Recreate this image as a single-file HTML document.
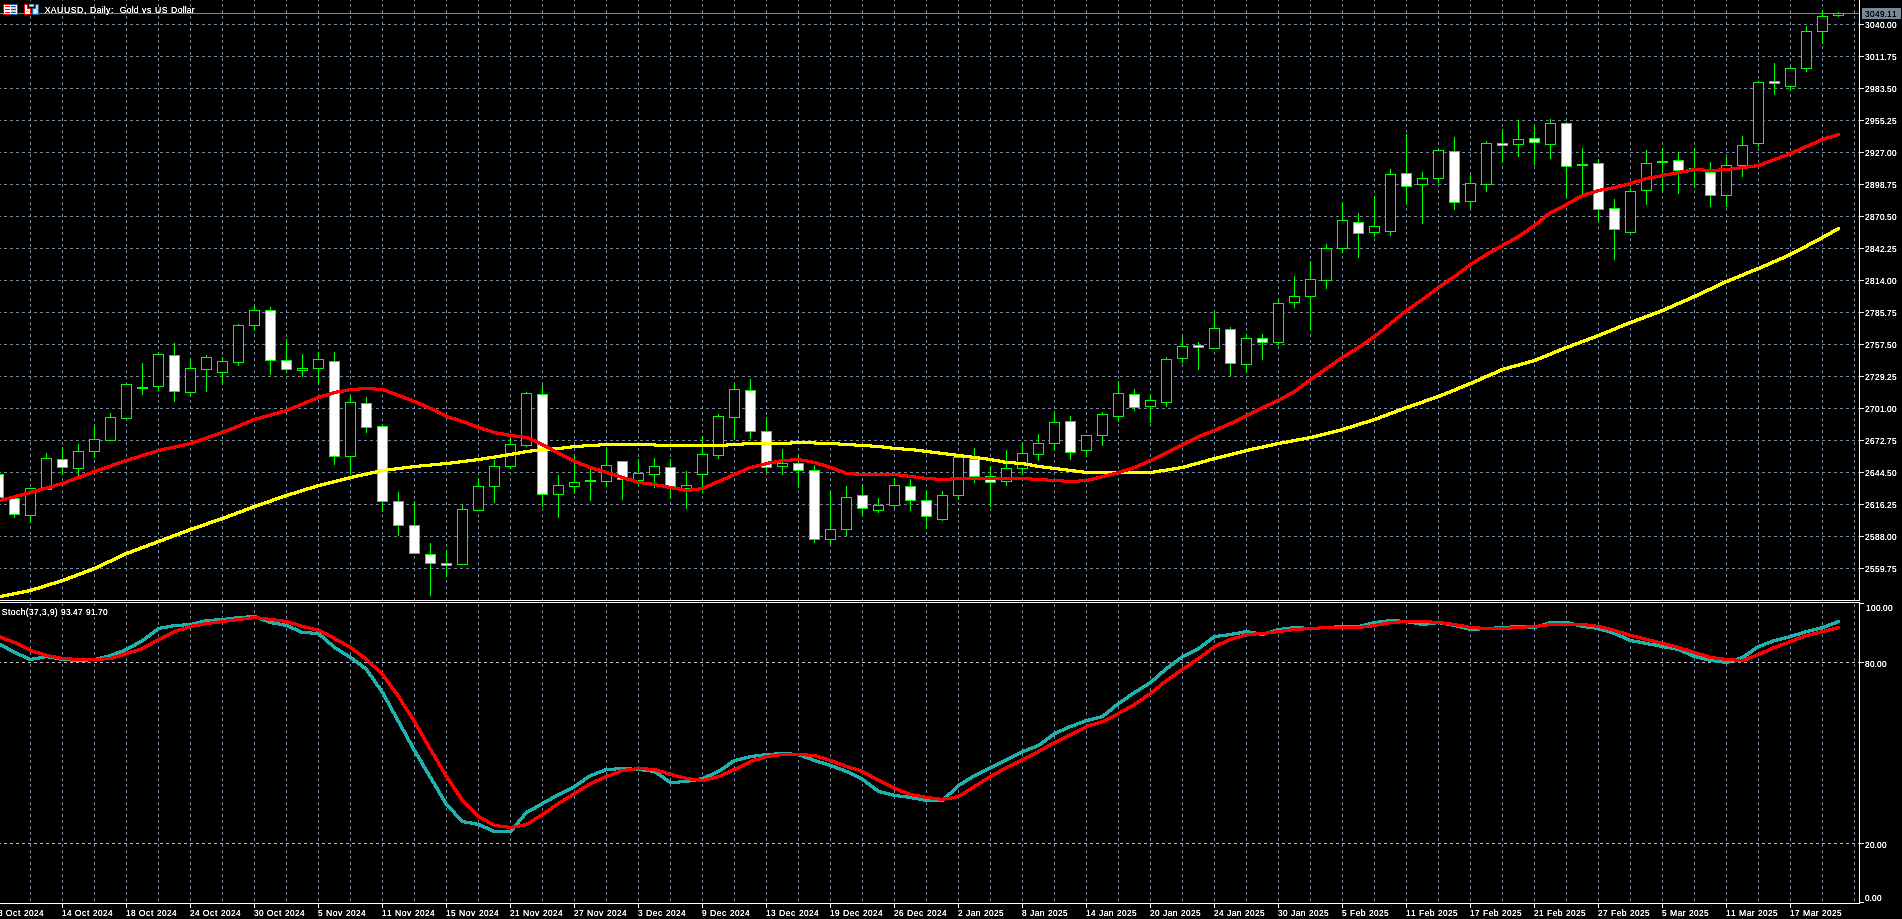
<!DOCTYPE html>
<html><head><meta charset="utf-8"><title>XAUUSD, Daily</title>
<style>html,body{margin:0;padding:0;background:#000;overflow:hidden;width:1902px;height:919px}svg{display:block}text{font-family:"Liberation Sans",sans-serif;fill:#fff}</style></head><body>
<svg width="1902" height="919" viewBox="0 0 1902 919">
<defs><clipPath id="cm"><rect x="0" y="0" width="1859" height="600"/></clipPath><clipPath id="cs"><rect x="0" y="603" width="1859" height="300"/></clipPath><filter id="tb" x="0" y="0" width="1" height="1" filterUnits="objectBoundingBox"><feComponentTransfer><feFuncA type="linear" slope="1.4"/></feComponentTransfer></filter></defs>
<rect x="0" y="0" width="1902" height="919" fill="#000"/>
<g clip-path="url(#cm)" shape-rendering="crispEdges"><path d="M30.5 -2V600M62.5 -2V600M94.5 -2V600M126.5 -2V600M158.5 -2V600M190.5 -2V600M222.5 -2V600M254.5 -2V600M286.5 -2V600M318.5 -2V600M350.5 -2V600M382.5 -2V600M414.5 -2V600M446.5 -2V600M478.5 -2V600M510.5 -2V600M542.5 -2V600M574.5 -2V600M606.5 -2V600M638.5 -2V600M670.5 -2V600M702.5 -2V600M734.5 -2V600M766.5 -2V600M798.5 -2V600M830.5 -2V600M862.5 -2V600M894.5 -2V600M926.5 -2V600M958.5 -2V600M990.5 -2V600M1022.5 -2V600M1054.5 -2V600M1086.5 -2V600M1118.5 -2V600M1150.5 -2V600M1182.5 -2V600M1214.5 -2V600M1246.5 -2V600M1278.5 -2V600M1310.5 -2V600M1342.5 -2V600M1374.5 -2V600M1406.5 -2V600M1438.5 -2V600M1470.5 -2V600M1502.5 -2V600M1534.5 -2V600M1566.5 -2V600M1598.5 -2V600M1630.5 -2V600M1662.5 -2V600M1694.5 -2V600M1726.5 -2V600M1758.5 -2V600M1790.5 -2V600M1822.5 -2V600M1854.5 -2V600M-2 24.5H1859M-2 56.5H1859M-2 88.5H1859M-2 120.5H1859M-2 152.5H1859M-2 184.5H1859M-2 216.5H1859M-2 248.5H1859M-2 280.5H1859M-2 312.5H1859M-2 344.5H1859M-2 376.5H1859M-2 408.5H1859M-2 440.5H1859M-2 472.5H1859M-2 504.5H1859M-2 536.5H1859M-2 568.5H1859" stroke="#778899" stroke-width="1" stroke-dasharray="3 3" fill="none"/></g>
<g clip-path="url(#cs)" shape-rendering="crispEdges"><path d="M30.5 598V903M62.5 598V903M94.5 598V903M126.5 598V903M158.5 598V903M190.5 598V903M222.5 598V903M254.5 598V903M286.5 598V903M318.5 598V903M350.5 598V903M382.5 598V903M414.5 598V903M446.5 598V903M478.5 598V903M510.5 598V903M542.5 598V903M574.5 598V903M606.5 598V903M638.5 598V903M670.5 598V903M702.5 598V903M734.5 598V903M766.5 598V903M798.5 598V903M830.5 598V903M862.5 598V903M894.5 598V903M926.5 598V903M958.5 598V903M990.5 598V903M1022.5 598V903M1054.5 598V903M1086.5 598V903M1118.5 598V903M1150.5 598V903M1182.5 598V903M1214.5 598V903M1246.5 598V903M1278.5 598V903M1310.5 598V903M1342.5 598V903M1374.5 598V903M1406.5 598V903M1438.5 598V903M1470.5 598V903M1502.5 598V903M1534.5 598V903M1566.5 598V903M1598.5 598V903M1630.5 598V903M1662.5 598V903M1694.5 598V903M1726.5 598V903M1758.5 598V903M1790.5 598V903M1822.5 598V903M1854.5 598V903" stroke="#778899" stroke-width="1" stroke-dasharray="3 3" fill="none"/><path d="M-2 662.5H1859M-2 843.5H1859" stroke="#C0C0C0" stroke-width="1" stroke-dasharray="3 3" fill="none"/></g>
<rect x="0" y="13" width="1859" height="1" fill="#778899"/>
<g clip-path="url(#cm)" shape-rendering="crispEdges"><path d="M-2 498h1v3h-1zM-7 474h11v24h-11zM14 515h1v3h-1zM9 498h11v17h-11zM30 516h1v7h-1zM25 488h11v28h-11zM46 453h1v5h-1zM41 458h11v32h-11zM62 447h1v12h-1zM62 468h1v7h-1zM57 459h11v9h-11zM78 444h1v7h-1zM78 469h1v8h-1zM73 451h11v18h-11zM94 425h1v14h-1zM94 452h1v6h-1zM89 439h11v13h-11zM110 413h1v4h-1zM105 417h11v24h-11zM121 384h11v35h-11zM142 363h1v24h-1zM142 389h1v6h-1zM137 387h11v2h-11zM158 387h1v4h-1zM153 354h11v33h-11zM174 343h1v12h-1zM174 392h1v10h-1zM169 355h11v37h-11zM190 359h1v9h-1zM190 393h1v2h-1zM185 368h11v25h-11zM206 355h1v2h-1zM206 370h1v22h-1zM201 357h11v13h-11zM222 357h1v4h-1zM222 373h1v10h-1zM217 361h11v12h-11zM238 324h1v1h-1zM238 363h1v3h-1zM233 325h11v38h-11zM254 305h1v5h-1zM254 326h1v5h-1zM249 310h11v16h-11zM270 307h1v3h-1zM270 361h1v14h-1zM265 310h11v51h-11zM286 339h1v21h-1zM286 370h1v3h-1zM281 360h11v10h-11zM302 354h1v14h-1zM302 371h1v6h-1zM297 368h11v3h-11zM318 352h1v7h-1zM318 369h1v15h-1zM313 359h11v10h-11zM334 352h1v9h-1zM334 457h1v8h-1zM329 361h11v96h-11zM350 396h1v6h-1zM350 457h1v18h-1zM345 402h11v55h-11zM366 397h1v6h-1zM366 428h1v5h-1zM361 403h11v25h-11zM382 425h1v1h-1zM382 502h1v10h-1zM377 426h11v76h-11zM398 492h1v9h-1zM398 526h1v10h-1zM393 501h11v25h-11zM414 501h1v24h-1zM409 525h11v29h-11zM430 543h1v11h-1zM430 564h1v32h-1zM425 554h11v10h-11zM446 550h1v13h-1zM446 566h1v11h-1zM441 563h11v3h-11zM462 505h1v4h-1zM457 509h11v56h-11zM478 478h1v8h-1zM473 486h11v25h-11zM494 460h1v6h-1zM494 487h1v16h-1zM489 466h11v21h-11zM510 437h1v7h-1zM510 467h1v2h-1zM505 444h11v23h-11zM526 392h1v1h-1zM526 446h1v1h-1zM521 393h11v53h-11zM542 385h1v9h-1zM542 495h1v12h-1zM537 394h11v101h-11zM558 475h1v10h-1zM558 495h1v23h-1zM553 485h11v10h-11zM574 456h1v26h-1zM574 487h1v7h-1zM569 482h11v5h-11zM590 468h1v12h-1zM590 482h1v19h-1zM585 480h11v2h-11zM606 447h1v18h-1zM606 482h1v5h-1zM601 465h11v17h-11zM622 480h1v20h-1zM617 461h11v19h-11zM638 459h1v14h-1zM638 481h1v4h-1zM633 473h11v8h-11zM654 458h1v8h-1zM654 475h1v13h-1zM649 466h11v9h-11zM670 459h1v8h-1zM670 487h1v12h-1zM665 467h11v20h-11zM686 471h1v14h-1zM686 489h1v20h-1zM681 485h11v4h-11zM702 436h1v18h-1zM702 475h1v18h-1zM697 454h11v21h-11zM718 414h1v2h-1zM718 456h1v3h-1zM713 416h11v40h-11zM734 384h1v5h-1zM734 418h1v22h-1zM729 389h11v29h-11zM750 379h1v11h-1zM750 432h1v7h-1zM745 390h11v42h-11zM766 417h1v14h-1zM766 468h1v4h-1zM761 431h11v37h-11zM782 449h1v14h-1zM782 467h1v8h-1zM777 463h11v4h-11zM798 455h1v8h-1zM798 471h1v17h-1zM793 463h11v8h-11zM814 465h1v5h-1zM814 540h1v3h-1zM809 470h11v70h-11zM830 491h1v38h-1zM830 540h1v4h-1zM825 529h11v11h-11zM846 486h1v11h-1zM846 530h1v6h-1zM841 497h11v33h-11zM862 485h1v10h-1zM862 509h1v6h-1zM857 495h11v14h-11zM878 498h1v7h-1zM878 511h1v2h-1zM873 505h11v6h-11zM894 478h1v7h-1zM894 506h1v2h-1zM889 485h11v21h-11zM910 479h1v7h-1zM910 501h1v10h-1zM905 486h11v15h-11zM926 490h1v10h-1zM926 517h1v12h-1zM921 500h11v17h-11zM942 491h1v4h-1zM942 520h1v1h-1zM937 495h11v25h-11zM958 496h1v4h-1zM953 457h11v39h-11zM974 448h1v11h-1zM974 477h1v6h-1zM969 459h11v18h-11zM990 466h1v10h-1zM990 483h1v24h-1zM985 476h11v7h-11zM1006 450h1v18h-1zM1006 482h1v4h-1zM1001 468h11v14h-11zM1022 443h1v10h-1zM1022 469h1v6h-1zM1017 453h11v16h-11zM1038 434h1v9h-1zM1038 455h1v6h-1zM1033 443h11v12h-11zM1054 411h1v11h-1zM1054 444h1v7h-1zM1049 422h11v22h-11zM1070 416h1v5h-1zM1070 453h1v7h-1zM1065 421h11v32h-11zM1086 451h1v6h-1zM1081 435h11v16h-11zM1102 412h1v2h-1zM1102 436h1v10h-1zM1097 414h11v22h-11zM1118 381h1v12h-1zM1118 417h1v5h-1zM1113 393h11v24h-11zM1134 389h1v5h-1zM1134 408h1v3h-1zM1129 394h11v14h-11zM1150 394h1v6h-1zM1150 407h1v16h-1zM1145 400h11v7h-11zM1166 357h1v2h-1zM1166 403h1v4h-1zM1161 359h11v44h-11zM1182 337h1v9h-1zM1182 359h1v4h-1zM1177 346h11v13h-11zM1198 342h1v3h-1zM1198 348h1v22h-1zM1193 345h11v3h-11zM1214 312h1v16h-1zM1209 328h11v21h-11zM1230 327h1v2h-1zM1230 364h1v12h-1zM1225 329h11v35h-11zM1246 334h1v4h-1zM1246 365h1v8h-1zM1241 338h11v27h-11zM1262 334h1v4h-1zM1262 343h1v17h-1zM1257 338h11v5h-11zM1278 300h1v3h-1zM1278 343h1v2h-1zM1273 303h11v40h-11zM1294 276h1v20h-1zM1294 303h1v5h-1zM1289 296h11v7h-11zM1310 261h1v18h-1zM1310 297h1v34h-1zM1305 279h11v18h-11zM1326 244h1v4h-1zM1326 281h1v8h-1zM1321 248h11v33h-11zM1342 202h1v18h-1zM1342 249h1v4h-1zM1337 220h11v29h-11zM1358 213h1v9h-1zM1358 234h1v24h-1zM1353 222h11v12h-11zM1374 196h1v30h-1zM1374 233h1v4h-1zM1369 226h11v7h-11zM1390 169h1v5h-1zM1390 232h1v4h-1zM1385 174h11v58h-11zM1406 134h1v39h-1zM1406 187h1v18h-1zM1401 173h11v14h-11zM1422 172h1v6h-1zM1422 185h1v39h-1zM1417 178h11v7h-11zM1438 149h1v1h-1zM1438 179h1v4h-1zM1433 150h11v29h-11zM1454 137h1v14h-1zM1454 203h1v7h-1zM1449 151h11v52h-11zM1470 175h1v8h-1zM1470 202h1v6h-1zM1465 183h11v19h-11zM1486 141h1v2h-1zM1486 185h1v7h-1zM1481 143h11v42h-11zM1502 129h1v14h-1zM1502 146h1v17h-1zM1497 143h11v3h-11zM1518 120h1v19h-1zM1518 145h1v12h-1zM1513 139h11v6h-11zM1534 126h1v12h-1zM1534 143h1v22h-1zM1529 138h11v5h-11zM1550 119h1v4h-1zM1550 145h1v14h-1zM1545 123h11v22h-11zM1566 122h1v1h-1zM1566 167h1v31h-1zM1561 123h11v44h-11zM1582 148h1v16h-1zM1582 166h1v29h-1zM1577 164h11v2h-11zM1598 159h1v4h-1zM1598 210h1v12h-1zM1593 163h11v47h-11zM1614 199h1v9h-1zM1614 230h1v30h-1zM1609 208h11v22h-11zM1630 188h1v3h-1zM1625 191h11v42h-11zM1646 150h1v13h-1zM1646 191h1v14h-1zM1641 163h11v28h-11zM1662 148h1v13h-1zM1662 163h1v29h-1zM1657 161h11v2h-11zM1678 152h1v8h-1zM1678 171h1v23h-1zM1673 160h11v11h-11zM1694 148h1v20h-1zM1694 170h1v18h-1zM1689 168h11v2h-11zM1710 162h1v10h-1zM1710 196h1v11h-1zM1705 172h11v24h-11zM1726 157h1v8h-1zM1726 196h1v11h-1zM1721 165h11v31h-11zM1742 136h1v9h-1zM1742 166h1v11h-1zM1737 145h11v21h-11zM1758 81h1v1h-1zM1758 144h1v3h-1zM1753 82h11v62h-11zM1774 63h1v18h-1zM1774 84h1v11h-1zM1769 81h11v3h-11zM1790 67h1v1h-1zM1790 87h1v4h-1zM1785 68h11v19h-11zM1806 26h1v5h-1zM1806 69h1v3h-1zM1801 31h11v38h-11zM1822 10h1v6h-1zM1822 32h1v12h-1zM1817 16h11v16h-11zM1838 12h1v1h-1zM1838 16h1v1h-1zM1833 13h11v3h-11z" fill="#00FF00"/><path d="M26 489h9v26h-9zM42 459h9v30h-9zM74 452h9v16h-9zM90 440h9v11h-9zM106 418h9v22h-9zM122 385h9v33h-9zM154 355h9v31h-9zM186 369h9v23h-9zM202 358h9v11h-9zM218 362h9v10h-9zM234 326h9v36h-9zM250 311h9v14h-9zM298 369h9v1h-9zM314 360h9v8h-9zM346 403h9v53h-9zM458 510h9v54h-9zM474 487h9v23h-9zM490 467h9v19h-9zM506 445h9v21h-9zM522 394h9v51h-9zM554 486h9v8h-9zM570 483h9v3h-9zM602 466h9v15h-9zM634 474h9v6h-9zM650 467h9v7h-9zM682 486h9v2h-9zM698 455h9v19h-9zM714 417h9v38h-9zM730 390h9v27h-9zM778 464h9v2h-9zM826 530h9v9h-9zM842 498h9v31h-9zM874 506h9v4h-9zM890 486h9v19h-9zM938 496h9v23h-9zM954 458h9v37h-9zM1002 469h9v12h-9zM1018 454h9v14h-9zM1034 444h9v10h-9zM1050 423h9v20h-9zM1082 436h9v14h-9zM1098 415h9v20h-9zM1114 394h9v22h-9zM1146 401h9v5h-9zM1162 360h9v42h-9zM1178 347h9v11h-9zM1210 329h9v19h-9zM1242 339h9v25h-9zM1274 304h9v38h-9zM1290 297h9v5h-9zM1306 280h9v16h-9zM1322 249h9v31h-9zM1338 221h9v27h-9zM1370 227h9v5h-9zM1386 175h9v56h-9zM1418 179h9v5h-9zM1434 151h9v27h-9zM1466 184h9v17h-9zM1482 144h9v40h-9zM1514 140h9v4h-9zM1546 124h9v20h-9zM1626 192h9v40h-9zM1642 164h9v26h-9zM1722 166h9v29h-9zM1738 146h9v19h-9zM1754 83h9v60h-9zM1786 69h9v17h-9zM1802 32h9v36h-9zM1818 17h9v14h-9zM1834 14h9v1h-9z" fill="#000"/><path d="M-6 475h9v22h-9zM10 499h9v15h-9zM58 460h9v7h-9zM170 356h9v35h-9zM266 311h9v49h-9zM282 361h9v8h-9zM330 362h9v94h-9zM362 404h9v23h-9zM378 427h9v74h-9zM394 502h9v23h-9zM410 526h9v27h-9zM426 555h9v8h-9zM442 564h9v1h-9zM538 395h9v99h-9zM618 462h9v17h-9zM666 468h9v18h-9zM746 391h9v40h-9zM762 432h9v35h-9zM794 464h9v6h-9zM810 471h9v68h-9zM858 496h9v12h-9zM906 487h9v13h-9zM922 501h9v15h-9zM970 460h9v16h-9zM986 477h9v5h-9zM1066 422h9v30h-9zM1130 395h9v12h-9zM1194 346h9v1h-9zM1226 330h9v33h-9zM1258 339h9v3h-9zM1354 223h9v10h-9zM1402 174h9v12h-9zM1450 152h9v50h-9zM1498 144h9v1h-9zM1530 139h9v3h-9zM1562 124h9v42h-9zM1594 164h9v45h-9zM1610 209h9v20h-9zM1674 161h9v9h-9zM1706 173h9v22h-9zM1770 82h9v1h-9z" fill="#FFF"/><path d="M-1 595h1v3h-1zM0 595h1v3h-1zM1 595h1v3h-1zM2 594h1v4h-1zM3 594h1v4h-1zM4 594h1v3h-1zM5 594h1v3h-1zM6 594h1v3h-1zM7 593h1v4h-1zM8 593h1v4h-1zM9 593h1v3h-1zM10 593h1v3h-1zM11 593h1v3h-1zM12 592h1v4h-1zM13 592h1v4h-1zM14 592h1v3h-1zM15 592h1v3h-1zM16 592h1v3h-1zM17 591h1v4h-1zM18 591h1v4h-1zM19 591h1v3h-1zM20 591h1v3h-1zM21 591h1v3h-1zM22 590h1v4h-1zM23 590h1v4h-1zM24 590h1v3h-1zM25 590h1v3h-1zM26 590h1v3h-1zM27 589h1v4h-1zM28 589h1v4h-1zM29 589h1v3h-1zM30 589h1v3h-1zM31 588h1v4h-1zM32 588h1v4h-1zM33 588h1v3h-1zM34 587h1v4h-1zM35 587h1v4h-1zM36 587h1v3h-1zM37 587h1v3h-1zM38 586h1v4h-1zM39 586h1v4h-1zM40 586h1v3h-1zM41 585h1v4h-1zM42 585h1v4h-1zM43 585h1v3h-1zM44 584h1v4h-1zM45 584h1v4h-1zM46 584h1v3h-1zM47 583h1v4h-1zM48 583h1v4h-1zM49 583h1v3h-1zM50 582h1v4h-1zM51 582h1v4h-1zM52 582h1v3h-1zM53 582h1v3h-1zM54 581h1v4h-1zM55 581h1v4h-1zM56 581h1v3h-1zM57 580h1v4h-1zM58 580h1v4h-1zM59 580h1v3h-1zM60 579h1v4h-1zM61 579h1v4h-1zM62 579h1v3h-1zM63 578h1v4h-1zM64 578h1v4h-1zM65 578h1v3h-1zM66 577h1v4h-1zM67 577h1v4h-1zM68 576h1v4h-1zM69 576h1v4h-1zM70 576h1v3h-1zM71 575h1v4h-1zM72 575h1v4h-1zM73 575h1v3h-1zM74 574h1v4h-1zM75 574h1v4h-1zM76 573h1v4h-1zM77 573h1v4h-1zM78 573h1v3h-1zM79 572h1v4h-1zM80 572h1v4h-1zM81 572h1v3h-1zM82 571h1v4h-1zM83 571h1v4h-1zM84 570h1v4h-1zM85 570h1v4h-1zM86 570h1v3h-1zM87 569h1v4h-1zM88 569h1v4h-1zM89 569h1v3h-1zM90 568h1v4h-1zM91 568h1v4h-1zM92 567h1v4h-1zM93 567h1v4h-1zM94 567h1v3h-1zM95 566h1v4h-1zM96 566h1v4h-1zM97 565h1v4h-1zM98 565h1v4h-1zM99 564h1v4h-1zM100 564h1v4h-1zM101 563h1v4h-1zM102 563h1v4h-1zM103 562h1v4h-1zM104 562h1v4h-1zM105 561h1v4h-1zM106 561h1v4h-1zM107 560h1v4h-1zM108 560h1v4h-1zM109 560h1v3h-1zM110 559h1v4h-1zM111 559h1v4h-1zM112 558h1v4h-1zM113 558h1v4h-1zM114 557h1v4h-1zM115 557h1v4h-1zM116 556h1v4h-1zM117 556h1v4h-1zM118 555h1v4h-1zM119 555h1v4h-1zM120 554h1v4h-1zM121 554h1v4h-1zM122 553h1v4h-1zM123 553h1v4h-1zM124 552h1v4h-1zM125 552h1v4h-1zM126 552h1v3h-1zM127 551h1v4h-1zM128 551h1v4h-1zM129 551h1v3h-1zM130 550h1v4h-1zM131 550h1v4h-1zM132 549h1v4h-1zM133 549h1v4h-1zM134 549h1v3h-1zM135 548h1v4h-1zM136 548h1v4h-1zM137 548h1v3h-1zM138 547h1v4h-1zM139 547h1v4h-1zM140 546h1v4h-1zM141 546h1v4h-1zM142 546h1v3h-1zM143 545h1v4h-1zM144 545h1v4h-1zM145 545h1v3h-1zM146 544h1v4h-1zM147 544h1v4h-1zM148 543h1v4h-1zM149 543h1v4h-1zM150 543h1v3h-1zM151 542h1v4h-1zM152 542h1v4h-1zM153 542h1v3h-1zM154 541h1v4h-1zM155 541h1v4h-1zM156 540h1v4h-1zM157 540h1v4h-1zM158 540h1v3h-1zM159 539h1v4h-1zM160 539h1v4h-1zM161 539h1v3h-1zM162 538h1v4h-1zM163 538h1v4h-1zM164 537h1v4h-1zM165 537h1v4h-1zM166 537h1v3h-1zM167 536h1v4h-1zM168 536h1v4h-1zM169 536h1v3h-1zM170 535h1v4h-1zM171 535h1v4h-1zM172 534h1v4h-1zM173 534h1v4h-1zM174 534h1v3h-1zM175 533h1v4h-1zM176 533h1v4h-1zM177 533h1v3h-1zM178 532h1v4h-1zM179 532h1v4h-1zM180 531h1v4h-1zM181 531h1v4h-1zM182 531h1v3h-1zM183 530h1v4h-1zM184 530h1v4h-1zM185 530h1v3h-1zM186 529h1v4h-1zM187 529h1v4h-1zM188 528h1v4h-1zM189 528h1v4h-1zM190 528h1v3h-1zM191 527h1v4h-1zM192 527h1v4h-1zM193 527h1v3h-1zM194 526h1v4h-1zM195 526h1v4h-1zM196 526h1v3h-1zM197 525h1v4h-1zM198 525h1v4h-1zM199 525h1v3h-1zM200 524h1v4h-1zM201 524h1v4h-1zM202 524h1v3h-1zM203 523h1v4h-1zM204 523h1v4h-1zM205 523h1v3h-1zM206 522h1v4h-1zM207 522h1v4h-1zM208 521h1v4h-1zM209 521h1v4h-1zM210 521h1v3h-1zM211 520h1v4h-1zM212 520h1v4h-1zM213 520h1v3h-1zM214 519h1v4h-1zM215 519h1v4h-1zM216 519h1v3h-1zM217 518h1v4h-1zM218 518h1v4h-1zM219 518h1v3h-1zM220 517h1v4h-1zM221 517h1v4h-1zM222 517h1v3h-1zM223 516h1v4h-1zM224 516h1v4h-1zM225 516h1v3h-1zM226 515h1v4h-1zM227 515h1v4h-1zM228 514h1v4h-1zM229 514h1v4h-1zM230 514h1v3h-1zM231 513h1v4h-1zM232 513h1v4h-1zM233 513h1v3h-1zM234 512h1v4h-1zM235 512h1v4h-1zM236 511h1v4h-1zM237 511h1v4h-1zM238 511h1v3h-1zM239 510h1v4h-1zM240 510h1v4h-1zM241 510h1v3h-1zM242 509h1v4h-1zM243 509h1v4h-1zM244 508h1v4h-1zM245 508h1v4h-1zM246 508h1v3h-1zM247 507h1v4h-1zM248 507h1v4h-1zM249 507h1v3h-1zM250 506h1v4h-1zM251 506h1v4h-1zM252 505h1v4h-1zM253 505h1v4h-1zM254 505h1v3h-1zM255 504h1v4h-1zM256 504h1v4h-1zM257 504h1v3h-1zM258 503h1v4h-1zM259 503h1v4h-1zM260 503h1v3h-1zM261 502h1v4h-1zM262 502h1v4h-1zM263 502h1v3h-1zM264 501h1v4h-1zM265 501h1v4h-1zM266 501h1v3h-1zM267 500h1v4h-1zM268 500h1v4h-1zM269 500h1v3h-1zM270 499h1v4h-1zM271 499h1v4h-1zM272 498h1v4h-1zM273 498h1v4h-1zM274 498h1v3h-1zM275 497h1v4h-1zM276 497h1v4h-1zM277 497h1v3h-1zM278 496h1v4h-1zM279 496h1v4h-1zM280 496h1v3h-1zM281 495h1v4h-1zM282 495h1v4h-1zM283 495h1v3h-1zM284 494h1v4h-1zM285 494h1v4h-1zM286 494h1v3h-1zM287 493h1v4h-1zM288 493h1v4h-1zM289 493h1v3h-1zM290 492h1v4h-1zM291 492h1v4h-1zM292 492h1v3h-1zM293 492h1v3h-1zM294 491h1v4h-1zM295 491h1v4h-1zM296 491h1v3h-1zM297 490h1v4h-1zM298 490h1v4h-1zM299 490h1v3h-1zM300 489h1v4h-1zM301 489h1v4h-1zM302 489h1v3h-1zM303 488h1v4h-1zM304 488h1v4h-1zM305 488h1v3h-1zM306 487h1v4h-1zM307 487h1v4h-1zM308 487h1v3h-1zM309 487h1v3h-1zM310 486h1v4h-1zM311 486h1v4h-1zM312 486h1v3h-1zM313 485h1v4h-1zM314 485h1v4h-1zM315 485h1v3h-1zM316 484h1v4h-1zM317 484h1v4h-1zM318 484h1v3h-1zM319 484h1v3h-1zM320 483h1v4h-1zM321 483h1v4h-1zM322 483h1v3h-1zM323 483h1v3h-1zM324 482h1v4h-1zM325 482h1v4h-1zM326 482h1v3h-1zM327 482h1v3h-1zM328 481h1v4h-1zM329 481h1v4h-1zM330 481h1v3h-1zM331 481h1v3h-1zM332 480h1v4h-1zM333 480h1v4h-1zM334 480h1v3h-1zM335 480h1v3h-1zM336 479h1v4h-1zM337 479h1v4h-1zM338 479h1v3h-1zM339 479h1v3h-1zM340 478h1v4h-1zM341 478h1v4h-1zM342 478h1v3h-1zM343 478h1v3h-1zM344 477h1v4h-1zM345 477h1v4h-1zM346 477h1v3h-1zM347 477h1v3h-1zM348 476h1v4h-1zM349 476h1v4h-1zM350 476h1v3h-1zM351 476h1v3h-1zM352 475h1v4h-1zM353 475h1v4h-1zM354 475h1v3h-1zM355 475h1v3h-1zM356 474h1v4h-1zM357 474h1v4h-1zM358 474h1v3h-1zM359 474h1v3h-1zM360 474h1v3h-1zM361 473h1v4h-1zM362 473h1v4h-1zM363 473h1v3h-1zM364 473h1v3h-1zM365 473h1v3h-1zM366 472h1v4h-1zM367 472h1v4h-1zM368 472h1v3h-1zM369 472h1v3h-1zM370 471h1v4h-1zM371 471h1v4h-1zM372 471h1v3h-1zM373 471h1v3h-1zM374 471h1v3h-1zM375 470h1v4h-1zM376 470h1v4h-1zM377 470h1v3h-1zM378 470h1v3h-1zM379 469h1v4h-1zM380 469h1v4h-1zM381 469h1v3h-1zM382 469h1v3h-1zM383 469h1v3h-1zM384 469h1v3h-1zM385 469h1v3h-1zM386 468h1v4h-1zM387 468h1v4h-1zM388 468h1v3h-1zM389 468h1v3h-1zM390 468h1v3h-1zM391 468h1v3h-1zM392 468h1v3h-1zM393 468h1v3h-1zM394 467h1v4h-1zM395 467h1v4h-1zM396 467h1v3h-1zM397 467h1v3h-1zM398 467h1v3h-1zM399 467h1v3h-1zM400 467h1v3h-1zM401 467h1v3h-1zM402 466h1v4h-1zM403 466h1v4h-1zM404 466h1v3h-1zM405 466h1v3h-1zM406 466h1v3h-1zM407 466h1v3h-1zM408 466h1v3h-1zM409 466h1v3h-1zM410 465h1v4h-1zM411 465h1v4h-1zM412 465h1v3h-1zM413 465h1v3h-1zM414 465h1v3h-1zM415 465h1v3h-1zM416 465h1v3h-1zM417 465h1v3h-1zM418 465h1v3h-1zM419 464h1v4h-1zM420 464h1v4h-1zM421 464h1v3h-1zM422 464h1v3h-1zM423 464h1v3h-1zM424 464h1v3h-1zM425 464h1v3h-1zM426 464h1v3h-1zM427 464h1v3h-1zM428 464h1v3h-1zM429 464h1v3h-1zM430 463h1v4h-1zM431 463h1v4h-1zM432 463h1v3h-1zM433 463h1v3h-1zM434 463h1v3h-1zM435 463h1v3h-1zM436 463h1v3h-1zM437 463h1v3h-1zM438 463h1v3h-1zM439 463h1v3h-1zM440 462h1v4h-1zM441 462h1v4h-1zM442 462h1v3h-1zM443 462h1v3h-1zM444 462h1v3h-1zM445 462h1v3h-1zM446 462h1v3h-1zM447 462h1v3h-1zM448 462h1v3h-1zM449 462h1v3h-1zM450 461h1v4h-1zM451 461h1v4h-1zM452 461h1v3h-1zM453 461h1v3h-1zM454 461h1v3h-1zM455 461h1v3h-1zM456 461h1v3h-1zM457 461h1v3h-1zM458 460h1v4h-1zM459 460h1v4h-1zM460 460h1v3h-1zM461 460h1v3h-1zM462 460h1v3h-1zM463 460h1v3h-1zM464 460h1v3h-1zM465 460h1v3h-1zM466 459h1v4h-1zM467 459h1v4h-1zM468 459h1v3h-1zM469 459h1v3h-1zM470 459h1v3h-1zM471 459h1v3h-1zM472 459h1v3h-1zM473 459h1v3h-1zM474 458h1v4h-1zM475 458h1v4h-1zM476 458h1v3h-1zM477 458h1v3h-1zM478 458h1v3h-1zM479 458h1v3h-1zM480 458h1v3h-1zM481 457h1v4h-1zM482 457h1v4h-1zM483 457h1v3h-1zM484 457h1v3h-1zM485 457h1v3h-1zM486 457h1v3h-1zM487 456h1v4h-1zM488 456h1v4h-1zM489 456h1v3h-1zM490 456h1v3h-1zM491 456h1v3h-1zM492 456h1v3h-1zM493 456h1v3h-1zM494 455h1v4h-1zM495 455h1v4h-1zM496 455h1v3h-1zM497 455h1v3h-1zM498 455h1v3h-1zM499 455h1v3h-1zM500 454h1v4h-1zM501 454h1v4h-1zM502 454h1v3h-1zM503 454h1v3h-1zM504 454h1v3h-1zM505 454h1v3h-1zM506 453h1v4h-1zM507 453h1v4h-1zM508 453h1v3h-1zM509 453h1v3h-1zM510 453h1v3h-1zM511 453h1v3h-1zM512 452h1v4h-1zM513 452h1v4h-1zM514 452h1v3h-1zM515 452h1v3h-1zM516 452h1v3h-1zM517 452h1v3h-1zM518 451h1v4h-1zM519 451h1v4h-1zM520 451h1v3h-1zM521 451h1v3h-1zM522 451h1v3h-1zM523 450h1v4h-1zM524 450h1v4h-1zM525 450h1v3h-1zM526 450h1v3h-1zM527 450h1v3h-1zM528 450h1v3h-1zM529 450h1v3h-1zM530 449h1v4h-1zM531 449h1v4h-1zM532 449h1v3h-1zM533 449h1v3h-1zM534 449h1v3h-1zM535 449h1v3h-1zM536 449h1v3h-1zM537 449h1v3h-1zM538 448h1v4h-1zM539 448h1v4h-1zM540 448h1v3h-1zM541 448h1v3h-1zM542 448h1v3h-1zM543 448h1v3h-1zM544 448h1v3h-1zM545 448h1v3h-1zM546 448h1v3h-1zM547 448h1v3h-1zM548 448h1v3h-1zM549 448h1v3h-1zM550 447h1v4h-1zM551 447h1v4h-1zM552 447h1v3h-1zM553 447h1v3h-1zM554 447h1v3h-1zM555 447h1v3h-1zM556 447h1v3h-1zM557 447h1v3h-1zM558 447h1v3h-1zM559 447h1v3h-1zM560 447h1v3h-1zM561 447h1v3h-1zM562 446h1v4h-1zM563 446h1v4h-1zM564 446h1v3h-1zM565 446h1v3h-1zM566 446h1v3h-1zM567 446h1v3h-1zM568 446h1v3h-1zM569 446h1v3h-1zM570 445h1v4h-1zM571 445h1v4h-1zM572 445h1v3h-1zM573 445h1v3h-1zM574 445h1v3h-1zM575 445h1v3h-1zM576 445h1v3h-1zM577 445h1v3h-1zM578 445h1v3h-1zM579 445h1v3h-1zM580 445h1v3h-1zM581 445h1v3h-1zM582 444h1v4h-1zM583 444h1v4h-1zM584 444h1v3h-1zM585 444h1v3h-1zM586 444h1v3h-1zM587 444h1v3h-1zM588 444h1v3h-1zM589 444h1v3h-1zM590 444h1v3h-1zM591 444h1v3h-1zM592 444h1v3h-1zM593 444h1v3h-1zM594 444h1v3h-1zM595 444h1v3h-1zM596 444h1v3h-1zM597 444h1v3h-1zM598 443h1v4h-1zM599 443h1v4h-1zM600 443h1v3h-1zM601 443h1v3h-1zM602 443h1v3h-1zM603 443h1v3h-1zM604 443h1v3h-1zM605 443h1v3h-1zM606 443h1v3h-1zM607 443h1v3h-1zM608 443h1v3h-1zM609 443h1v3h-1zM610 443h1v3h-1zM611 443h1v3h-1zM612 443h1v3h-1zM613 443h1v3h-1zM614 443h1v3h-1zM615 443h1v3h-1zM616 443h1v3h-1zM617 443h1v3h-1zM618 443h1v3h-1zM619 443h1v3h-1zM620 443h1v3h-1zM621 443h1v3h-1zM622 443h1v3h-1zM623 443h1v3h-1zM624 443h1v3h-1zM625 443h1v3h-1zM626 443h1v3h-1zM627 443h1v3h-1zM628 443h1v3h-1zM629 443h1v3h-1zM630 443h1v3h-1zM631 443h1v3h-1zM632 443h1v3h-1zM633 443h1v3h-1zM634 443h1v3h-1zM635 443h1v3h-1zM636 443h1v3h-1zM637 443h1v3h-1zM638 443h1v3h-1zM639 443h1v3h-1zM640 443h1v3h-1zM641 443h1v3h-1zM642 443h1v3h-1zM643 443h1v3h-1zM644 443h1v3h-1zM645 443h1v3h-1zM646 443h1v3h-1zM647 443h1v3h-1zM648 443h1v3h-1zM649 443h1v3h-1zM650 443h1v3h-1zM651 443h1v3h-1zM652 443h1v3h-1zM653 443h1v3h-1zM654 443h1v4h-1zM655 443h1v4h-1zM656 444h1v3h-1zM657 444h1v3h-1zM658 444h1v3h-1zM659 444h1v3h-1zM660 444h1v3h-1zM661 444h1v3h-1zM662 444h1v3h-1zM663 444h1v3h-1zM664 444h1v3h-1zM665 444h1v3h-1zM666 444h1v3h-1zM667 444h1v3h-1zM668 444h1v3h-1zM669 444h1v3h-1zM670 444h1v3h-1zM671 444h1v3h-1zM672 444h1v3h-1zM673 444h1v3h-1zM674 444h1v3h-1zM675 444h1v3h-1zM676 444h1v3h-1zM677 444h1v3h-1zM678 444h1v3h-1zM679 444h1v3h-1zM680 444h1v3h-1zM681 444h1v3h-1zM682 444h1v3h-1zM683 444h1v3h-1zM684 444h1v3h-1zM685 444h1v3h-1zM686 444h1v3h-1zM687 444h1v3h-1zM688 444h1v3h-1zM689 444h1v3h-1zM690 444h1v3h-1zM691 444h1v3h-1zM692 444h1v3h-1zM693 444h1v3h-1zM694 444h1v3h-1zM695 444h1v3h-1zM696 444h1v3h-1zM697 444h1v3h-1zM698 444h1v3h-1zM699 444h1v3h-1zM700 444h1v3h-1zM701 444h1v3h-1zM702 444h1v3h-1zM703 444h1v3h-1zM704 444h1v3h-1zM705 444h1v3h-1zM706 444h1v3h-1zM707 444h1v3h-1zM708 444h1v3h-1zM709 444h1v3h-1zM710 444h1v3h-1zM711 444h1v3h-1zM712 444h1v3h-1zM713 444h1v3h-1zM714 444h1v3h-1zM715 444h1v3h-1zM716 444h1v3h-1zM717 444h1v3h-1zM718 444h1v3h-1zM719 444h1v3h-1zM720 444h1v3h-1zM721 444h1v3h-1zM722 444h1v3h-1zM723 444h1v3h-1zM724 444h1v3h-1zM725 444h1v3h-1zM726 443h1v4h-1zM727 443h1v4h-1zM728 443h1v3h-1zM729 443h1v3h-1zM730 443h1v3h-1zM731 443h1v3h-1zM732 443h1v3h-1zM733 443h1v3h-1zM734 443h1v3h-1zM735 443h1v3h-1zM736 443h1v3h-1zM737 443h1v3h-1zM738 443h1v3h-1zM739 443h1v3h-1zM740 443h1v3h-1zM741 443h1v3h-1zM742 442h1v4h-1zM743 442h1v4h-1zM744 442h1v3h-1zM745 442h1v3h-1zM746 442h1v3h-1zM747 442h1v3h-1zM748 442h1v3h-1zM749 442h1v3h-1zM750 442h1v3h-1zM751 442h1v3h-1zM752 442h1v3h-1zM753 442h1v3h-1zM754 442h1v3h-1zM755 442h1v3h-1zM756 442h1v3h-1zM757 442h1v3h-1zM758 442h1v3h-1zM759 442h1v3h-1zM760 442h1v3h-1zM761 442h1v3h-1zM762 442h1v3h-1zM763 442h1v3h-1zM764 442h1v3h-1zM765 442h1v3h-1zM766 442h1v3h-1zM767 442h1v3h-1zM768 442h1v3h-1zM769 442h1v3h-1zM770 442h1v3h-1zM771 442h1v3h-1zM772 442h1v3h-1zM773 442h1v3h-1zM774 442h1v3h-1zM775 442h1v3h-1zM776 442h1v3h-1zM777 442h1v3h-1zM778 442h1v3h-1zM779 442h1v3h-1zM780 442h1v3h-1zM781 442h1v3h-1zM782 442h1v3h-1zM783 442h1v3h-1zM784 442h1v3h-1zM785 442h1v3h-1zM786 442h1v3h-1zM787 442h1v3h-1zM788 442h1v3h-1zM789 442h1v3h-1zM790 441h1v4h-1zM791 441h1v4h-1zM792 441h1v3h-1zM793 441h1v3h-1zM794 441h1v3h-1zM795 441h1v3h-1zM796 441h1v3h-1zM797 441h1v3h-1zM798 441h1v3h-1zM799 441h1v3h-1zM800 441h1v3h-1zM801 441h1v3h-1zM802 441h1v3h-1zM803 441h1v3h-1zM804 441h1v3h-1zM805 441h1v3h-1zM806 441h1v3h-1zM807 441h1v3h-1zM808 441h1v3h-1zM809 441h1v3h-1zM810 441h1v3h-1zM811 441h1v3h-1zM812 441h1v3h-1zM813 441h1v3h-1zM814 441h1v4h-1zM815 441h1v4h-1zM816 442h1v3h-1zM817 442h1v3h-1zM818 442h1v3h-1zM819 442h1v3h-1zM820 442h1v3h-1zM821 442h1v3h-1zM822 442h1v3h-1zM823 442h1v3h-1zM824 442h1v3h-1zM825 442h1v3h-1zM826 442h1v3h-1zM827 442h1v3h-1zM828 442h1v3h-1zM829 442h1v3h-1zM830 442h1v3h-1zM831 442h1v3h-1zM832 442h1v3h-1zM833 442h1v3h-1zM834 442h1v3h-1zM835 442h1v3h-1zM836 442h1v3h-1zM837 442h1v3h-1zM838 442h1v4h-1zM839 442h1v4h-1zM840 443h1v3h-1zM841 443h1v3h-1zM842 443h1v3h-1zM843 443h1v3h-1zM844 443h1v3h-1zM845 443h1v3h-1zM846 443h1v3h-1zM847 443h1v3h-1zM848 443h1v3h-1zM849 443h1v3h-1zM850 443h1v3h-1zM851 443h1v3h-1zM852 443h1v3h-1zM853 443h1v3h-1zM854 443h1v4h-1zM855 443h1v4h-1zM856 444h1v3h-1zM857 444h1v3h-1zM858 444h1v3h-1zM859 444h1v3h-1zM860 444h1v3h-1zM861 444h1v3h-1zM862 444h1v3h-1zM863 444h1v3h-1zM864 444h1v3h-1zM865 444h1v3h-1zM866 444h1v3h-1zM867 444h1v3h-1zM868 444h1v3h-1zM869 444h1v3h-1zM870 444h1v4h-1zM871 444h1v4h-1zM872 445h1v3h-1zM873 445h1v3h-1zM874 445h1v3h-1zM875 445h1v3h-1zM876 445h1v3h-1zM877 445h1v3h-1zM878 445h1v3h-1zM879 445h1v3h-1zM880 445h1v3h-1zM881 445h1v3h-1zM882 445h1v4h-1zM883 445h1v4h-1zM884 446h1v3h-1zM885 446h1v3h-1zM886 446h1v3h-1zM887 446h1v3h-1zM888 446h1v3h-1zM889 446h1v3h-1zM890 446h1v4h-1zM891 446h1v4h-1zM892 447h1v3h-1zM893 447h1v3h-1zM894 447h1v3h-1zM895 447h1v3h-1zM896 447h1v3h-1zM897 447h1v3h-1zM898 447h1v3h-1zM899 447h1v3h-1zM900 447h1v3h-1zM901 447h1v3h-1zM902 447h1v4h-1zM903 447h1v4h-1zM904 448h1v3h-1zM905 448h1v3h-1zM906 448h1v3h-1zM907 448h1v3h-1zM908 448h1v3h-1zM909 448h1v3h-1zM910 448h1v3h-1zM911 448h1v3h-1zM912 448h1v3h-1zM913 448h1v3h-1zM914 448h1v4h-1zM915 448h1v4h-1zM916 449h1v3h-1zM917 449h1v3h-1zM918 449h1v3h-1zM919 449h1v3h-1zM920 449h1v3h-1zM921 449h1v3h-1zM922 449h1v4h-1zM923 449h1v4h-1zM924 450h1v3h-1zM925 450h1v3h-1zM926 450h1v3h-1zM927 450h1v3h-1zM928 450h1v3h-1zM929 450h1v3h-1zM930 450h1v4h-1zM931 450h1v4h-1zM932 451h1v3h-1zM933 451h1v3h-1zM934 451h1v3h-1zM935 451h1v3h-1zM936 451h1v3h-1zM937 451h1v3h-1zM938 451h1v4h-1zM939 451h1v4h-1zM940 452h1v3h-1zM941 452h1v3h-1zM942 452h1v3h-1zM943 452h1v3h-1zM944 452h1v3h-1zM945 452h1v3h-1zM946 452h1v4h-1zM947 452h1v4h-1zM948 453h1v3h-1zM949 453h1v3h-1zM950 453h1v3h-1zM951 453h1v3h-1zM952 453h1v3h-1zM953 453h1v3h-1zM954 453h1v4h-1zM955 453h1v4h-1zM956 454h1v3h-1zM957 454h1v3h-1zM958 454h1v3h-1zM959 454h1v3h-1zM960 454h1v3h-1zM961 454h1v3h-1zM962 454h1v4h-1zM963 454h1v4h-1zM964 455h1v3h-1zM965 455h1v3h-1zM966 455h1v3h-1zM967 455h1v3h-1zM968 455h1v3h-1zM969 455h1v3h-1zM970 455h1v4h-1zM971 455h1v4h-1zM972 456h1v3h-1zM973 456h1v3h-1zM974 456h1v3h-1zM975 456h1v3h-1zM976 456h1v3h-1zM977 456h1v3h-1zM978 456h1v4h-1zM979 456h1v4h-1zM980 457h1v3h-1zM981 457h1v3h-1zM982 457h1v3h-1zM983 457h1v3h-1zM984 457h1v3h-1zM985 457h1v3h-1zM986 457h1v4h-1zM987 457h1v4h-1zM988 458h1v3h-1zM989 458h1v3h-1zM990 458h1v3h-1zM991 458h1v3h-1zM992 458h1v4h-1zM993 458h1v4h-1zM994 459h1v3h-1zM995 459h1v3h-1zM996 459h1v3h-1zM997 459h1v3h-1zM998 459h1v4h-1zM999 459h1v4h-1zM1000 460h1v3h-1zM1001 460h1v3h-1zM1002 460h1v3h-1zM1003 460h1v4h-1zM1004 460h1v4h-1zM1005 461h1v3h-1zM1006 461h1v3h-1zM1007 461h1v3h-1zM1008 461h1v3h-1zM1009 461h1v3h-1zM1010 461h1v3h-1zM1011 461h1v3h-1zM1012 461h1v3h-1zM1013 461h1v3h-1zM1014 461h1v4h-1zM1015 461h1v4h-1zM1016 462h1v3h-1zM1017 462h1v3h-1zM1018 462h1v3h-1zM1019 462h1v3h-1zM1020 462h1v3h-1zM1021 462h1v3h-1zM1022 462h1v3h-1zM1023 462h1v3h-1zM1024 462h1v4h-1zM1025 462h1v4h-1zM1026 463h1v3h-1zM1027 463h1v3h-1zM1028 463h1v3h-1zM1029 463h1v3h-1zM1030 463h1v4h-1zM1031 463h1v4h-1zM1032 464h1v3h-1zM1033 464h1v3h-1zM1034 464h1v3h-1zM1035 464h1v4h-1zM1036 464h1v4h-1zM1037 465h1v3h-1zM1038 465h1v3h-1zM1039 465h1v3h-1zM1040 465h1v3h-1zM1041 465h1v3h-1zM1042 465h1v4h-1zM1043 465h1v4h-1zM1044 466h1v3h-1zM1045 466h1v3h-1zM1046 466h1v3h-1zM1047 466h1v3h-1zM1048 466h1v3h-1zM1049 466h1v3h-1zM1050 466h1v4h-1zM1051 466h1v4h-1zM1052 467h1v3h-1zM1053 467h1v3h-1zM1054 467h1v3h-1zM1055 467h1v3h-1zM1056 467h1v3h-1zM1057 467h1v3h-1zM1058 467h1v4h-1zM1059 467h1v4h-1zM1060 468h1v3h-1zM1061 468h1v3h-1zM1062 468h1v3h-1zM1063 468h1v3h-1zM1064 468h1v3h-1zM1065 468h1v3h-1zM1066 468h1v4h-1zM1067 468h1v4h-1zM1068 469h1v3h-1zM1069 469h1v3h-1zM1070 469h1v3h-1zM1071 469h1v3h-1zM1072 469h1v3h-1zM1073 469h1v3h-1zM1074 469h1v4h-1zM1075 469h1v4h-1zM1076 470h1v3h-1zM1077 470h1v3h-1zM1078 470h1v3h-1zM1079 470h1v3h-1zM1080 470h1v3h-1zM1081 470h1v3h-1zM1082 470h1v4h-1zM1083 470h1v4h-1zM1084 471h1v3h-1zM1085 471h1v3h-1zM1086 471h1v3h-1zM1087 471h1v3h-1zM1088 471h1v3h-1zM1089 471h1v3h-1zM1090 471h1v3h-1zM1091 471h1v3h-1zM1092 471h1v3h-1zM1093 471h1v3h-1zM1094 471h1v3h-1zM1095 471h1v3h-1zM1096 471h1v3h-1zM1097 471h1v3h-1zM1098 471h1v3h-1zM1099 471h1v3h-1zM1100 471h1v3h-1zM1101 471h1v3h-1zM1102 471h1v3h-1zM1103 471h1v3h-1zM1104 471h1v3h-1zM1105 471h1v3h-1zM1106 471h1v3h-1zM1107 471h1v3h-1zM1108 471h1v3h-1zM1109 471h1v3h-1zM1110 471h1v3h-1zM1111 471h1v3h-1zM1112 471h1v3h-1zM1113 471h1v3h-1zM1114 471h1v3h-1zM1115 471h1v3h-1zM1116 471h1v3h-1zM1117 471h1v3h-1zM1118 471h1v3h-1zM1119 471h1v3h-1zM1120 471h1v3h-1zM1121 471h1v3h-1zM1122 471h1v3h-1zM1123 471h1v3h-1zM1124 471h1v3h-1zM1125 471h1v3h-1zM1126 471h1v3h-1zM1127 471h1v3h-1zM1128 471h1v3h-1zM1129 471h1v3h-1zM1130 471h1v3h-1zM1131 471h1v3h-1zM1132 471h1v3h-1zM1133 471h1v3h-1zM1134 471h1v3h-1zM1135 471h1v3h-1zM1136 471h1v3h-1zM1137 471h1v3h-1zM1138 471h1v3h-1zM1139 471h1v3h-1zM1140 471h1v3h-1zM1141 471h1v3h-1zM1142 471h1v3h-1zM1143 471h1v3h-1zM1144 471h1v3h-1zM1145 471h1v3h-1zM1146 471h1v3h-1zM1147 471h1v3h-1zM1148 471h1v3h-1zM1149 471h1v3h-1zM1150 471h1v3h-1zM1151 471h1v3h-1zM1152 471h1v3h-1zM1153 470h1v4h-1zM1154 470h1v4h-1zM1155 470h1v3h-1zM1156 470h1v3h-1zM1157 470h1v3h-1zM1158 470h1v3h-1zM1159 469h1v4h-1zM1160 469h1v4h-1zM1161 469h1v3h-1zM1162 469h1v3h-1zM1163 469h1v3h-1zM1164 469h1v3h-1zM1165 469h1v3h-1zM1166 468h1v4h-1zM1167 468h1v4h-1zM1168 468h1v3h-1zM1169 468h1v3h-1zM1170 468h1v3h-1zM1171 468h1v3h-1zM1172 467h1v4h-1zM1173 467h1v4h-1zM1174 467h1v3h-1zM1175 467h1v3h-1zM1176 467h1v3h-1zM1177 467h1v3h-1zM1178 466h1v4h-1zM1179 466h1v4h-1zM1180 466h1v3h-1zM1181 466h1v3h-1zM1182 466h1v3h-1zM1183 465h1v4h-1zM1184 465h1v4h-1zM1185 465h1v3h-1zM1186 465h1v3h-1zM1187 464h1v4h-1zM1188 464h1v4h-1zM1189 464h1v3h-1zM1190 463h1v4h-1zM1191 463h1v4h-1zM1192 463h1v3h-1zM1193 463h1v3h-1zM1194 462h1v4h-1zM1195 462h1v4h-1zM1196 462h1v3h-1zM1197 462h1v3h-1zM1198 461h1v4h-1zM1199 461h1v4h-1zM1200 461h1v3h-1zM1201 460h1v4h-1zM1202 460h1v4h-1zM1203 460h1v3h-1zM1204 460h1v3h-1zM1205 459h1v4h-1zM1206 459h1v4h-1zM1207 459h1v3h-1zM1208 458h1v4h-1zM1209 458h1v4h-1zM1210 458h1v3h-1zM1211 458h1v3h-1zM1212 457h1v4h-1zM1213 457h1v4h-1zM1214 457h1v3h-1zM1215 457h1v3h-1zM1216 456h1v4h-1zM1217 456h1v4h-1zM1218 456h1v3h-1zM1219 456h1v3h-1zM1220 455h1v4h-1zM1221 455h1v4h-1zM1222 455h1v3h-1zM1223 455h1v3h-1zM1224 454h1v4h-1zM1225 454h1v4h-1zM1226 454h1v3h-1zM1227 454h1v3h-1zM1228 453h1v4h-1zM1229 453h1v4h-1zM1230 453h1v3h-1zM1231 453h1v3h-1zM1232 452h1v4h-1zM1233 452h1v4h-1zM1234 452h1v3h-1zM1235 452h1v3h-1zM1236 451h1v4h-1zM1237 451h1v4h-1zM1238 451h1v3h-1zM1239 451h1v3h-1zM1240 450h1v4h-1zM1241 450h1v4h-1zM1242 450h1v3h-1zM1243 450h1v3h-1zM1244 449h1v4h-1zM1245 449h1v4h-1zM1246 449h1v3h-1zM1247 449h1v3h-1zM1248 448h1v4h-1zM1249 448h1v4h-1zM1250 448h1v3h-1zM1251 448h1v3h-1zM1252 447h1v4h-1zM1253 447h1v4h-1zM1254 447h1v3h-1zM1255 447h1v3h-1zM1256 447h1v3h-1zM1257 446h1v4h-1zM1258 446h1v4h-1zM1259 446h1v3h-1zM1260 446h1v3h-1zM1261 446h1v3h-1zM1262 445h1v4h-1zM1263 445h1v4h-1zM1264 445h1v3h-1zM1265 445h1v3h-1zM1266 444h1v4h-1zM1267 444h1v4h-1zM1268 444h1v3h-1zM1269 444h1v3h-1zM1270 444h1v3h-1zM1271 443h1v4h-1zM1272 443h1v4h-1zM1273 443h1v3h-1zM1274 443h1v3h-1zM1275 442h1v4h-1zM1276 442h1v4h-1zM1277 442h1v3h-1zM1278 442h1v3h-1zM1279 442h1v3h-1zM1280 441h1v4h-1zM1281 441h1v4h-1zM1282 441h1v3h-1zM1283 441h1v3h-1zM1284 441h1v3h-1zM1285 441h1v3h-1zM1286 440h1v4h-1zM1287 440h1v4h-1zM1288 440h1v3h-1zM1289 440h1v3h-1zM1290 440h1v3h-1zM1291 439h1v4h-1zM1292 439h1v4h-1zM1293 439h1v3h-1zM1294 439h1v3h-1zM1295 439h1v3h-1zM1296 438h1v4h-1zM1297 438h1v4h-1zM1298 438h1v3h-1zM1299 438h1v3h-1zM1300 438h1v3h-1zM1301 438h1v3h-1zM1302 437h1v4h-1zM1303 437h1v4h-1zM1304 437h1v3h-1zM1305 437h1v3h-1zM1306 437h1v3h-1zM1307 436h1v4h-1zM1308 436h1v4h-1zM1309 436h1v3h-1zM1310 436h1v3h-1zM1311 436h1v3h-1zM1312 435h1v4h-1zM1313 435h1v4h-1zM1314 435h1v3h-1zM1315 435h1v3h-1zM1316 434h1v4h-1zM1317 434h1v4h-1zM1318 434h1v3h-1zM1319 434h1v3h-1zM1320 433h1v4h-1zM1321 433h1v4h-1zM1322 433h1v3h-1zM1323 433h1v3h-1zM1324 432h1v4h-1zM1325 432h1v4h-1zM1326 432h1v3h-1zM1327 432h1v3h-1zM1328 431h1v4h-1zM1329 431h1v4h-1zM1330 431h1v3h-1zM1331 431h1v3h-1zM1332 430h1v4h-1zM1333 430h1v4h-1zM1334 430h1v3h-1zM1335 430h1v3h-1zM1336 429h1v4h-1zM1337 429h1v4h-1zM1338 429h1v3h-1zM1339 429h1v3h-1zM1340 428h1v4h-1zM1341 428h1v4h-1zM1342 428h1v3h-1zM1343 427h1v4h-1zM1344 427h1v4h-1zM1345 427h1v3h-1zM1346 426h1v4h-1zM1347 426h1v4h-1zM1348 426h1v3h-1zM1349 426h1v3h-1zM1350 425h1v4h-1zM1351 425h1v4h-1zM1352 425h1v3h-1zM1353 424h1v4h-1zM1354 424h1v4h-1zM1355 424h1v3h-1zM1356 423h1v4h-1zM1357 423h1v4h-1zM1358 423h1v3h-1zM1359 422h1v4h-1zM1360 422h1v4h-1zM1361 422h1v3h-1zM1362 421h1v4h-1zM1363 421h1v4h-1zM1364 421h1v3h-1zM1365 421h1v3h-1zM1366 420h1v4h-1zM1367 420h1v4h-1zM1368 420h1v3h-1zM1369 419h1v4h-1zM1370 419h1v4h-1zM1371 419h1v3h-1zM1372 418h1v4h-1zM1373 418h1v4h-1zM1374 418h1v3h-1zM1375 417h1v4h-1zM1376 417h1v4h-1zM1377 417h1v3h-1zM1378 416h1v4h-1zM1379 416h1v4h-1zM1380 415h1v4h-1zM1381 415h1v4h-1zM1382 415h1v3h-1zM1383 414h1v4h-1zM1384 414h1v4h-1zM1385 414h1v3h-1zM1386 413h1v4h-1zM1387 413h1v4h-1zM1388 412h1v4h-1zM1389 412h1v4h-1zM1390 412h1v3h-1zM1391 411h1v4h-1zM1392 411h1v4h-1zM1393 411h1v3h-1zM1394 410h1v4h-1zM1395 410h1v4h-1zM1396 409h1v4h-1zM1397 409h1v4h-1zM1398 409h1v3h-1zM1399 408h1v4h-1zM1400 408h1v4h-1zM1401 408h1v3h-1zM1402 407h1v4h-1zM1403 407h1v4h-1zM1404 406h1v4h-1zM1405 406h1v4h-1zM1406 406h1v3h-1zM1407 405h1v4h-1zM1408 405h1v4h-1zM1409 405h1v3h-1zM1410 404h1v4h-1zM1411 404h1v4h-1zM1412 404h1v3h-1zM1413 403h1v4h-1zM1414 403h1v4h-1zM1415 403h1v3h-1zM1416 402h1v4h-1zM1417 402h1v4h-1zM1418 402h1v3h-1zM1419 401h1v4h-1zM1420 401h1v4h-1zM1421 401h1v3h-1zM1422 400h1v4h-1zM1423 400h1v4h-1zM1424 399h1v4h-1zM1425 399h1v4h-1zM1426 399h1v3h-1zM1427 398h1v4h-1zM1428 398h1v4h-1zM1429 398h1v3h-1zM1430 397h1v4h-1zM1431 397h1v4h-1zM1432 397h1v3h-1zM1433 396h1v4h-1zM1434 396h1v4h-1zM1435 396h1v3h-1zM1436 395h1v4h-1zM1437 395h1v4h-1zM1438 395h1v3h-1zM1439 394h1v4h-1zM1440 394h1v4h-1zM1441 393h1v4h-1zM1442 393h1v4h-1zM1443 393h1v3h-1zM1444 392h1v4h-1zM1445 392h1v4h-1zM1446 391h1v4h-1zM1447 391h1v4h-1zM1448 391h1v3h-1zM1449 390h1v4h-1zM1450 390h1v4h-1zM1451 389h1v4h-1zM1452 389h1v4h-1zM1453 389h1v3h-1zM1454 388h1v4h-1zM1455 388h1v4h-1zM1456 387h1v4h-1zM1457 387h1v4h-1zM1458 386h1v4h-1zM1459 386h1v4h-1zM1460 386h1v3h-1zM1461 385h1v4h-1zM1462 385h1v4h-1zM1463 384h1v4h-1zM1464 384h1v4h-1zM1465 384h1v3h-1zM1466 383h1v4h-1zM1467 383h1v4h-1zM1468 382h1v4h-1zM1469 382h1v4h-1zM1470 382h1v3h-1zM1471 381h1v4h-1zM1472 381h1v4h-1zM1473 380h1v4h-1zM1474 380h1v4h-1zM1475 379h1v4h-1zM1476 379h1v4h-1zM1477 379h1v3h-1zM1478 378h1v4h-1zM1479 378h1v4h-1zM1480 377h1v4h-1zM1481 377h1v4h-1zM1482 376h1v4h-1zM1483 376h1v4h-1zM1484 375h1v4h-1zM1485 375h1v4h-1zM1486 375h1v3h-1zM1487 374h1v4h-1zM1488 374h1v4h-1zM1489 373h1v4h-1zM1490 373h1v4h-1zM1491 372h1v4h-1zM1492 372h1v4h-1zM1493 372h1v3h-1zM1494 371h1v4h-1zM1495 371h1v4h-1zM1496 370h1v4h-1zM1497 370h1v4h-1zM1498 369h1v4h-1zM1499 369h1v4h-1zM1500 368h1v4h-1zM1501 368h1v4h-1zM1502 368h1v3h-1zM1503 367h1v4h-1zM1504 367h1v4h-1zM1505 367h1v3h-1zM1506 367h1v3h-1zM1507 366h1v4h-1zM1508 366h1v4h-1zM1509 366h1v3h-1zM1510 365h1v4h-1zM1511 365h1v4h-1zM1512 365h1v3h-1zM1513 365h1v3h-1zM1514 364h1v4h-1zM1515 364h1v4h-1zM1516 364h1v3h-1zM1517 364h1v3h-1zM1518 363h1v4h-1zM1519 363h1v4h-1zM1520 363h1v3h-1zM1521 362h1v4h-1zM1522 362h1v4h-1zM1523 362h1v3h-1zM1524 362h1v3h-1zM1525 361h1v4h-1zM1526 361h1v4h-1zM1527 361h1v3h-1zM1528 360h1v4h-1zM1529 360h1v4h-1zM1530 360h1v3h-1zM1531 360h1v3h-1zM1532 359h1v4h-1zM1533 359h1v4h-1zM1534 359h1v3h-1zM1535 358h1v4h-1zM1536 358h1v4h-1zM1537 357h1v4h-1zM1538 357h1v4h-1zM1539 357h1v3h-1zM1540 356h1v4h-1zM1541 356h1v4h-1zM1542 355h1v4h-1zM1543 355h1v4h-1zM1544 355h1v3h-1zM1545 354h1v4h-1zM1546 354h1v4h-1zM1547 353h1v4h-1zM1548 353h1v4h-1zM1549 353h1v3h-1zM1550 352h1v4h-1zM1551 352h1v4h-1zM1552 351h1v4h-1zM1553 351h1v4h-1zM1554 350h1v4h-1zM1555 350h1v4h-1zM1556 350h1v3h-1zM1557 349h1v4h-1zM1558 349h1v4h-1zM1559 348h1v4h-1zM1560 348h1v4h-1zM1561 348h1v3h-1zM1562 347h1v4h-1zM1563 347h1v4h-1zM1564 346h1v4h-1zM1565 346h1v4h-1zM1566 346h1v3h-1zM1567 345h1v4h-1zM1568 345h1v4h-1zM1569 345h1v3h-1zM1570 344h1v4h-1zM1571 344h1v4h-1zM1572 343h1v4h-1zM1573 343h1v4h-1zM1574 343h1v3h-1zM1575 342h1v4h-1zM1576 342h1v4h-1zM1577 342h1v3h-1zM1578 341h1v4h-1zM1579 341h1v4h-1zM1580 340h1v4h-1zM1581 340h1v4h-1zM1582 340h1v3h-1zM1583 339h1v4h-1zM1584 339h1v4h-1zM1585 339h1v3h-1zM1586 338h1v4h-1zM1587 338h1v4h-1zM1588 337h1v4h-1zM1589 337h1v4h-1zM1590 337h1v3h-1zM1591 336h1v4h-1zM1592 336h1v4h-1zM1593 336h1v3h-1zM1594 335h1v4h-1zM1595 335h1v4h-1zM1596 334h1v4h-1zM1597 334h1v4h-1zM1598 334h1v3h-1zM1599 333h1v4h-1zM1600 333h1v4h-1zM1601 332h1v4h-1zM1602 332h1v4h-1zM1603 332h1v3h-1zM1604 331h1v4h-1zM1605 331h1v4h-1zM1606 330h1v4h-1zM1607 330h1v4h-1zM1608 330h1v3h-1zM1609 329h1v4h-1zM1610 329h1v4h-1zM1611 328h1v4h-1zM1612 328h1v4h-1zM1613 328h1v3h-1zM1614 327h1v4h-1zM1615 327h1v4h-1zM1616 326h1v4h-1zM1617 326h1v4h-1zM1618 325h1v4h-1zM1619 325h1v4h-1zM1620 325h1v3h-1zM1621 324h1v4h-1zM1622 324h1v4h-1zM1623 323h1v4h-1zM1624 323h1v4h-1zM1625 323h1v3h-1zM1626 322h1v4h-1zM1627 322h1v4h-1zM1628 321h1v4h-1zM1629 321h1v4h-1zM1630 321h1v3h-1zM1631 320h1v4h-1zM1632 320h1v4h-1zM1633 320h1v3h-1zM1634 319h1v4h-1zM1635 319h1v4h-1zM1636 318h1v4h-1zM1637 318h1v4h-1zM1638 318h1v3h-1zM1639 317h1v4h-1zM1640 317h1v4h-1zM1641 317h1v3h-1zM1642 316h1v4h-1zM1643 316h1v4h-1zM1644 315h1v4h-1zM1645 315h1v4h-1zM1646 315h1v3h-1zM1647 314h1v4h-1zM1648 314h1v4h-1zM1649 314h1v3h-1zM1650 313h1v4h-1zM1651 313h1v4h-1zM1652 312h1v4h-1zM1653 312h1v4h-1zM1654 312h1v3h-1zM1655 311h1v4h-1zM1656 311h1v4h-1zM1657 311h1v3h-1zM1658 310h1v4h-1zM1659 310h1v4h-1zM1660 309h1v4h-1zM1661 309h1v4h-1zM1662 309h1v3h-1zM1663 308h1v4h-1zM1664 308h1v4h-1zM1665 307h1v4h-1zM1666 307h1v4h-1zM1667 306h1v4h-1zM1668 306h1v4h-1zM1669 306h1v3h-1zM1670 305h1v4h-1zM1671 305h1v4h-1zM1672 304h1v4h-1zM1673 304h1v4h-1zM1674 303h1v4h-1zM1675 303h1v4h-1zM1676 302h1v4h-1zM1677 302h1v4h-1zM1678 302h1v3h-1zM1679 301h1v4h-1zM1680 301h1v4h-1zM1681 300h1v4h-1zM1682 300h1v4h-1zM1683 299h1v4h-1zM1684 299h1v4h-1zM1685 299h1v3h-1zM1686 298h1v4h-1zM1687 298h1v4h-1zM1688 297h1v4h-1zM1689 297h1v4h-1zM1690 296h1v4h-1zM1691 296h1v4h-1zM1692 295h1v4h-1zM1693 295h1v4h-1zM1694 295h1v3h-1zM1695 294h1v4h-1zM1696 294h1v4h-1zM1697 293h1v4h-1zM1698 293h1v4h-1zM1699 292h1v4h-1zM1700 292h1v4h-1zM1701 291h1v4h-1zM1702 291h1v4h-1zM1703 290h1v4h-1zM1704 290h1v4h-1zM1705 289h1v4h-1zM1706 289h1v4h-1zM1707 288h1v4h-1zM1708 288h1v4h-1zM1709 288h1v3h-1zM1710 287h1v4h-1zM1711 287h1v4h-1zM1712 286h1v4h-1zM1713 286h1v4h-1zM1714 285h1v4h-1zM1715 285h1v4h-1zM1716 284h1v4h-1zM1717 284h1v4h-1zM1718 283h1v4h-1zM1719 283h1v4h-1zM1720 282h1v4h-1zM1721 282h1v4h-1zM1722 281h1v4h-1zM1723 281h1v4h-1zM1724 280h1v4h-1zM1725 280h1v4h-1zM1726 280h1v3h-1zM1727 279h1v4h-1zM1728 279h1v4h-1zM1729 278h1v4h-1zM1730 278h1v4h-1zM1731 278h1v3h-1zM1732 277h1v4h-1zM1733 277h1v4h-1zM1734 276h1v4h-1zM1735 276h1v4h-1zM1736 276h1v3h-1zM1737 275h1v4h-1zM1738 275h1v4h-1zM1739 274h1v4h-1zM1740 274h1v4h-1zM1741 274h1v3h-1zM1742 273h1v4h-1zM1743 273h1v4h-1zM1744 272h1v4h-1zM1745 272h1v4h-1zM1746 271h1v4h-1zM1747 271h1v4h-1zM1748 271h1v3h-1zM1749 270h1v4h-1zM1750 270h1v4h-1zM1751 269h1v4h-1zM1752 269h1v4h-1zM1753 269h1v3h-1zM1754 268h1v4h-1zM1755 268h1v4h-1zM1756 267h1v4h-1zM1757 267h1v4h-1zM1758 267h1v3h-1zM1759 266h1v4h-1zM1760 266h1v4h-1zM1761 265h1v4h-1zM1762 265h1v4h-1zM1763 264h1v4h-1zM1764 264h1v4h-1zM1765 264h1v3h-1zM1766 263h1v4h-1zM1767 263h1v4h-1zM1768 262h1v4h-1zM1769 262h1v4h-1zM1770 261h1v4h-1zM1771 261h1v4h-1zM1772 260h1v4h-1zM1773 260h1v4h-1zM1774 260h1v3h-1zM1775 259h1v4h-1zM1776 259h1v4h-1zM1777 258h1v4h-1zM1778 258h1v4h-1zM1779 257h1v4h-1zM1780 257h1v4h-1zM1781 257h1v3h-1zM1782 256h1v4h-1zM1783 256h1v4h-1zM1784 255h1v4h-1zM1785 255h1v4h-1zM1786 254h1v4h-1zM1787 254h1v4h-1zM1788 253h1v4h-1zM1789 253h1v4h-1zM1790 252h1v4h-1zM1791 252h1v4h-1zM1792 251h1v4h-1zM1793 251h1v4h-1zM1794 250h1v4h-1zM1795 250h1v4h-1zM1796 249h1v4h-1zM1797 249h1v4h-1zM1798 248h1v4h-1zM1799 248h1v4h-1zM1800 247h1v4h-1zM1801 247h1v4h-1zM1802 246h1v4h-1zM1803 246h1v4h-1zM1804 245h1v4h-1zM1805 245h1v4h-1zM1806 244h1v4h-1zM1807 243h1v5h-1zM1808 243h1v4h-1zM1809 242h1v4h-1zM1810 242h1v4h-1zM1811 241h1v4h-1zM1812 241h1v4h-1zM1813 240h1v4h-1zM1814 240h1v4h-1zM1815 239h1v4h-1zM1816 239h1v4h-1zM1817 238h1v4h-1zM1818 238h1v4h-1zM1819 237h1v4h-1zM1820 237h1v4h-1zM1821 236h1v4h-1zM1822 235h1v5h-1zM1823 235h1v4h-1zM1824 234h1v4h-1zM1825 234h1v4h-1zM1826 233h1v4h-1zM1827 233h1v4h-1zM1828 232h1v4h-1zM1829 232h1v4h-1zM1830 231h1v4h-1zM1831 230h1v5h-1zM1832 230h1v4h-1zM1833 229h1v4h-1zM1834 229h1v4h-1zM1835 228h1v4h-1zM1836 228h1v4h-1zM1837 227h1v4h-1zM1838 227h1v4h-1zM1839 227h1v3h-1z" fill="#FFFF00"/><path d="M-1 499h1v3h-1zM0 499h1v3h-1zM1 498h1v4h-1zM2 498h1v4h-1zM3 498h1v3h-1zM4 498h1v3h-1zM5 497h1v4h-1zM6 497h1v4h-1zM7 497h1v3h-1zM8 497h1v3h-1zM9 496h1v4h-1zM10 496h1v4h-1zM11 496h1v3h-1zM12 496h1v3h-1zM13 495h1v4h-1zM14 495h1v4h-1zM15 495h1v3h-1zM16 494h1v4h-1zM17 494h1v4h-1zM18 494h1v3h-1zM19 494h1v3h-1zM20 493h1v4h-1zM21 493h1v4h-1zM22 493h1v3h-1zM23 493h1v3h-1zM24 492h1v4h-1zM25 492h1v4h-1zM26 492h1v3h-1zM27 492h1v3h-1zM28 491h1v4h-1zM29 491h1v4h-1zM30 491h1v3h-1zM31 490h1v4h-1zM32 490h1v4h-1zM33 490h1v3h-1zM34 490h1v3h-1zM35 489h1v4h-1zM36 489h1v4h-1zM37 489h1v3h-1zM38 488h1v4h-1zM39 488h1v4h-1zM40 488h1v3h-1zM41 488h1v3h-1zM42 487h1v4h-1zM43 487h1v4h-1zM44 487h1v3h-1zM45 487h1v3h-1zM46 486h1v4h-1zM47 486h1v4h-1zM48 486h1v3h-1zM49 485h1v4h-1zM50 485h1v4h-1zM51 485h1v3h-1zM52 485h1v3h-1zM53 484h1v4h-1zM54 484h1v4h-1zM55 484h1v3h-1zM56 483h1v4h-1zM57 483h1v4h-1zM58 483h1v3h-1zM59 483h1v3h-1zM60 482h1v4h-1zM61 482h1v4h-1zM62 482h1v3h-1zM63 481h1v4h-1zM64 481h1v4h-1zM65 481h1v3h-1zM66 480h1v4h-1zM67 480h1v4h-1zM68 479h1v4h-1zM69 479h1v4h-1zM70 479h1v3h-1zM71 478h1v4h-1zM72 478h1v4h-1zM73 478h1v3h-1zM74 477h1v4h-1zM75 477h1v4h-1zM76 476h1v4h-1zM77 476h1v4h-1zM78 476h1v3h-1zM79 475h1v4h-1zM80 475h1v4h-1zM81 475h1v3h-1zM82 474h1v4h-1zM83 474h1v4h-1zM84 473h1v4h-1zM85 473h1v4h-1zM86 473h1v3h-1zM87 472h1v4h-1zM88 472h1v4h-1zM89 472h1v3h-1zM90 471h1v4h-1zM91 471h1v4h-1zM92 470h1v4h-1zM93 470h1v4h-1zM94 470h1v3h-1zM95 469h1v4h-1zM96 469h1v4h-1zM97 469h1v3h-1zM98 468h1v4h-1zM99 468h1v4h-1zM100 468h1v3h-1zM101 467h1v4h-1zM102 467h1v4h-1zM103 467h1v3h-1zM104 466h1v4h-1zM105 466h1v4h-1zM106 466h1v3h-1zM107 465h1v4h-1zM108 465h1v4h-1zM109 465h1v3h-1zM110 464h1v4h-1zM111 464h1v4h-1zM112 463h1v4h-1zM113 463h1v4h-1zM114 463h1v3h-1zM115 462h1v4h-1zM116 462h1v4h-1zM117 462h1v3h-1zM118 461h1v4h-1zM119 461h1v4h-1zM120 461h1v3h-1zM121 460h1v4h-1zM122 460h1v4h-1zM123 460h1v3h-1zM124 459h1v4h-1zM125 459h1v4h-1zM126 459h1v3h-1zM127 458h1v4h-1zM128 458h1v4h-1zM129 458h1v3h-1zM130 457h1v4h-1zM131 457h1v4h-1zM132 457h1v3h-1zM133 457h1v3h-1zM134 456h1v4h-1zM135 456h1v4h-1zM136 456h1v3h-1zM137 455h1v4h-1zM138 455h1v4h-1zM139 455h1v3h-1zM140 454h1v4h-1zM141 454h1v4h-1zM142 454h1v3h-1zM143 453h1v4h-1zM144 453h1v4h-1zM145 453h1v3h-1zM146 452h1v4h-1zM147 452h1v4h-1zM148 452h1v3h-1zM149 452h1v3h-1zM150 451h1v4h-1zM151 451h1v4h-1zM152 451h1v3h-1zM153 450h1v4h-1zM154 450h1v4h-1zM155 450h1v3h-1zM156 449h1v4h-1zM157 449h1v4h-1zM158 449h1v3h-1zM159 449h1v3h-1zM160 448h1v4h-1zM161 448h1v4h-1zM162 448h1v3h-1zM163 448h1v3h-1zM164 447h1v4h-1zM165 447h1v4h-1zM166 447h1v3h-1zM167 447h1v3h-1zM168 447h1v3h-1zM169 446h1v4h-1zM170 446h1v4h-1zM171 446h1v3h-1zM172 446h1v3h-1zM173 446h1v3h-1zM174 445h1v4h-1zM175 445h1v4h-1zM176 445h1v3h-1zM177 445h1v3h-1zM178 444h1v4h-1zM179 444h1v4h-1zM180 444h1v3h-1zM181 444h1v3h-1zM182 444h1v3h-1zM183 443h1v4h-1zM184 443h1v4h-1zM185 443h1v3h-1zM186 443h1v3h-1zM187 442h1v4h-1zM188 442h1v4h-1zM189 442h1v3h-1zM190 442h1v3h-1zM191 441h1v4h-1zM192 441h1v4h-1zM193 441h1v3h-1zM194 440h1v4h-1zM195 440h1v4h-1zM196 440h1v3h-1zM197 439h1v4h-1zM198 439h1v4h-1zM199 439h1v3h-1zM200 438h1v4h-1zM201 438h1v4h-1zM202 438h1v3h-1zM203 437h1v4h-1zM204 437h1v4h-1zM205 437h1v3h-1zM206 436h1v4h-1zM207 436h1v4h-1zM208 435h1v4h-1zM209 435h1v4h-1zM210 435h1v3h-1zM211 434h1v4h-1zM212 434h1v4h-1zM213 434h1v3h-1zM214 433h1v4h-1zM215 433h1v4h-1zM216 433h1v3h-1zM217 432h1v4h-1zM218 432h1v4h-1zM219 432h1v3h-1zM220 431h1v4h-1zM221 431h1v4h-1zM222 431h1v3h-1zM223 430h1v4h-1zM224 430h1v4h-1zM225 429h1v4h-1zM226 429h1v4h-1zM227 429h1v3h-1zM228 428h1v4h-1zM229 428h1v4h-1zM230 427h1v4h-1zM231 427h1v4h-1zM232 427h1v3h-1zM233 426h1v4h-1zM234 426h1v4h-1zM235 425h1v4h-1zM236 425h1v4h-1zM237 425h1v3h-1zM238 424h1v4h-1zM239 424h1v4h-1zM240 423h1v4h-1zM241 423h1v4h-1zM242 422h1v4h-1zM243 422h1v4h-1zM244 422h1v3h-1zM245 421h1v4h-1zM246 421h1v4h-1zM247 420h1v4h-1zM248 420h1v4h-1zM249 420h1v3h-1zM250 419h1v4h-1zM251 419h1v4h-1zM252 418h1v4h-1zM253 418h1v4h-1zM254 418h1v3h-1zM255 417h1v4h-1zM256 417h1v4h-1zM257 417h1v3h-1zM258 417h1v3h-1zM259 416h1v4h-1zM260 416h1v4h-1zM261 416h1v3h-1zM262 415h1v4h-1zM263 415h1v4h-1zM264 415h1v3h-1zM265 415h1v3h-1zM266 414h1v4h-1zM267 414h1v4h-1zM268 414h1v3h-1zM269 414h1v3h-1zM270 413h1v4h-1zM271 413h1v4h-1zM272 413h1v3h-1zM273 412h1v4h-1zM274 412h1v4h-1zM275 412h1v3h-1zM276 412h1v3h-1zM277 411h1v4h-1zM278 411h1v4h-1zM279 411h1v3h-1zM280 410h1v4h-1zM281 410h1v4h-1zM282 410h1v3h-1zM283 410h1v3h-1zM284 409h1v4h-1zM285 409h1v4h-1zM286 409h1v3h-1zM287 408h1v4h-1zM288 408h1v4h-1zM289 407h1v4h-1zM290 407h1v4h-1zM291 407h1v3h-1zM292 406h1v4h-1zM293 406h1v4h-1zM294 405h1v4h-1zM295 405h1v4h-1zM296 405h1v3h-1zM297 404h1v4h-1zM298 404h1v4h-1zM299 403h1v4h-1zM300 403h1v4h-1zM301 403h1v3h-1zM302 402h1v4h-1zM303 402h1v4h-1zM304 401h1v4h-1zM305 401h1v4h-1zM306 400h1v4h-1zM307 400h1v4h-1zM308 400h1v3h-1zM309 399h1v4h-1zM310 399h1v4h-1zM311 398h1v4h-1zM312 398h1v4h-1zM313 398h1v3h-1zM314 397h1v4h-1zM315 397h1v4h-1zM316 396h1v4h-1zM317 396h1v4h-1zM318 396h1v3h-1zM319 395h1v4h-1zM320 395h1v4h-1zM321 395h1v3h-1zM322 394h1v4h-1zM323 394h1v4h-1zM324 394h1v3h-1zM325 394h1v3h-1zM326 393h1v4h-1zM327 393h1v4h-1zM328 393h1v3h-1zM329 392h1v4h-1zM330 392h1v4h-1zM331 392h1v3h-1zM332 391h1v4h-1zM333 391h1v4h-1zM334 391h1v3h-1zM335 391h1v3h-1zM336 390h1v4h-1zM337 390h1v4h-1zM338 390h1v3h-1zM339 390h1v3h-1zM340 390h1v3h-1zM341 390h1v3h-1zM342 389h1v4h-1zM343 389h1v4h-1zM344 389h1v3h-1zM345 389h1v3h-1zM346 389h1v3h-1zM347 388h1v4h-1zM348 388h1v4h-1zM349 388h1v3h-1zM350 388h1v3h-1zM351 388h1v3h-1zM352 388h1v3h-1zM353 388h1v3h-1zM354 388h1v3h-1zM355 388h1v3h-1zM356 388h1v3h-1zM357 388h1v3h-1zM358 387h1v4h-1zM359 387h1v4h-1zM360 387h1v3h-1zM361 387h1v3h-1zM362 387h1v3h-1zM363 387h1v3h-1zM364 387h1v3h-1zM365 387h1v3h-1zM366 387h1v3h-1zM367 387h1v3h-1zM368 387h1v3h-1zM369 387h1v3h-1zM370 387h1v3h-1zM371 387h1v3h-1zM372 387h1v3h-1zM373 387h1v3h-1zM374 387h1v4h-1zM375 387h1v4h-1zM376 388h1v3h-1zM377 388h1v3h-1zM378 388h1v3h-1zM379 388h1v3h-1zM380 388h1v3h-1zM381 388h1v3h-1zM382 388h1v3h-1zM383 388h1v4h-1zM384 388h1v4h-1zM385 389h1v3h-1zM386 389h1v4h-1zM387 389h1v4h-1zM388 390h1v4h-1zM389 390h1v4h-1zM390 391h1v3h-1zM391 391h1v4h-1zM392 391h1v4h-1zM393 392h1v3h-1zM394 392h1v4h-1zM395 392h1v4h-1zM396 393h1v4h-1zM397 393h1v4h-1zM398 394h1v3h-1zM399 394h1v4h-1zM400 394h1v4h-1zM401 395h1v3h-1zM402 395h1v4h-1zM403 395h1v4h-1zM404 396h1v4h-1zM405 396h1v4h-1zM406 397h1v3h-1zM407 397h1v4h-1zM408 397h1v4h-1zM409 398h1v3h-1zM410 398h1v4h-1zM411 398h1v4h-1zM412 399h1v4h-1zM413 399h1v4h-1zM414 400h1v3h-1zM415 400h1v4h-1zM416 400h1v4h-1zM417 401h1v4h-1zM418 401h1v4h-1zM419 402h1v4h-1zM420 402h1v4h-1zM421 403h1v3h-1zM422 403h1v4h-1zM423 403h1v4h-1zM424 404h1v4h-1zM425 404h1v4h-1zM426 405h1v4h-1zM427 405h1v4h-1zM428 406h1v4h-1zM429 406h1v4h-1zM430 407h1v3h-1zM431 407h1v4h-1zM432 407h1v4h-1zM433 408h1v4h-1zM434 408h1v4h-1zM435 409h1v4h-1zM436 409h1v4h-1zM437 410h1v4h-1zM438 410h1v4h-1zM439 411h1v4h-1zM440 411h1v4h-1zM441 412h1v4h-1zM442 412h1v4h-1zM443 413h1v4h-1zM444 413h1v4h-1zM445 414h1v4h-1zM446 414h1v4h-1zM447 415h1v4h-1zM448 415h1v4h-1zM449 416h1v3h-1zM450 416h1v4h-1zM451 416h1v4h-1zM452 417h1v3h-1zM453 417h1v3h-1zM454 417h1v4h-1zM455 417h1v4h-1zM456 418h1v3h-1zM457 418h1v4h-1zM458 418h1v4h-1zM459 419h1v3h-1zM460 419h1v4h-1zM461 419h1v4h-1zM462 420h1v3h-1zM463 420h1v4h-1zM464 420h1v4h-1zM465 421h1v3h-1zM466 421h1v4h-1zM467 421h1v4h-1zM468 422h1v4h-1zM469 422h1v4h-1zM470 423h1v3h-1zM471 423h1v4h-1zM472 423h1v4h-1zM473 424h1v3h-1zM474 424h1v4h-1zM475 424h1v4h-1zM476 425h1v4h-1zM477 425h1v4h-1zM478 426h1v3h-1zM479 426h1v4h-1zM480 426h1v4h-1zM481 427h1v3h-1zM482 427h1v4h-1zM483 427h1v4h-1zM484 428h1v3h-1zM485 428h1v3h-1zM486 428h1v4h-1zM487 428h1v4h-1zM488 429h1v3h-1zM489 429h1v4h-1zM490 429h1v4h-1zM491 430h1v3h-1zM492 430h1v4h-1zM493 430h1v4h-1zM494 431h1v3h-1zM495 431h1v3h-1zM496 431h1v4h-1zM497 431h1v4h-1zM498 432h1v3h-1zM499 432h1v3h-1zM500 432h1v3h-1zM501 432h1v3h-1zM502 432h1v4h-1zM503 432h1v4h-1zM504 433h1v3h-1zM505 433h1v3h-1zM506 433h1v3h-1zM507 433h1v4h-1zM508 433h1v4h-1zM509 434h1v3h-1zM510 434h1v3h-1zM511 434h1v3h-1zM512 434h1v3h-1zM513 434h1v3h-1zM514 434h1v4h-1zM515 434h1v4h-1zM516 435h1v3h-1zM517 435h1v3h-1zM518 435h1v3h-1zM519 435h1v3h-1zM520 435h1v3h-1zM521 435h1v3h-1zM522 435h1v4h-1zM523 435h1v4h-1zM524 436h1v3h-1zM525 436h1v3h-1zM526 436h1v3h-1zM527 436h1v4h-1zM528 436h1v4h-1zM529 437h1v4h-1zM530 437h1v4h-1zM531 438h1v4h-1zM532 438h1v4h-1zM533 439h1v3h-1zM534 439h1v4h-1zM535 439h1v4h-1zM536 440h1v4h-1zM537 440h1v4h-1zM538 441h1v4h-1zM539 441h1v4h-1zM540 442h1v4h-1zM541 442h1v4h-1zM542 443h1v4h-1zM543 443h1v4h-1zM544 444h1v4h-1zM545 444h1v4h-1zM546 445h1v4h-1zM547 445h1v4h-1zM548 446h1v4h-1zM549 446h1v4h-1zM550 447h1v4h-1zM551 447h1v5h-1zM552 448h1v4h-1zM553 449h1v4h-1zM554 449h1v4h-1zM555 450h1v4h-1zM556 450h1v4h-1zM557 451h1v4h-1zM558 451h1v4h-1zM559 452h1v4h-1zM560 452h1v4h-1zM561 453h1v4h-1zM562 453h1v4h-1zM563 454h1v4h-1zM564 454h1v4h-1zM565 455h1v4h-1zM566 455h1v4h-1zM567 456h1v4h-1zM568 456h1v4h-1zM569 457h1v4h-1zM570 457h1v4h-1zM571 458h1v4h-1zM572 458h1v4h-1zM573 459h1v4h-1zM574 459h1v4h-1zM575 460h1v4h-1zM576 460h1v4h-1zM577 461h1v3h-1zM578 461h1v4h-1zM579 461h1v4h-1zM580 462h1v4h-1zM581 462h1v4h-1zM582 463h1v3h-1zM583 463h1v4h-1zM584 463h1v4h-1zM585 464h1v3h-1zM586 464h1v4h-1zM587 464h1v4h-1zM588 465h1v4h-1zM589 465h1v4h-1zM590 466h1v3h-1zM591 466h1v4h-1zM592 466h1v4h-1zM593 467h1v3h-1zM594 467h1v4h-1zM595 467h1v4h-1zM596 468h1v3h-1zM597 468h1v3h-1zM598 468h1v4h-1zM599 468h1v4h-1zM600 469h1v3h-1zM601 469h1v4h-1zM602 469h1v4h-1zM603 470h1v3h-1zM604 470h1v4h-1zM605 470h1v4h-1zM606 471h1v3h-1zM607 471h1v4h-1zM608 471h1v4h-1zM609 472h1v3h-1zM610 472h1v4h-1zM611 472h1v4h-1zM612 473h1v3h-1zM613 473h1v3h-1zM614 473h1v4h-1zM615 473h1v4h-1zM616 474h1v3h-1zM617 474h1v4h-1zM618 474h1v4h-1zM619 475h1v3h-1zM620 475h1v4h-1zM621 475h1v4h-1zM622 476h1v3h-1zM623 476h1v4h-1zM624 476h1v4h-1zM625 477h1v3h-1zM626 477h1v4h-1zM627 477h1v4h-1zM628 478h1v3h-1zM629 478h1v3h-1zM630 478h1v4h-1zM631 478h1v4h-1zM632 479h1v3h-1zM633 479h1v4h-1zM634 479h1v4h-1zM635 480h1v3h-1zM636 480h1v4h-1zM637 480h1v4h-1zM638 481h1v3h-1zM639 481h1v3h-1zM640 481h1v3h-1zM641 481h1v3h-1zM642 481h1v4h-1zM643 481h1v4h-1zM644 482h1v3h-1zM645 482h1v3h-1zM646 482h1v3h-1zM647 482h1v3h-1zM648 482h1v3h-1zM649 482h1v3h-1zM650 482h1v4h-1zM651 482h1v4h-1zM652 483h1v3h-1zM653 483h1v3h-1zM654 483h1v3h-1zM655 483h1v3h-1zM656 483h1v4h-1zM657 483h1v4h-1zM658 484h1v3h-1zM659 484h1v3h-1zM660 484h1v3h-1zM661 484h1v3h-1zM662 484h1v4h-1zM663 484h1v4h-1zM664 485h1v3h-1zM665 485h1v3h-1zM666 485h1v3h-1zM667 485h1v4h-1zM668 485h1v4h-1zM669 486h1v3h-1zM670 486h1v3h-1zM671 486h1v3h-1zM672 486h1v4h-1zM673 486h1v4h-1zM674 487h1v3h-1zM675 487h1v3h-1zM676 487h1v3h-1zM677 487h1v3h-1zM678 487h1v4h-1zM679 487h1v4h-1zM680 488h1v3h-1zM681 488h1v3h-1zM682 488h1v3h-1zM683 488h1v4h-1zM684 488h1v4h-1zM685 489h1v3h-1zM686 489h1v3h-1zM687 489h1v3h-1zM688 489h1v3h-1zM689 489h1v3h-1zM690 488h1v4h-1zM691 488h1v4h-1zM692 488h1v3h-1zM693 488h1v3h-1zM694 488h1v3h-1zM695 488h1v3h-1zM696 488h1v3h-1zM697 488h1v3h-1zM698 487h1v4h-1zM699 487h1v4h-1zM700 487h1v3h-1zM701 487h1v3h-1zM702 487h1v3h-1zM703 486h1v4h-1zM704 486h1v4h-1zM705 485h1v4h-1zM706 485h1v4h-1zM707 484h1v4h-1zM708 484h1v4h-1zM709 484h1v3h-1zM710 483h1v4h-1zM711 483h1v4h-1zM712 482h1v4h-1zM713 482h1v4h-1zM714 481h1v4h-1zM715 481h1v4h-1zM716 480h1v4h-1zM717 480h1v4h-1zM718 480h1v3h-1zM719 479h1v4h-1zM720 479h1v4h-1zM721 478h1v4h-1zM722 478h1v4h-1zM723 477h1v4h-1zM724 477h1v4h-1zM725 477h1v3h-1zM726 476h1v4h-1zM727 476h1v4h-1zM728 475h1v4h-1zM729 475h1v4h-1zM730 474h1v4h-1zM731 474h1v4h-1zM732 473h1v4h-1zM733 473h1v4h-1zM734 473h1v3h-1zM735 472h1v4h-1zM736 472h1v4h-1zM737 471h1v4h-1zM738 471h1v4h-1zM739 470h1v4h-1zM740 470h1v4h-1zM741 470h1v3h-1zM742 469h1v4h-1zM743 469h1v4h-1zM744 468h1v4h-1zM745 468h1v4h-1zM746 467h1v4h-1zM747 467h1v4h-1zM748 466h1v4h-1zM749 466h1v4h-1zM750 466h1v3h-1zM751 466h1v3h-1zM752 465h1v4h-1zM753 465h1v4h-1zM754 465h1v3h-1zM755 465h1v3h-1zM756 464h1v4h-1zM757 464h1v4h-1zM758 464h1v3h-1zM759 464h1v3h-1zM760 463h1v4h-1zM761 463h1v4h-1zM762 463h1v3h-1zM763 463h1v3h-1zM764 462h1v4h-1zM765 462h1v4h-1zM766 462h1v3h-1zM767 462h1v3h-1zM768 461h1v4h-1zM769 461h1v4h-1zM770 461h1v3h-1zM771 461h1v3h-1zM772 461h1v3h-1zM773 461h1v3h-1zM774 460h1v4h-1zM775 460h1v4h-1zM776 460h1v3h-1zM777 460h1v3h-1zM778 460h1v3h-1zM779 459h1v4h-1zM780 459h1v4h-1zM781 459h1v3h-1zM782 459h1v3h-1zM783 459h1v3h-1zM784 459h1v3h-1zM785 459h1v3h-1zM786 459h1v3h-1zM787 459h1v3h-1zM788 459h1v3h-1zM789 459h1v3h-1zM790 458h1v4h-1zM791 458h1v4h-1zM792 458h1v3h-1zM793 458h1v3h-1zM794 458h1v3h-1zM795 458h1v3h-1zM796 458h1v3h-1zM797 458h1v3h-1zM798 458h1v3h-1zM799 458h1v3h-1zM800 458h1v4h-1zM801 458h1v4h-1zM802 459h1v3h-1zM803 459h1v3h-1zM804 459h1v3h-1zM805 459h1v3h-1zM806 459h1v4h-1zM807 459h1v4h-1zM808 460h1v3h-1zM809 460h1v3h-1zM810 460h1v3h-1zM811 460h1v4h-1zM812 460h1v4h-1zM813 461h1v3h-1zM814 461h1v3h-1zM815 461h1v4h-1zM816 461h1v4h-1zM817 462h1v3h-1zM818 462h1v4h-1zM819 462h1v4h-1zM820 463h1v3h-1zM821 463h1v3h-1zM822 463h1v4h-1zM823 463h1v4h-1zM824 464h1v3h-1zM825 464h1v4h-1zM826 464h1v4h-1zM827 465h1v3h-1zM828 465h1v4h-1zM829 465h1v4h-1zM830 466h1v3h-1zM831 466h1v4h-1zM832 466h1v4h-1zM833 467h1v3h-1zM834 467h1v4h-1zM835 467h1v4h-1zM836 468h1v4h-1zM837 468h1v4h-1zM838 469h1v3h-1zM839 469h1v4h-1zM840 469h1v4h-1zM841 470h1v3h-1zM842 470h1v4h-1zM843 470h1v4h-1zM844 471h1v4h-1zM845 471h1v4h-1zM846 472h1v3h-1zM847 472h1v3h-1zM848 472h1v3h-1zM849 472h1v3h-1zM850 472h1v3h-1zM851 472h1v3h-1zM852 472h1v3h-1zM853 472h1v3h-1zM854 472h1v4h-1zM855 472h1v4h-1zM856 473h1v3h-1zM857 473h1v3h-1zM858 473h1v3h-1zM859 473h1v3h-1zM860 473h1v3h-1zM861 473h1v3h-1zM862 473h1v3h-1zM863 473h1v3h-1zM864 473h1v3h-1zM865 473h1v3h-1zM866 473h1v3h-1zM867 473h1v3h-1zM868 473h1v3h-1zM869 473h1v3h-1zM870 473h1v3h-1zM871 473h1v3h-1zM872 473h1v3h-1zM873 473h1v3h-1zM874 473h1v3h-1zM875 473h1v3h-1zM876 473h1v3h-1zM877 473h1v3h-1zM878 473h1v3h-1zM879 473h1v3h-1zM880 473h1v3h-1zM881 473h1v3h-1zM882 473h1v3h-1zM883 473h1v3h-1zM884 473h1v3h-1zM885 473h1v3h-1zM886 473h1v3h-1zM887 473h1v3h-1zM888 473h1v3h-1zM889 473h1v3h-1zM890 473h1v3h-1zM891 473h1v3h-1zM892 473h1v3h-1zM893 473h1v3h-1zM894 473h1v3h-1zM895 473h1v3h-1zM896 473h1v3h-1zM897 473h1v3h-1zM898 473h1v4h-1zM899 473h1v4h-1zM900 474h1v3h-1zM901 474h1v3h-1zM902 474h1v3h-1zM903 474h1v3h-1zM904 474h1v3h-1zM905 474h1v3h-1zM906 474h1v4h-1zM907 474h1v4h-1zM908 475h1v3h-1zM909 475h1v3h-1zM910 475h1v3h-1zM911 475h1v3h-1zM912 475h1v3h-1zM913 475h1v3h-1zM914 475h1v4h-1zM915 475h1v4h-1zM916 476h1v3h-1zM917 476h1v3h-1zM918 476h1v3h-1zM919 476h1v3h-1zM920 476h1v3h-1zM921 476h1v3h-1zM922 476h1v4h-1zM923 476h1v4h-1zM924 477h1v3h-1zM925 477h1v3h-1zM926 477h1v3h-1zM927 477h1v3h-1zM928 477h1v3h-1zM929 477h1v3h-1zM930 477h1v3h-1zM931 477h1v3h-1zM932 477h1v3h-1zM933 477h1v3h-1zM934 477h1v4h-1zM935 477h1v4h-1zM936 478h1v3h-1zM937 478h1v3h-1zM938 478h1v3h-1zM939 478h1v3h-1zM940 478h1v3h-1zM941 478h1v3h-1zM942 478h1v3h-1zM943 478h1v3h-1zM944 478h1v3h-1zM945 478h1v3h-1zM946 478h1v3h-1zM947 478h1v3h-1zM948 478h1v3h-1zM949 478h1v3h-1zM950 477h1v4h-1zM951 477h1v4h-1zM952 477h1v3h-1zM953 477h1v3h-1zM954 477h1v3h-1zM955 477h1v3h-1zM956 477h1v3h-1zM957 477h1v3h-1zM958 477h1v3h-1zM959 477h1v3h-1zM960 477h1v3h-1zM961 477h1v3h-1zM962 477h1v3h-1zM963 477h1v3h-1zM964 477h1v3h-1zM965 477h1v3h-1zM966 477h1v3h-1zM967 477h1v3h-1zM968 477h1v3h-1zM969 477h1v3h-1zM970 477h1v3h-1zM971 477h1v3h-1zM972 477h1v3h-1zM973 477h1v3h-1zM974 477h1v3h-1zM975 477h1v3h-1zM976 477h1v3h-1zM977 477h1v3h-1zM978 477h1v3h-1zM979 477h1v3h-1zM980 477h1v3h-1zM981 477h1v3h-1zM982 477h1v3h-1zM983 477h1v3h-1zM984 477h1v3h-1zM985 477h1v3h-1zM986 477h1v3h-1zM987 477h1v3h-1zM988 477h1v3h-1zM989 477h1v3h-1zM990 477h1v3h-1zM991 477h1v3h-1zM992 477h1v3h-1zM993 477h1v3h-1zM994 477h1v3h-1zM995 477h1v3h-1zM996 477h1v3h-1zM997 477h1v3h-1zM998 477h1v3h-1zM999 477h1v3h-1zM1000 477h1v3h-1zM1001 477h1v3h-1zM1002 477h1v3h-1zM1003 477h1v3h-1zM1004 477h1v3h-1zM1005 477h1v3h-1zM1006 477h1v3h-1zM1007 477h1v3h-1zM1008 477h1v3h-1zM1009 477h1v3h-1zM1010 477h1v3h-1zM1011 477h1v3h-1zM1012 477h1v3h-1zM1013 477h1v3h-1zM1014 477h1v3h-1zM1015 477h1v3h-1zM1016 477h1v3h-1zM1017 477h1v3h-1zM1018 477h1v3h-1zM1019 477h1v3h-1zM1020 477h1v3h-1zM1021 477h1v3h-1zM1022 477h1v3h-1zM1023 477h1v3h-1zM1024 477h1v3h-1zM1025 477h1v3h-1zM1026 477h1v3h-1zM1027 477h1v3h-1zM1028 477h1v3h-1zM1029 477h1v3h-1zM1030 477h1v4h-1zM1031 477h1v4h-1zM1032 478h1v3h-1zM1033 478h1v3h-1zM1034 478h1v3h-1zM1035 478h1v3h-1zM1036 478h1v3h-1zM1037 478h1v3h-1zM1038 478h1v3h-1zM1039 478h1v3h-1zM1040 478h1v3h-1zM1041 478h1v3h-1zM1042 478h1v3h-1zM1043 478h1v3h-1zM1044 478h1v3h-1zM1045 478h1v3h-1zM1046 478h1v4h-1zM1047 478h1v4h-1zM1048 479h1v3h-1zM1049 479h1v3h-1zM1050 479h1v3h-1zM1051 479h1v3h-1zM1052 479h1v3h-1zM1053 479h1v3h-1zM1054 479h1v3h-1zM1055 479h1v3h-1zM1056 479h1v3h-1zM1057 479h1v3h-1zM1058 479h1v3h-1zM1059 479h1v3h-1zM1060 479h1v3h-1zM1061 479h1v3h-1zM1062 479h1v4h-1zM1063 479h1v4h-1zM1064 480h1v3h-1zM1065 480h1v3h-1zM1066 480h1v3h-1zM1067 480h1v3h-1zM1068 480h1v3h-1zM1069 480h1v3h-1zM1070 480h1v3h-1zM1071 480h1v3h-1zM1072 480h1v3h-1zM1073 480h1v3h-1zM1074 480h1v3h-1zM1075 480h1v3h-1zM1076 480h1v3h-1zM1077 480h1v3h-1zM1078 479h1v4h-1zM1079 479h1v4h-1zM1080 479h1v3h-1zM1081 479h1v3h-1zM1082 479h1v3h-1zM1083 479h1v3h-1zM1084 479h1v3h-1zM1085 479h1v3h-1zM1086 479h1v3h-1zM1087 479h1v3h-1zM1088 478h1v4h-1zM1089 478h1v4h-1zM1090 478h1v3h-1zM1091 478h1v3h-1zM1092 477h1v4h-1zM1093 477h1v4h-1zM1094 477h1v3h-1zM1095 477h1v3h-1zM1096 476h1v4h-1zM1097 476h1v4h-1zM1098 476h1v3h-1zM1099 476h1v3h-1zM1100 475h1v4h-1zM1101 475h1v4h-1zM1102 475h1v3h-1zM1103 475h1v3h-1zM1104 474h1v4h-1zM1105 474h1v4h-1zM1106 474h1v3h-1zM1107 474h1v3h-1zM1108 473h1v4h-1zM1109 473h1v4h-1zM1110 473h1v3h-1zM1111 473h1v3h-1zM1112 472h1v4h-1zM1113 472h1v4h-1zM1114 472h1v3h-1zM1115 472h1v3h-1zM1116 471h1v4h-1zM1117 471h1v4h-1zM1118 471h1v3h-1zM1119 470h1v4h-1zM1120 470h1v4h-1zM1121 470h1v3h-1zM1122 469h1v4h-1zM1123 469h1v4h-1zM1124 469h1v3h-1zM1125 469h1v3h-1zM1126 468h1v4h-1zM1127 468h1v4h-1zM1128 468h1v3h-1zM1129 467h1v4h-1zM1130 467h1v4h-1zM1131 467h1v3h-1zM1132 466h1v4h-1zM1133 466h1v4h-1zM1134 466h1v3h-1zM1135 465h1v4h-1zM1136 465h1v4h-1zM1137 464h1v4h-1zM1138 464h1v4h-1zM1139 463h1v4h-1zM1140 463h1v4h-1zM1141 463h1v3h-1zM1142 462h1v4h-1zM1143 462h1v4h-1zM1144 461h1v4h-1zM1145 461h1v4h-1zM1146 460h1v4h-1zM1147 460h1v4h-1zM1148 459h1v4h-1zM1149 459h1v4h-1zM1150 459h1v3h-1zM1151 458h1v4h-1zM1152 458h1v4h-1zM1153 457h1v4h-1zM1154 457h1v4h-1zM1155 456h1v4h-1zM1156 456h1v4h-1zM1157 455h1v4h-1zM1158 455h1v4h-1zM1159 454h1v4h-1zM1160 454h1v4h-1zM1161 453h1v4h-1zM1162 453h1v4h-1zM1163 452h1v4h-1zM1164 452h1v4h-1zM1165 451h1v4h-1zM1166 451h1v4h-1zM1167 450h1v4h-1zM1168 450h1v4h-1zM1169 449h1v4h-1zM1170 449h1v4h-1zM1171 448h1v4h-1zM1172 448h1v4h-1zM1173 447h1v4h-1zM1174 447h1v4h-1zM1175 446h1v4h-1zM1176 446h1v4h-1zM1177 445h1v4h-1zM1178 445h1v4h-1zM1179 444h1v4h-1zM1180 444h1v4h-1zM1181 443h1v4h-1zM1182 443h1v4h-1zM1183 442h1v4h-1zM1184 442h1v4h-1zM1185 441h1v4h-1zM1186 441h1v4h-1zM1187 440h1v4h-1zM1188 440h1v4h-1zM1189 439h1v4h-1zM1190 439h1v4h-1zM1191 438h1v4h-1zM1192 438h1v4h-1zM1193 437h1v4h-1zM1194 437h1v4h-1zM1195 436h1v4h-1zM1196 436h1v4h-1zM1197 435h1v4h-1zM1198 435h1v4h-1zM1199 434h1v4h-1zM1200 434h1v4h-1zM1201 434h1v3h-1zM1202 433h1v4h-1zM1203 433h1v4h-1zM1204 432h1v4h-1zM1205 432h1v4h-1zM1206 432h1v3h-1zM1207 431h1v4h-1zM1208 431h1v4h-1zM1209 431h1v3h-1zM1210 430h1v4h-1zM1211 430h1v4h-1zM1212 429h1v4h-1zM1213 429h1v4h-1zM1214 429h1v3h-1zM1215 428h1v4h-1zM1216 428h1v4h-1zM1217 427h1v4h-1zM1218 427h1v4h-1zM1219 426h1v4h-1zM1220 426h1v4h-1zM1221 426h1v3h-1zM1222 425h1v4h-1zM1223 425h1v4h-1zM1224 424h1v4h-1zM1225 424h1v4h-1zM1226 423h1v4h-1zM1227 423h1v4h-1zM1228 422h1v4h-1zM1229 422h1v4h-1zM1230 422h1v3h-1zM1231 421h1v4h-1zM1232 421h1v4h-1zM1233 420h1v4h-1zM1234 420h1v4h-1zM1235 419h1v4h-1zM1236 419h1v4h-1zM1237 418h1v4h-1zM1238 418h1v4h-1zM1239 417h1v4h-1zM1240 417h1v4h-1zM1241 416h1v4h-1zM1242 416h1v4h-1zM1243 415h1v4h-1zM1244 415h1v4h-1zM1245 414h1v4h-1zM1246 414h1v4h-1zM1247 413h1v4h-1zM1248 413h1v4h-1zM1249 412h1v4h-1zM1250 412h1v4h-1zM1251 411h1v4h-1zM1252 411h1v4h-1zM1253 410h1v4h-1zM1254 410h1v4h-1zM1255 409h1v4h-1zM1256 409h1v4h-1zM1257 408h1v4h-1zM1258 408h1v4h-1zM1259 407h1v4h-1zM1260 407h1v4h-1zM1261 406h1v4h-1zM1262 406h1v4h-1zM1263 405h1v4h-1zM1264 405h1v4h-1zM1265 404h1v4h-1zM1266 404h1v4h-1zM1267 403h1v4h-1zM1268 403h1v4h-1zM1269 403h1v3h-1zM1270 402h1v4h-1zM1271 402h1v4h-1zM1272 401h1v4h-1zM1273 401h1v4h-1zM1274 400h1v4h-1zM1275 400h1v4h-1zM1276 399h1v4h-1zM1277 399h1v4h-1zM1278 398h1v4h-1zM1279 398h1v4h-1zM1280 397h1v4h-1zM1281 397h1v4h-1zM1282 396h1v4h-1zM1283 396h1v4h-1zM1284 395h1v4h-1zM1285 395h1v4h-1zM1286 394h1v4h-1zM1287 393h1v5h-1zM1288 393h1v4h-1zM1289 392h1v4h-1zM1290 392h1v4h-1zM1291 391h1v4h-1zM1292 391h1v4h-1zM1293 390h1v4h-1zM1294 389h1v5h-1zM1295 389h1v4h-1zM1296 388h1v4h-1zM1297 387h1v5h-1zM1298 386h1v5h-1zM1299 386h1v4h-1zM1300 385h1v4h-1zM1301 384h1v5h-1zM1302 383h1v5h-1zM1303 383h1v4h-1zM1304 382h1v4h-1zM1305 381h1v5h-1zM1306 380h1v5h-1zM1307 380h1v4h-1zM1308 379h1v4h-1zM1309 378h1v5h-1zM1310 377h1v5h-1zM1311 377h1v4h-1zM1312 376h1v4h-1zM1313 375h1v5h-1zM1314 375h1v4h-1zM1315 374h1v4h-1zM1316 373h1v5h-1zM1317 373h1v4h-1zM1318 372h1v4h-1zM1319 371h1v5h-1zM1320 370h1v5h-1zM1321 370h1v4h-1zM1322 369h1v4h-1zM1323 368h1v5h-1zM1324 368h1v4h-1zM1325 367h1v4h-1zM1326 366h1v5h-1zM1327 366h1v4h-1zM1328 365h1v4h-1zM1329 364h1v5h-1zM1330 364h1v4h-1zM1331 363h1v4h-1zM1332 362h1v5h-1zM1333 362h1v4h-1zM1334 361h1v4h-1zM1335 360h1v5h-1zM1336 359h1v5h-1zM1337 359h1v4h-1zM1338 358h1v4h-1zM1339 357h1v5h-1zM1340 357h1v4h-1zM1341 356h1v4h-1zM1342 355h1v5h-1zM1343 355h1v4h-1zM1344 354h1v4h-1zM1345 354h1v4h-1zM1346 353h1v4h-1zM1347 352h1v5h-1zM1348 352h1v4h-1zM1349 351h1v4h-1zM1350 350h1v5h-1zM1351 350h1v4h-1zM1352 349h1v4h-1zM1353 349h1v4h-1zM1354 348h1v4h-1zM1355 347h1v5h-1zM1356 347h1v4h-1zM1357 346h1v4h-1zM1358 345h1v5h-1zM1359 345h1v4h-1zM1360 344h1v4h-1zM1361 343h1v5h-1zM1362 343h1v4h-1zM1363 342h1v4h-1zM1364 341h1v5h-1zM1365 341h1v4h-1zM1366 340h1v4h-1zM1367 339h1v5h-1zM1368 338h1v5h-1zM1369 338h1v4h-1zM1370 337h1v4h-1zM1371 336h1v5h-1zM1372 336h1v4h-1zM1373 335h1v4h-1zM1374 334h1v5h-1zM1375 333h1v5h-1zM1376 333h1v4h-1zM1377 332h1v4h-1zM1378 331h1v5h-1zM1379 330h1v5h-1zM1380 329h1v5h-1zM1381 329h1v4h-1zM1382 328h1v4h-1zM1383 327h1v5h-1zM1384 326h1v5h-1zM1385 325h1v5h-1zM1386 324h1v5h-1zM1387 324h1v4h-1zM1388 323h1v4h-1zM1389 322h1v5h-1zM1390 321h1v5h-1zM1391 320h1v5h-1zM1392 320h1v4h-1zM1393 319h1v4h-1zM1394 318h1v5h-1zM1395 317h1v5h-1zM1396 316h1v5h-1zM1397 316h1v4h-1zM1398 315h1v4h-1zM1399 314h1v5h-1zM1400 313h1v5h-1zM1401 312h1v5h-1zM1402 311h1v5h-1zM1403 311h1v4h-1zM1404 310h1v4h-1zM1405 309h1v5h-1zM1406 308h1v5h-1zM1407 308h1v4h-1zM1408 307h1v4h-1zM1409 306h1v5h-1zM1410 306h1v4h-1zM1411 305h1v4h-1zM1412 304h1v5h-1zM1413 304h1v4h-1zM1414 303h1v4h-1zM1415 302h1v5h-1zM1416 301h1v5h-1zM1417 301h1v4h-1zM1418 300h1v4h-1zM1419 299h1v5h-1zM1420 299h1v4h-1zM1421 298h1v4h-1zM1422 297h1v5h-1zM1423 297h1v4h-1zM1424 296h1v4h-1zM1425 295h1v5h-1zM1426 294h1v5h-1zM1427 294h1v4h-1zM1428 293h1v4h-1zM1429 292h1v5h-1zM1430 291h1v5h-1zM1431 291h1v4h-1zM1432 290h1v4h-1zM1433 289h1v5h-1zM1434 288h1v5h-1zM1435 288h1v4h-1zM1436 287h1v4h-1zM1437 286h1v5h-1zM1438 285h1v5h-1zM1439 285h1v4h-1zM1440 284h1v4h-1zM1441 283h1v5h-1zM1442 283h1v4h-1zM1443 282h1v4h-1zM1444 281h1v5h-1zM1445 281h1v4h-1zM1446 280h1v4h-1zM1447 279h1v5h-1zM1448 278h1v5h-1zM1449 278h1v4h-1zM1450 277h1v4h-1zM1451 276h1v5h-1zM1452 276h1v4h-1zM1453 275h1v4h-1zM1454 274h1v5h-1zM1455 274h1v4h-1zM1456 273h1v4h-1zM1457 272h1v5h-1zM1458 271h1v5h-1zM1459 271h1v4h-1zM1460 270h1v4h-1zM1461 269h1v5h-1zM1462 268h1v5h-1zM1463 268h1v4h-1zM1464 267h1v4h-1zM1465 266h1v5h-1zM1466 265h1v5h-1zM1467 265h1v4h-1zM1468 264h1v4h-1zM1469 263h1v5h-1zM1470 262h1v5h-1zM1471 262h1v4h-1zM1472 261h1v4h-1zM1473 261h1v4h-1zM1474 260h1v4h-1zM1475 259h1v5h-1zM1476 259h1v4h-1zM1477 258h1v4h-1zM1478 257h1v5h-1zM1479 257h1v4h-1zM1480 256h1v4h-1zM1481 256h1v4h-1zM1482 255h1v4h-1zM1483 254h1v5h-1zM1484 254h1v4h-1zM1485 253h1v4h-1zM1486 252h1v5h-1zM1487 252h1v4h-1zM1488 251h1v4h-1zM1489 251h1v4h-1zM1490 250h1v4h-1zM1491 250h1v4h-1zM1492 249h1v4h-1zM1493 249h1v4h-1zM1494 248h1v4h-1zM1495 247h1v5h-1zM1496 247h1v4h-1zM1497 246h1v4h-1zM1498 246h1v4h-1zM1499 245h1v4h-1zM1500 245h1v4h-1zM1501 244h1v4h-1zM1502 243h1v5h-1zM1503 243h1v4h-1zM1504 242h1v4h-1zM1505 242h1v4h-1zM1506 241h1v4h-1zM1507 241h1v4h-1zM1508 240h1v4h-1zM1509 240h1v4h-1zM1510 239h1v4h-1zM1511 238h1v5h-1zM1512 238h1v4h-1zM1513 237h1v4h-1zM1514 237h1v4h-1zM1515 236h1v4h-1zM1516 236h1v4h-1zM1517 235h1v4h-1zM1518 234h1v5h-1zM1519 234h1v4h-1zM1520 233h1v4h-1zM1521 232h1v5h-1zM1522 232h1v4h-1zM1523 231h1v4h-1zM1524 230h1v5h-1zM1525 230h1v4h-1zM1526 229h1v4h-1zM1527 228h1v5h-1zM1528 227h1v5h-1zM1529 227h1v4h-1zM1530 226h1v4h-1zM1531 225h1v5h-1zM1532 225h1v4h-1zM1533 224h1v4h-1zM1534 223h1v5h-1zM1535 222h1v5h-1zM1536 222h1v4h-1zM1537 221h1v4h-1zM1538 220h1v5h-1zM1539 219h1v5h-1zM1540 218h1v5h-1zM1541 218h1v4h-1zM1542 217h1v4h-1zM1543 216h1v5h-1zM1544 215h1v5h-1zM1545 214h1v5h-1zM1546 213h1v5h-1zM1547 213h1v4h-1zM1548 212h1v4h-1zM1549 211h1v5h-1zM1550 211h1v4h-1zM1551 210h1v4h-1zM1552 210h1v4h-1zM1553 209h1v4h-1zM1554 209h1v4h-1zM1555 208h1v4h-1zM1556 208h1v4h-1zM1557 207h1v4h-1zM1558 207h1v4h-1zM1559 206h1v4h-1zM1560 206h1v4h-1zM1561 205h1v4h-1zM1562 205h1v4h-1zM1563 204h1v4h-1zM1564 204h1v4h-1zM1565 203h1v4h-1zM1566 202h1v5h-1zM1567 202h1v4h-1zM1568 201h1v4h-1zM1569 201h1v4h-1zM1570 200h1v4h-1zM1571 200h1v4h-1zM1572 199h1v4h-1zM1573 199h1v4h-1zM1574 198h1v4h-1zM1575 197h1v5h-1zM1576 197h1v4h-1zM1577 196h1v4h-1zM1578 196h1v4h-1zM1579 195h1v4h-1zM1580 195h1v4h-1zM1581 194h1v4h-1zM1582 194h1v4h-1zM1583 193h1v4h-1zM1584 193h1v4h-1zM1585 193h1v3h-1zM1586 192h1v4h-1zM1587 192h1v4h-1zM1588 192h1v3h-1zM1589 192h1v3h-1zM1590 191h1v4h-1zM1591 191h1v4h-1zM1592 191h1v3h-1zM1593 190h1v4h-1zM1594 190h1v4h-1zM1595 190h1v3h-1zM1596 189h1v4h-1zM1597 189h1v4h-1zM1598 189h1v3h-1zM1599 189h1v3h-1zM1600 188h1v4h-1zM1601 188h1v4h-1zM1602 188h1v3h-1zM1603 188h1v3h-1zM1604 188h1v3h-1zM1605 188h1v3h-1zM1606 187h1v4h-1zM1607 187h1v4h-1zM1608 187h1v3h-1zM1609 187h1v3h-1zM1610 187h1v3h-1zM1611 186h1v4h-1zM1612 186h1v4h-1zM1613 186h1v3h-1zM1614 186h1v3h-1zM1615 186h1v3h-1zM1616 185h1v4h-1zM1617 185h1v4h-1zM1618 185h1v3h-1zM1619 185h1v3h-1zM1620 184h1v4h-1zM1621 184h1v4h-1zM1622 184h1v3h-1zM1623 184h1v3h-1zM1624 183h1v4h-1zM1625 183h1v4h-1zM1626 183h1v3h-1zM1627 183h1v3h-1zM1628 182h1v4h-1zM1629 182h1v4h-1zM1630 182h1v3h-1zM1631 181h1v4h-1zM1632 181h1v4h-1zM1633 181h1v3h-1zM1634 180h1v4h-1zM1635 180h1v4h-1zM1636 180h1v3h-1zM1637 180h1v3h-1zM1638 179h1v4h-1zM1639 179h1v4h-1zM1640 179h1v3h-1zM1641 178h1v4h-1zM1642 178h1v4h-1zM1643 178h1v3h-1zM1644 177h1v4h-1zM1645 177h1v4h-1zM1646 177h1v3h-1zM1647 177h1v3h-1zM1648 176h1v4h-1zM1649 176h1v4h-1zM1650 176h1v3h-1zM1651 176h1v3h-1zM1652 176h1v3h-1zM1653 176h1v3h-1zM1654 175h1v4h-1zM1655 175h1v4h-1zM1656 175h1v3h-1zM1657 175h1v3h-1zM1658 175h1v3h-1zM1659 174h1v4h-1zM1660 174h1v4h-1zM1661 174h1v3h-1zM1662 174h1v3h-1zM1663 174h1v3h-1zM1664 173h1v4h-1zM1665 173h1v4h-1zM1666 173h1v3h-1zM1667 173h1v3h-1zM1668 173h1v3h-1zM1669 173h1v3h-1zM1670 172h1v4h-1zM1671 172h1v4h-1zM1672 172h1v3h-1zM1673 172h1v3h-1zM1674 172h1v3h-1zM1675 171h1v4h-1zM1676 171h1v4h-1zM1677 171h1v3h-1zM1678 171h1v3h-1zM1679 171h1v3h-1zM1680 170h1v4h-1zM1681 170h1v4h-1zM1682 170h1v3h-1zM1683 170h1v3h-1zM1684 170h1v3h-1zM1685 170h1v3h-1zM1686 169h1v4h-1zM1687 169h1v4h-1zM1688 169h1v3h-1zM1689 169h1v3h-1zM1690 169h1v3h-1zM1691 168h1v4h-1zM1692 168h1v4h-1zM1693 168h1v3h-1zM1694 168h1v3h-1zM1695 168h1v3h-1zM1696 168h1v3h-1zM1697 168h1v3h-1zM1698 168h1v3h-1zM1699 168h1v3h-1zM1700 168h1v3h-1zM1701 168h1v3h-1zM1702 168h1v4h-1zM1703 168h1v4h-1zM1704 169h1v3h-1zM1705 169h1v3h-1zM1706 169h1v3h-1zM1707 169h1v3h-1zM1708 169h1v3h-1zM1709 169h1v3h-1zM1710 169h1v3h-1zM1711 169h1v3h-1zM1712 169h1v3h-1zM1713 169h1v3h-1zM1714 169h1v3h-1zM1715 169h1v3h-1zM1716 169h1v3h-1zM1717 169h1v3h-1zM1718 168h1v4h-1zM1719 168h1v4h-1zM1720 168h1v3h-1zM1721 168h1v3h-1zM1722 168h1v3h-1zM1723 168h1v3h-1zM1724 168h1v3h-1zM1725 168h1v3h-1zM1726 168h1v3h-1zM1727 168h1v3h-1zM1728 168h1v3h-1zM1729 168h1v3h-1zM1730 167h1v4h-1zM1731 167h1v4h-1zM1732 167h1v3h-1zM1733 167h1v3h-1zM1734 167h1v3h-1zM1735 167h1v3h-1zM1736 167h1v3h-1zM1737 167h1v3h-1zM1738 166h1v4h-1zM1739 166h1v4h-1zM1740 166h1v3h-1zM1741 166h1v3h-1zM1742 166h1v3h-1zM1743 166h1v3h-1zM1744 166h1v3h-1zM1745 166h1v3h-1zM1746 165h1v4h-1zM1747 165h1v4h-1zM1748 165h1v3h-1zM1749 165h1v3h-1zM1750 165h1v3h-1zM1751 165h1v3h-1zM1752 165h1v3h-1zM1753 165h1v3h-1zM1754 164h1v4h-1zM1755 164h1v4h-1zM1756 164h1v3h-1zM1757 164h1v3h-1zM1758 164h1v3h-1zM1759 163h1v4h-1zM1760 163h1v4h-1zM1761 163h1v3h-1zM1762 162h1v4h-1zM1763 162h1v4h-1zM1764 161h1v4h-1zM1765 161h1v4h-1zM1766 161h1v3h-1zM1767 160h1v4h-1zM1768 160h1v4h-1zM1769 160h1v3h-1zM1770 159h1v4h-1zM1771 159h1v4h-1zM1772 158h1v4h-1zM1773 158h1v4h-1zM1774 158h1v3h-1zM1775 157h1v4h-1zM1776 157h1v4h-1zM1777 157h1v3h-1zM1778 156h1v4h-1zM1779 156h1v4h-1zM1780 155h1v4h-1zM1781 155h1v4h-1zM1782 155h1v3h-1zM1783 154h1v4h-1zM1784 154h1v4h-1zM1785 154h1v3h-1zM1786 153h1v4h-1zM1787 153h1v4h-1zM1788 152h1v4h-1zM1789 152h1v4h-1zM1790 152h1v3h-1zM1791 151h1v4h-1zM1792 151h1v4h-1zM1793 150h1v4h-1zM1794 150h1v4h-1zM1795 149h1v4h-1zM1796 149h1v4h-1zM1797 149h1v3h-1zM1798 148h1v4h-1zM1799 148h1v4h-1zM1800 147h1v4h-1zM1801 147h1v4h-1zM1802 146h1v4h-1zM1803 146h1v4h-1zM1804 145h1v4h-1zM1805 145h1v4h-1zM1806 145h1v3h-1zM1807 144h1v4h-1zM1808 144h1v4h-1zM1809 143h1v4h-1zM1810 143h1v4h-1zM1811 142h1v4h-1zM1812 142h1v4h-1zM1813 142h1v3h-1zM1814 141h1v4h-1zM1815 141h1v4h-1zM1816 140h1v4h-1zM1817 140h1v4h-1zM1818 139h1v4h-1zM1819 139h1v4h-1zM1820 138h1v4h-1zM1821 138h1v4h-1zM1822 138h1v3h-1zM1823 137h1v4h-1zM1824 137h1v4h-1zM1825 137h1v3h-1zM1826 136h1v4h-1zM1827 136h1v4h-1zM1828 136h1v3h-1zM1829 136h1v3h-1zM1830 135h1v4h-1zM1831 135h1v4h-1zM1832 135h1v3h-1zM1833 134h1v4h-1zM1834 134h1v4h-1zM1835 134h1v3h-1zM1836 133h1v4h-1zM1837 133h1v4h-1zM1838 133h1v3h-1zM1839 133h1v3h-1z" fill="#FF0000"/></g>
<g clip-path="url(#cs)" shape-rendering="crispEdges"><path d="M-3 642h1v3h-1zM-2 642h1v4h-1zM-1 642h1v4h-1zM0 643h1v4h-1zM1 643h1v4h-1zM2 644h1v4h-1zM3 644h1v4h-1zM4 645h1v4h-1zM5 645h1v4h-1zM6 646h1v4h-1zM7 646h1v5h-1zM8 647h1v4h-1zM9 648h1v4h-1zM10 648h1v4h-1zM11 649h1v4h-1zM12 649h1v4h-1zM13 650h1v4h-1zM14 650h1v4h-1zM15 651h1v4h-1zM16 651h1v4h-1zM17 652h1v4h-1zM18 652h1v4h-1zM19 653h1v4h-1zM20 653h1v4h-1zM21 654h1v3h-1zM22 654h1v4h-1zM23 654h1v4h-1zM24 655h1v4h-1zM25 655h1v4h-1zM26 656h1v4h-1zM27 656h1v4h-1zM28 657h1v4h-1zM29 657h1v4h-1zM30 658h1v3h-1zM31 658h1v3h-1zM32 657h1v4h-1zM33 657h1v4h-1zM34 657h1v3h-1zM35 657h1v3h-1zM36 657h1v3h-1zM37 657h1v3h-1zM38 656h1v4h-1zM39 656h1v4h-1zM40 656h1v3h-1zM41 656h1v3h-1zM42 656h1v3h-1zM43 655h1v4h-1zM44 655h1v4h-1zM45 655h1v3h-1zM46 655h1v3h-1zM47 655h1v3h-1zM48 655h1v4h-1zM49 655h1v4h-1zM50 656h1v3h-1zM51 656h1v3h-1zM52 656h1v3h-1zM53 656h1v3h-1zM54 656h1v4h-1zM55 656h1v4h-1zM56 657h1v3h-1zM57 657h1v3h-1zM58 657h1v3h-1zM59 657h1v4h-1zM60 657h1v4h-1zM61 658h1v3h-1zM62 658h1v3h-1zM63 658h1v3h-1zM64 658h1v3h-1zM65 658h1v3h-1zM66 658h1v3h-1zM67 658h1v3h-1zM68 658h1v3h-1zM69 658h1v3h-1zM70 658h1v4h-1zM71 658h1v4h-1zM72 659h1v3h-1zM73 659h1v3h-1zM74 659h1v3h-1zM75 659h1v3h-1zM76 659h1v3h-1zM77 659h1v3h-1zM78 659h1v3h-1zM79 659h1v3h-1zM80 659h1v3h-1zM81 659h1v3h-1zM82 659h1v3h-1zM83 659h1v3h-1zM84 659h1v3h-1zM85 659h1v3h-1zM86 658h1v4h-1zM87 658h1v4h-1zM88 658h1v3h-1zM89 658h1v3h-1zM90 658h1v3h-1zM91 658h1v3h-1zM92 658h1v3h-1zM93 658h1v3h-1zM94 658h1v3h-1zM95 658h1v3h-1zM96 657h1v4h-1zM97 657h1v4h-1zM98 657h1v3h-1zM99 657h1v3h-1zM100 656h1v4h-1zM101 656h1v4h-1zM102 656h1v3h-1zM103 656h1v3h-1zM104 655h1v4h-1zM105 655h1v4h-1zM106 655h1v3h-1zM107 655h1v3h-1zM108 654h1v4h-1zM109 654h1v4h-1zM110 654h1v3h-1zM111 653h1v4h-1zM112 653h1v4h-1zM113 653h1v3h-1zM114 652h1v4h-1zM115 652h1v4h-1zM116 651h1v4h-1zM117 651h1v4h-1zM118 651h1v3h-1zM119 650h1v4h-1zM120 650h1v4h-1zM121 650h1v3h-1zM122 649h1v4h-1zM123 649h1v4h-1zM124 648h1v4h-1zM125 648h1v4h-1zM126 647h1v4h-1zM127 647h1v4h-1zM128 646h1v4h-1zM129 646h1v4h-1zM130 645h1v4h-1zM131 645h1v4h-1zM132 644h1v4h-1zM133 644h1v4h-1zM134 643h1v4h-1zM135 642h1v5h-1zM136 642h1v4h-1zM137 641h1v4h-1zM138 641h1v4h-1zM139 640h1v4h-1zM140 640h1v4h-1zM141 639h1v4h-1zM142 638h1v5h-1zM143 638h1v4h-1zM144 637h1v4h-1zM145 636h1v5h-1zM146 635h1v5h-1zM147 635h1v4h-1zM148 634h1v4h-1zM149 633h1v5h-1zM150 632h1v5h-1zM151 632h1v4h-1zM152 631h1v4h-1zM153 630h1v5h-1zM154 629h1v5h-1zM155 629h1v4h-1zM156 628h1v4h-1zM157 627h1v5h-1zM158 627h1v4h-1zM159 627h1v3h-1zM160 626h1v4h-1zM161 626h1v4h-1zM162 626h1v3h-1zM163 626h1v3h-1zM164 626h1v3h-1zM165 626h1v3h-1zM166 625h1v4h-1zM167 625h1v4h-1zM168 625h1v3h-1zM169 625h1v3h-1zM170 625h1v3h-1zM171 624h1v4h-1zM172 624h1v4h-1zM173 624h1v3h-1zM174 624h1v3h-1zM175 624h1v3h-1zM176 624h1v3h-1zM177 624h1v3h-1zM178 624h1v3h-1zM179 624h1v3h-1zM180 624h1v3h-1zM181 624h1v3h-1zM182 623h1v4h-1zM183 623h1v4h-1zM184 623h1v3h-1zM185 623h1v3h-1zM186 623h1v3h-1zM187 623h1v3h-1zM188 623h1v3h-1zM189 623h1v3h-1zM190 623h1v3h-1zM191 623h1v3h-1zM192 622h1v4h-1zM193 622h1v4h-1zM194 622h1v3h-1zM195 622h1v3h-1zM196 621h1v4h-1zM197 621h1v4h-1zM198 621h1v3h-1zM199 621h1v3h-1zM200 620h1v4h-1zM201 620h1v4h-1zM202 620h1v3h-1zM203 620h1v3h-1zM204 619h1v4h-1zM205 619h1v4h-1zM206 619h1v3h-1zM207 619h1v3h-1zM208 619h1v3h-1zM209 619h1v3h-1zM210 619h1v3h-1zM211 619h1v3h-1zM212 619h1v3h-1zM213 619h1v3h-1zM214 618h1v4h-1zM215 618h1v4h-1zM216 618h1v3h-1zM217 618h1v3h-1zM218 618h1v3h-1zM219 618h1v3h-1zM220 618h1v3h-1zM221 618h1v3h-1zM222 618h1v3h-1zM223 618h1v3h-1zM224 618h1v3h-1zM225 618h1v3h-1zM226 617h1v4h-1zM227 617h1v4h-1zM228 617h1v3h-1zM229 617h1v3h-1zM230 617h1v3h-1zM231 617h1v3h-1zM232 617h1v3h-1zM233 617h1v3h-1zM234 616h1v4h-1zM235 616h1v4h-1zM236 616h1v3h-1zM237 616h1v3h-1zM238 616h1v3h-1zM239 616h1v3h-1zM240 616h1v3h-1zM241 616h1v3h-1zM242 616h1v3h-1zM243 616h1v3h-1zM244 616h1v3h-1zM245 616h1v3h-1zM246 615h1v4h-1zM247 615h1v4h-1zM248 615h1v3h-1zM249 615h1v3h-1zM250 615h1v3h-1zM251 615h1v3h-1zM252 615h1v3h-1zM253 615h1v3h-1zM254 615h1v3h-1zM255 615h1v4h-1zM256 615h1v4h-1zM257 616h1v3h-1zM258 616h1v4h-1zM259 616h1v4h-1zM260 617h1v4h-1zM261 617h1v4h-1zM262 618h1v3h-1zM263 618h1v4h-1zM264 618h1v4h-1zM265 619h1v3h-1zM266 619h1v4h-1zM267 619h1v4h-1zM268 620h1v4h-1zM269 620h1v4h-1zM270 621h1v3h-1zM271 621h1v3h-1zM272 621h1v4h-1zM273 621h1v4h-1zM274 622h1v3h-1zM275 622h1v3h-1zM276 622h1v3h-1zM277 622h1v3h-1zM278 622h1v4h-1zM279 622h1v4h-1zM280 623h1v3h-1zM281 623h1v3h-1zM282 623h1v3h-1zM283 623h1v4h-1zM284 623h1v4h-1zM285 624h1v3h-1zM286 624h1v3h-1zM287 624h1v4h-1zM288 624h1v4h-1zM289 625h1v4h-1zM290 625h1v4h-1zM291 626h1v4h-1zM292 626h1v4h-1zM293 627h1v3h-1zM294 627h1v4h-1zM295 627h1v4h-1zM296 628h1v4h-1zM297 628h1v4h-1zM298 629h1v4h-1zM299 629h1v4h-1zM300 630h1v4h-1zM301 630h1v4h-1zM302 631h1v3h-1zM303 631h1v3h-1zM304 631h1v3h-1zM305 631h1v3h-1zM306 631h1v3h-1zM307 631h1v3h-1zM308 631h1v3h-1zM309 631h1v3h-1zM310 631h1v4h-1zM311 631h1v4h-1zM312 632h1v3h-1zM313 632h1v3h-1zM314 632h1v3h-1zM315 632h1v3h-1zM316 632h1v3h-1zM317 632h1v3h-1zM318 632h1v4h-1zM319 632h1v5h-1zM320 633h1v5h-1zM321 634h1v4h-1zM322 635h1v4h-1zM323 635h1v5h-1zM324 636h1v5h-1zM325 637h1v5h-1zM326 638h1v5h-1zM327 639h1v5h-1zM328 640h1v5h-1zM329 641h1v4h-1zM330 642h1v4h-1zM331 642h1v5h-1zM332 643h1v5h-1zM333 644h1v5h-1zM334 645h1v5h-1zM335 646h1v4h-1zM336 647h1v4h-1zM337 647h1v4h-1zM338 648h1v4h-1zM339 648h1v5h-1zM340 649h1v4h-1zM341 650h1v4h-1zM342 650h1v5h-1zM343 651h1v4h-1zM344 652h1v4h-1zM345 652h1v4h-1zM346 653h1v4h-1zM347 653h1v5h-1zM348 654h1v4h-1zM349 655h1v4h-1zM350 655h1v5h-1zM351 656h1v4h-1zM352 657h1v4h-1zM353 657h1v5h-1zM354 658h1v5h-1zM355 659h1v4h-1zM356 660h1v4h-1zM357 660h1v5h-1zM358 661h1v5h-1zM359 662h1v4h-1zM360 663h1v4h-1zM361 663h1v5h-1zM362 664h1v5h-1zM363 665h1v4h-1zM364 666h1v4h-1zM365 666h1v5h-1zM366 667h1v6h-1zM367 668h1v6h-1zM368 669h1v7h-1zM369 671h1v6h-1zM370 672h1v6h-1zM371 674h1v6h-1zM372 675h1v6h-1zM373 676h1v7h-1zM374 678h1v6h-1zM375 679h1v7h-1zM376 681h1v6h-1zM377 682h1v6h-1zM378 684h1v6h-1zM379 685h1v6h-1zM380 686h1v7h-1zM381 688h1v6h-1zM382 689h1v7h-1zM383 691h1v7h-1zM384 692h1v8h-1zM385 694h1v8h-1zM386 696h1v7h-1zM387 698h1v7h-1zM388 700h1v7h-1zM389 701h1v8h-1zM390 703h1v8h-1zM391 705h1v8h-1zM392 707h1v7h-1zM393 709h1v7h-1zM394 711h1v7h-1zM395 712h1v8h-1zM396 714h1v8h-1zM397 716h1v7h-1zM398 718h1v7h-1zM399 720h1v7h-1zM400 721h1v8h-1zM401 723h1v8h-1zM402 725h1v7h-1zM403 727h1v7h-1zM404 729h1v7h-1zM405 730h1v8h-1zM406 732h1v8h-1zM407 734h1v8h-1zM408 736h1v7h-1zM409 738h1v7h-1zM410 740h1v7h-1zM411 741h1v8h-1zM412 743h1v8h-1zM413 745h1v7h-1zM414 747h1v7h-1zM415 749h1v7h-1zM416 750h1v7h-1zM417 752h1v7h-1zM418 754h1v7h-1zM419 755h1v7h-1zM420 757h1v7h-1zM421 759h1v7h-1zM422 760h1v8h-1zM423 762h1v7h-1zM424 764h1v7h-1zM425 766h1v7h-1zM426 767h1v7h-1zM427 769h1v7h-1zM428 771h1v7h-1zM429 772h1v7h-1zM430 774h1v7h-1zM431 776h1v7h-1zM432 777h1v7h-1zM433 779h1v7h-1zM434 781h1v7h-1zM435 782h1v7h-1zM436 784h1v7h-1zM437 786h1v7h-1zM438 787h1v8h-1zM439 789h1v7h-1zM440 791h1v7h-1zM441 793h1v7h-1zM442 794h1v7h-1zM443 796h1v7h-1zM444 798h1v7h-1zM445 799h1v7h-1zM446 801h1v6h-1zM447 803h1v5h-1zM448 804h1v5h-1zM449 805h1v5h-1zM450 806h1v5h-1zM451 807h1v5h-1zM452 808h1v5h-1zM453 809h1v6h-1zM454 810h1v6h-1zM455 811h1v6h-1zM456 813h1v5h-1zM457 814h1v5h-1zM458 815h1v5h-1zM459 816h1v5h-1zM460 817h1v5h-1zM461 818h1v5h-1zM462 819h1v4h-1zM463 820h1v3h-1zM464 820h1v4h-1zM465 820h1v4h-1zM466 821h1v3h-1zM467 821h1v3h-1zM468 821h1v3h-1zM469 821h1v3h-1zM470 821h1v4h-1zM471 821h1v4h-1zM472 822h1v3h-1zM473 822h1v3h-1zM474 822h1v3h-1zM475 822h1v4h-1zM476 822h1v4h-1zM477 823h1v3h-1zM478 823h1v3h-1zM479 823h1v4h-1zM480 823h1v4h-1zM481 824h1v4h-1zM482 824h1v4h-1zM483 825h1v4h-1zM484 825h1v4h-1zM485 826h1v3h-1zM486 826h1v4h-1zM487 826h1v4h-1zM488 827h1v4h-1zM489 827h1v4h-1zM490 828h1v4h-1zM491 828h1v4h-1zM492 829h1v4h-1zM493 829h1v4h-1zM494 830h1v3h-1zM495 830h1v3h-1zM496 830h1v3h-1zM497 830h1v3h-1zM498 830h1v3h-1zM499 830h1v3h-1zM500 830h1v3h-1zM501 830h1v3h-1zM502 830h1v3h-1zM503 830h1v3h-1zM504 830h1v3h-1zM505 830h1v3h-1zM506 830h1v3h-1zM507 830h1v3h-1zM508 830h1v3h-1zM509 830h1v3h-1zM510 829h1v4h-1zM511 828h1v5h-1zM512 826h1v6h-1zM513 825h1v6h-1zM514 824h1v6h-1zM515 823h1v5h-1zM516 822h1v5h-1zM517 820h1v6h-1zM518 819h1v6h-1zM519 818h1v6h-1zM520 817h1v5h-1zM521 816h1v5h-1zM522 814h1v6h-1zM523 813h1v6h-1zM524 812h1v6h-1zM525 811h1v5h-1zM526 810h1v5h-1zM527 810h1v4h-1zM528 809h1v4h-1zM529 809h1v4h-1zM530 808h1v4h-1zM531 808h1v4h-1zM532 807h1v4h-1zM533 807h1v4h-1zM534 806h1v4h-1zM535 805h1v5h-1zM536 805h1v4h-1zM537 804h1v4h-1zM538 804h1v4h-1zM539 803h1v4h-1zM540 803h1v4h-1zM541 802h1v4h-1zM542 801h1v5h-1zM543 801h1v4h-1zM544 800h1v4h-1zM545 800h1v4h-1zM546 799h1v4h-1zM547 799h1v4h-1zM548 798h1v4h-1zM549 798h1v4h-1zM550 797h1v4h-1zM551 796h1v5h-1zM552 796h1v4h-1zM553 795h1v4h-1zM554 795h1v4h-1zM555 794h1v4h-1zM556 794h1v4h-1zM557 793h1v4h-1zM558 793h1v4h-1zM559 792h1v4h-1zM560 792h1v4h-1zM561 791h1v4h-1zM562 791h1v4h-1zM563 790h1v4h-1zM564 790h1v4h-1zM565 789h1v4h-1zM566 789h1v4h-1zM567 788h1v4h-1zM568 788h1v4h-1zM569 787h1v4h-1zM570 787h1v4h-1zM571 786h1v4h-1zM572 786h1v4h-1zM573 785h1v4h-1zM574 784h1v5h-1zM575 784h1v4h-1zM576 783h1v4h-1zM577 782h1v5h-1zM578 782h1v4h-1zM579 781h1v4h-1zM580 780h1v5h-1zM581 780h1v4h-1zM582 779h1v4h-1zM583 778h1v5h-1zM584 777h1v5h-1zM585 777h1v4h-1zM586 776h1v4h-1zM587 775h1v5h-1zM588 775h1v4h-1zM589 774h1v4h-1zM590 774h1v4h-1zM591 773h1v4h-1zM592 773h1v4h-1zM593 773h1v3h-1zM594 772h1v4h-1zM595 772h1v4h-1zM596 771h1v4h-1zM597 771h1v4h-1zM598 771h1v3h-1zM599 770h1v4h-1zM600 770h1v4h-1zM601 770h1v3h-1zM602 769h1v4h-1zM603 769h1v4h-1zM604 768h1v4h-1zM605 768h1v4h-1zM606 768h1v3h-1zM607 768h1v3h-1zM608 768h1v3h-1zM609 768h1v3h-1zM610 768h1v3h-1zM611 768h1v3h-1zM612 768h1v3h-1zM613 768h1v3h-1zM614 767h1v4h-1zM615 767h1v4h-1zM616 767h1v3h-1zM617 767h1v3h-1zM618 767h1v3h-1zM619 767h1v3h-1zM620 767h1v3h-1zM621 767h1v3h-1zM622 767h1v3h-1zM623 767h1v3h-1zM624 767h1v3h-1zM625 767h1v3h-1zM626 767h1v3h-1zM627 767h1v3h-1zM628 767h1v3h-1zM629 767h1v3h-1zM630 767h1v4h-1zM631 767h1v4h-1zM632 768h1v3h-1zM633 768h1v3h-1zM634 768h1v3h-1zM635 768h1v3h-1zM636 768h1v3h-1zM637 768h1v3h-1zM638 768h1v3h-1zM639 768h1v3h-1zM640 768h1v3h-1zM641 768h1v3h-1zM642 768h1v4h-1zM643 768h1v4h-1zM644 769h1v3h-1zM645 769h1v3h-1zM646 769h1v3h-1zM647 769h1v3h-1zM648 769h1v3h-1zM649 769h1v3h-1zM650 769h1v4h-1zM651 769h1v4h-1zM652 770h1v3h-1zM653 770h1v3h-1zM654 770h1v4h-1zM655 770h1v4h-1zM656 771h1v4h-1zM657 771h1v5h-1zM658 772h1v4h-1zM659 773h1v4h-1zM660 773h1v5h-1zM661 774h1v4h-1zM662 775h1v4h-1zM663 775h1v5h-1zM664 776h1v5h-1zM665 777h1v4h-1zM666 778h1v4h-1zM667 778h1v5h-1zM668 779h1v4h-1zM669 780h1v4h-1zM670 780h1v4h-1zM671 781h1v3h-1zM672 781h1v3h-1zM673 781h1v3h-1zM674 781h1v3h-1zM675 781h1v3h-1zM676 781h1v3h-1zM677 781h1v3h-1zM678 780h1v4h-1zM679 780h1v4h-1zM680 780h1v3h-1zM681 780h1v3h-1zM682 780h1v3h-1zM683 780h1v3h-1zM684 780h1v3h-1zM685 780h1v3h-1zM686 780h1v3h-1zM687 780h1v3h-1zM688 779h1v4h-1zM689 779h1v4h-1zM690 779h1v3h-1zM691 779h1v3h-1zM692 779h1v3h-1zM693 779h1v3h-1zM694 778h1v4h-1zM695 778h1v4h-1zM696 778h1v3h-1zM697 778h1v3h-1zM698 778h1v3h-1zM699 777h1v4h-1zM700 777h1v4h-1zM701 777h1v3h-1zM702 777h1v3h-1zM703 776h1v4h-1zM704 776h1v4h-1zM705 775h1v4h-1zM706 775h1v4h-1zM707 774h1v4h-1zM708 774h1v4h-1zM709 774h1v3h-1zM710 773h1v4h-1zM711 773h1v4h-1zM712 772h1v4h-1zM713 772h1v4h-1zM714 771h1v4h-1zM715 771h1v4h-1zM716 770h1v4h-1zM717 770h1v4h-1zM718 769h1v4h-1zM719 769h1v4h-1zM720 768h1v4h-1zM721 767h1v5h-1zM722 767h1v4h-1zM723 766h1v4h-1zM724 765h1v5h-1zM725 765h1v4h-1zM726 764h1v4h-1zM727 763h1v5h-1zM728 762h1v5h-1zM729 762h1v4h-1zM730 761h1v4h-1zM731 760h1v5h-1zM732 760h1v4h-1zM733 759h1v4h-1zM734 759h1v4h-1zM735 759h1v3h-1zM736 758h1v4h-1zM737 758h1v4h-1zM738 758h1v3h-1zM739 758h1v3h-1zM740 757h1v4h-1zM741 757h1v4h-1zM742 757h1v3h-1zM743 757h1v3h-1zM744 756h1v4h-1zM745 756h1v4h-1zM746 756h1v3h-1zM747 756h1v3h-1zM748 755h1v4h-1zM749 755h1v4h-1zM750 755h1v3h-1zM751 755h1v3h-1zM752 755h1v3h-1zM753 755h1v3h-1zM754 754h1v4h-1zM755 754h1v4h-1zM756 754h1v3h-1zM757 754h1v3h-1zM758 754h1v3h-1zM759 754h1v3h-1zM760 754h1v3h-1zM761 754h1v3h-1zM762 753h1v4h-1zM763 753h1v4h-1zM764 753h1v3h-1zM765 753h1v3h-1zM766 753h1v3h-1zM767 753h1v3h-1zM768 753h1v3h-1zM769 753h1v3h-1zM770 753h1v3h-1zM771 753h1v3h-1zM772 753h1v3h-1zM773 753h1v3h-1zM774 752h1v4h-1zM775 752h1v4h-1zM776 752h1v3h-1zM777 752h1v3h-1zM778 752h1v3h-1zM779 752h1v3h-1zM780 752h1v3h-1zM781 752h1v3h-1zM782 752h1v3h-1zM783 752h1v3h-1zM784 752h1v3h-1zM785 752h1v3h-1zM786 752h1v3h-1zM787 752h1v3h-1zM788 752h1v3h-1zM789 752h1v3h-1zM790 752h1v4h-1zM791 752h1v4h-1zM792 753h1v3h-1zM793 753h1v3h-1zM794 753h1v3h-1zM795 753h1v3h-1zM796 753h1v3h-1zM797 753h1v3h-1zM798 753h1v3h-1zM799 753h1v4h-1zM800 753h1v4h-1zM801 754h1v3h-1zM802 754h1v4h-1zM803 754h1v4h-1zM804 755h1v4h-1zM805 755h1v4h-1zM806 756h1v3h-1zM807 756h1v4h-1zM808 756h1v4h-1zM809 757h1v3h-1zM810 757h1v4h-1zM811 757h1v4h-1zM812 758h1v4h-1zM813 758h1v4h-1zM814 759h1v3h-1zM815 759h1v4h-1zM816 759h1v4h-1zM817 760h1v3h-1zM818 760h1v4h-1zM819 760h1v4h-1zM820 761h1v3h-1zM821 761h1v3h-1zM822 761h1v4h-1zM823 761h1v4h-1zM824 762h1v3h-1zM825 762h1v4h-1zM826 762h1v4h-1zM827 763h1v3h-1zM828 763h1v4h-1zM829 763h1v4h-1zM830 764h1v3h-1zM831 764h1v4h-1zM832 764h1v4h-1zM833 765h1v3h-1zM834 765h1v4h-1zM835 765h1v4h-1zM836 766h1v4h-1zM837 766h1v4h-1zM838 767h1v3h-1zM839 767h1v4h-1zM840 767h1v4h-1zM841 768h1v3h-1zM842 768h1v4h-1zM843 768h1v4h-1zM844 769h1v4h-1zM845 769h1v4h-1zM846 770h1v3h-1zM847 770h1v4h-1zM848 770h1v4h-1zM849 771h1v4h-1zM850 771h1v4h-1zM851 772h1v4h-1zM852 772h1v4h-1zM853 773h1v4h-1zM854 773h1v4h-1zM855 774h1v4h-1zM856 774h1v4h-1zM857 775h1v4h-1zM858 775h1v4h-1zM859 776h1v4h-1zM860 776h1v4h-1zM861 777h1v4h-1zM862 777h1v5h-1zM863 778h1v4h-1zM864 779h1v4h-1zM865 779h1v5h-1zM866 780h1v5h-1zM867 781h1v4h-1zM868 782h1v4h-1zM869 782h1v5h-1zM870 783h1v5h-1zM871 784h1v4h-1zM872 785h1v4h-1zM873 785h1v5h-1zM874 786h1v5h-1zM875 787h1v4h-1zM876 788h1v4h-1zM877 788h1v5h-1zM878 789h1v4h-1zM879 790h1v3h-1zM880 790h1v4h-1zM881 790h1v4h-1zM882 791h1v3h-1zM883 791h1v3h-1zM884 791h1v4h-1zM885 791h1v4h-1zM886 792h1v3h-1zM887 792h1v3h-1zM888 792h1v4h-1zM889 792h1v4h-1zM890 793h1v3h-1zM891 793h1v3h-1zM892 793h1v4h-1zM893 793h1v4h-1zM894 794h1v3h-1zM895 794h1v3h-1zM896 794h1v3h-1zM897 794h1v3h-1zM898 794h1v4h-1zM899 794h1v4h-1zM900 795h1v3h-1zM901 795h1v3h-1zM902 795h1v3h-1zM903 795h1v3h-1zM904 795h1v3h-1zM905 795h1v3h-1zM906 795h1v4h-1zM907 795h1v4h-1zM908 796h1v3h-1zM909 796h1v3h-1zM910 796h1v3h-1zM911 796h1v3h-1zM912 796h1v4h-1zM913 796h1v4h-1zM914 797h1v3h-1zM915 797h1v3h-1zM916 797h1v3h-1zM917 797h1v3h-1zM918 797h1v4h-1zM919 797h1v4h-1zM920 798h1v3h-1zM921 798h1v3h-1zM922 798h1v3h-1zM923 798h1v4h-1zM924 798h1v4h-1zM925 799h1v3h-1zM926 799h1v3h-1zM927 799h1v3h-1zM928 799h1v3h-1zM929 799h1v3h-1zM930 799h1v3h-1zM931 799h1v3h-1zM932 799h1v3h-1zM933 799h1v3h-1zM934 799h1v3h-1zM935 799h1v3h-1zM936 799h1v3h-1zM937 799h1v3h-1zM938 799h1v3h-1zM939 799h1v3h-1zM940 799h1v3h-1zM941 799h1v3h-1zM942 798h1v4h-1zM943 797h1v5h-1zM944 796h1v5h-1zM945 795h1v5h-1zM946 794h1v5h-1zM947 793h1v5h-1zM948 792h1v5h-1zM949 792h1v4h-1zM950 791h1v4h-1zM951 790h1v5h-1zM952 789h1v5h-1zM953 788h1v5h-1zM954 787h1v5h-1zM955 786h1v5h-1zM956 785h1v5h-1zM957 784h1v5h-1zM958 783h1v5h-1zM959 783h1v4h-1zM960 782h1v4h-1zM961 782h1v4h-1zM962 781h1v4h-1zM963 780h1v5h-1zM964 780h1v4h-1zM965 779h1v4h-1zM966 778h1v5h-1zM967 778h1v4h-1zM968 777h1v4h-1zM969 777h1v4h-1zM970 776h1v4h-1zM971 775h1v5h-1zM972 775h1v4h-1zM973 774h1v4h-1zM974 774h1v4h-1zM975 773h1v4h-1zM976 773h1v4h-1zM977 772h1v4h-1zM978 772h1v4h-1zM979 771h1v4h-1zM980 771h1v4h-1zM981 770h1v4h-1zM982 770h1v4h-1zM983 769h1v4h-1zM984 769h1v4h-1zM985 768h1v4h-1zM986 768h1v4h-1zM987 767h1v4h-1zM988 767h1v4h-1zM989 766h1v4h-1zM990 766h1v4h-1zM991 765h1v4h-1zM992 765h1v4h-1zM993 764h1v4h-1zM994 764h1v4h-1zM995 763h1v4h-1zM996 763h1v4h-1zM997 762h1v4h-1zM998 762h1v4h-1zM999 761h1v4h-1zM1000 761h1v4h-1zM1001 760h1v4h-1zM1002 760h1v4h-1zM1003 759h1v4h-1zM1004 759h1v4h-1zM1005 758h1v4h-1zM1006 758h1v4h-1zM1007 757h1v4h-1zM1008 757h1v4h-1zM1009 756h1v4h-1zM1010 756h1v4h-1zM1011 755h1v4h-1zM1012 755h1v4h-1zM1013 754h1v4h-1zM1014 754h1v4h-1zM1015 753h1v4h-1zM1016 753h1v4h-1zM1017 752h1v4h-1zM1018 752h1v4h-1zM1019 751h1v4h-1zM1020 751h1v4h-1zM1021 750h1v4h-1zM1022 750h1v4h-1zM1023 749h1v4h-1zM1024 749h1v4h-1zM1025 749h1v3h-1zM1026 748h1v4h-1zM1027 748h1v4h-1zM1028 747h1v4h-1zM1029 747h1v4h-1zM1030 747h1v3h-1zM1031 746h1v4h-1zM1032 746h1v4h-1zM1033 746h1v3h-1zM1034 745h1v4h-1zM1035 745h1v4h-1zM1036 744h1v4h-1zM1037 744h1v4h-1zM1038 743h1v4h-1zM1039 743h1v4h-1zM1040 742h1v4h-1zM1041 741h1v5h-1zM1042 740h1v5h-1zM1043 740h1v4h-1zM1044 739h1v4h-1zM1045 738h1v5h-1zM1046 737h1v5h-1zM1047 737h1v4h-1zM1048 736h1v4h-1zM1049 735h1v5h-1zM1050 734h1v5h-1zM1051 734h1v4h-1zM1052 733h1v4h-1zM1053 732h1v5h-1zM1054 732h1v4h-1zM1055 731h1v4h-1zM1056 731h1v4h-1zM1057 730h1v4h-1zM1058 730h1v4h-1zM1059 729h1v4h-1zM1060 729h1v4h-1zM1061 729h1v3h-1zM1062 728h1v4h-1zM1063 728h1v4h-1zM1064 727h1v4h-1zM1065 727h1v4h-1zM1066 726h1v4h-1zM1067 726h1v4h-1zM1068 725h1v4h-1zM1069 725h1v4h-1zM1070 725h1v3h-1zM1071 724h1v4h-1zM1072 724h1v4h-1zM1073 724h1v3h-1zM1074 723h1v4h-1zM1075 723h1v4h-1zM1076 722h1v4h-1zM1077 722h1v4h-1zM1078 722h1v3h-1zM1079 721h1v4h-1zM1080 721h1v4h-1zM1081 721h1v3h-1zM1082 720h1v4h-1zM1083 720h1v4h-1zM1084 719h1v4h-1zM1085 719h1v4h-1zM1086 719h1v3h-1zM1087 719h1v3h-1zM1088 718h1v4h-1zM1089 718h1v4h-1zM1090 718h1v3h-1zM1091 718h1v3h-1zM1092 717h1v4h-1zM1093 717h1v4h-1zM1094 717h1v3h-1zM1095 717h1v3h-1zM1096 716h1v4h-1zM1097 716h1v4h-1zM1098 716h1v3h-1zM1099 716h1v3h-1zM1100 715h1v4h-1zM1101 715h1v4h-1zM1102 714h1v4h-1zM1103 713h1v5h-1zM1104 713h1v4h-1zM1105 712h1v4h-1zM1106 711h1v5h-1zM1107 710h1v5h-1zM1108 709h1v5h-1zM1109 709h1v4h-1zM1110 708h1v4h-1zM1111 707h1v5h-1zM1112 706h1v5h-1zM1113 705h1v5h-1zM1114 704h1v5h-1zM1115 704h1v4h-1zM1116 703h1v4h-1zM1117 702h1v5h-1zM1118 701h1v5h-1zM1119 701h1v4h-1zM1120 700h1v4h-1zM1121 699h1v5h-1zM1122 699h1v4h-1zM1123 698h1v4h-1zM1124 697h1v5h-1zM1125 697h1v4h-1zM1126 696h1v4h-1zM1127 695h1v5h-1zM1128 694h1v5h-1zM1129 694h1v4h-1zM1130 693h1v4h-1zM1131 692h1v5h-1zM1132 692h1v4h-1zM1133 691h1v4h-1zM1134 690h1v5h-1zM1135 690h1v4h-1zM1136 689h1v4h-1zM1137 689h1v4h-1zM1138 688h1v4h-1zM1139 687h1v5h-1zM1140 687h1v4h-1zM1141 686h1v4h-1zM1142 685h1v5h-1zM1143 685h1v4h-1zM1144 684h1v4h-1zM1145 684h1v4h-1zM1146 683h1v4h-1zM1147 682h1v5h-1zM1148 682h1v4h-1zM1149 681h1v4h-1zM1150 680h1v5h-1zM1151 679h1v5h-1zM1152 678h1v5h-1zM1153 678h1v4h-1zM1154 677h1v4h-1zM1155 676h1v5h-1zM1156 675h1v5h-1zM1157 674h1v5h-1zM1158 673h1v5h-1zM1159 672h1v5h-1zM1160 671h1v5h-1zM1161 671h1v4h-1zM1162 670h1v4h-1zM1163 669h1v5h-1zM1164 668h1v5h-1zM1165 667h1v5h-1zM1166 666h1v5h-1zM1167 666h1v4h-1zM1168 665h1v4h-1zM1169 664h1v5h-1zM1170 663h1v5h-1zM1171 663h1v4h-1zM1172 662h1v4h-1zM1173 661h1v5h-1zM1174 660h1v5h-1zM1175 660h1v4h-1zM1176 659h1v4h-1zM1177 658h1v5h-1zM1178 657h1v5h-1zM1179 657h1v4h-1zM1180 656h1v4h-1zM1181 655h1v5h-1zM1182 655h1v4h-1zM1183 654h1v4h-1zM1184 654h1v4h-1zM1185 653h1v4h-1zM1186 653h1v4h-1zM1187 652h1v4h-1zM1188 652h1v4h-1zM1189 651h1v4h-1zM1190 651h1v4h-1zM1191 650h1v4h-1zM1192 650h1v4h-1zM1193 649h1v4h-1zM1194 649h1v4h-1zM1195 648h1v4h-1zM1196 648h1v4h-1zM1197 647h1v4h-1zM1198 646h1v5h-1zM1199 646h1v4h-1zM1200 645h1v4h-1zM1201 644h1v5h-1zM1202 643h1v5h-1zM1203 643h1v4h-1zM1204 642h1v4h-1zM1205 641h1v5h-1zM1206 640h1v5h-1zM1207 640h1v4h-1zM1208 639h1v4h-1zM1209 638h1v5h-1zM1210 637h1v5h-1zM1211 637h1v4h-1zM1212 636h1v4h-1zM1213 635h1v5h-1zM1214 635h1v4h-1zM1215 635h1v3h-1zM1216 635h1v3h-1zM1217 635h1v3h-1zM1218 634h1v4h-1zM1219 634h1v4h-1zM1220 634h1v3h-1zM1221 634h1v3h-1zM1222 634h1v3h-1zM1223 634h1v3h-1zM1224 634h1v3h-1zM1225 634h1v3h-1zM1226 633h1v4h-1zM1227 633h1v4h-1zM1228 633h1v3h-1zM1229 633h1v3h-1zM1230 633h1v3h-1zM1231 633h1v3h-1zM1232 632h1v4h-1zM1233 632h1v4h-1zM1234 632h1v3h-1zM1235 632h1v3h-1zM1236 632h1v3h-1zM1237 632h1v3h-1zM1238 631h1v4h-1zM1239 631h1v4h-1zM1240 631h1v3h-1zM1241 631h1v3h-1zM1242 631h1v3h-1zM1243 630h1v4h-1zM1244 630h1v4h-1zM1245 630h1v3h-1zM1246 630h1v3h-1zM1247 630h1v3h-1zM1248 630h1v4h-1zM1249 630h1v4h-1zM1250 631h1v3h-1zM1251 631h1v3h-1zM1252 631h1v3h-1zM1253 631h1v3h-1zM1254 631h1v4h-1zM1255 631h1v4h-1zM1256 632h1v3h-1zM1257 632h1v3h-1zM1258 632h1v3h-1zM1259 632h1v4h-1zM1260 632h1v4h-1zM1261 633h1v3h-1zM1262 633h1v3h-1zM1263 632h1v4h-1zM1264 632h1v4h-1zM1265 632h1v3h-1zM1266 631h1v4h-1zM1267 631h1v4h-1zM1268 631h1v3h-1zM1269 631h1v3h-1zM1270 630h1v4h-1zM1271 630h1v4h-1zM1272 630h1v3h-1zM1273 629h1v4h-1zM1274 629h1v4h-1zM1275 629h1v3h-1zM1276 628h1v4h-1zM1277 628h1v4h-1zM1278 628h1v3h-1zM1279 628h1v3h-1zM1280 628h1v3h-1zM1281 628h1v3h-1zM1282 627h1v4h-1zM1283 627h1v4h-1zM1284 627h1v3h-1zM1285 627h1v3h-1zM1286 627h1v3h-1zM1287 627h1v3h-1zM1288 627h1v3h-1zM1289 627h1v3h-1zM1290 626h1v4h-1zM1291 626h1v4h-1zM1292 626h1v3h-1zM1293 626h1v3h-1zM1294 626h1v3h-1zM1295 626h1v3h-1zM1296 626h1v3h-1zM1297 626h1v3h-1zM1298 626h1v3h-1zM1299 626h1v3h-1zM1300 626h1v3h-1zM1301 626h1v3h-1zM1302 626h1v4h-1zM1303 626h1v4h-1zM1304 627h1v3h-1zM1305 627h1v3h-1zM1306 627h1v3h-1zM1307 627h1v3h-1zM1308 627h1v3h-1zM1309 627h1v3h-1zM1310 627h1v3h-1zM1311 627h1v3h-1zM1312 627h1v3h-1zM1313 627h1v3h-1zM1314 627h1v3h-1zM1315 627h1v3h-1zM1316 627h1v3h-1zM1317 627h1v3h-1zM1318 626h1v4h-1zM1319 626h1v4h-1zM1320 626h1v3h-1zM1321 626h1v3h-1zM1322 626h1v3h-1zM1323 626h1v3h-1zM1324 626h1v3h-1zM1325 626h1v3h-1zM1326 626h1v3h-1zM1327 626h1v3h-1zM1328 626h1v3h-1zM1329 626h1v3h-1zM1330 626h1v3h-1zM1331 626h1v3h-1zM1332 626h1v3h-1zM1333 626h1v3h-1zM1334 625h1v4h-1zM1335 625h1v4h-1zM1336 625h1v3h-1zM1337 625h1v3h-1zM1338 625h1v3h-1zM1339 625h1v3h-1zM1340 625h1v3h-1zM1341 625h1v3h-1zM1342 625h1v3h-1zM1343 625h1v3h-1zM1344 625h1v3h-1zM1345 625h1v3h-1zM1346 625h1v3h-1zM1347 625h1v3h-1zM1348 625h1v3h-1zM1349 625h1v3h-1zM1350 625h1v3h-1zM1351 625h1v3h-1zM1352 625h1v3h-1zM1353 625h1v3h-1zM1354 625h1v3h-1zM1355 625h1v3h-1zM1356 625h1v3h-1zM1357 625h1v3h-1zM1358 625h1v3h-1zM1359 625h1v3h-1zM1360 624h1v4h-1zM1361 624h1v4h-1zM1362 624h1v3h-1zM1363 624h1v3h-1zM1364 623h1v4h-1zM1365 623h1v4h-1zM1366 623h1v3h-1zM1367 623h1v3h-1zM1368 622h1v4h-1zM1369 622h1v4h-1zM1370 622h1v3h-1zM1371 622h1v3h-1zM1372 621h1v4h-1zM1373 621h1v4h-1zM1374 621h1v3h-1zM1375 621h1v3h-1zM1376 621h1v3h-1zM1377 621h1v3h-1zM1378 620h1v4h-1zM1379 620h1v4h-1zM1380 620h1v3h-1zM1381 620h1v3h-1zM1382 620h1v3h-1zM1383 620h1v3h-1zM1384 620h1v3h-1zM1385 620h1v3h-1zM1386 619h1v4h-1zM1387 619h1v4h-1zM1388 619h1v3h-1zM1389 619h1v3h-1zM1390 619h1v3h-1zM1391 619h1v3h-1zM1392 619h1v3h-1zM1393 619h1v3h-1zM1394 619h1v3h-1zM1395 619h1v3h-1zM1396 619h1v3h-1zM1397 619h1v3h-1zM1398 619h1v4h-1zM1399 619h1v4h-1zM1400 620h1v3h-1zM1401 620h1v3h-1zM1402 620h1v3h-1zM1403 620h1v3h-1zM1404 620h1v3h-1zM1405 620h1v3h-1zM1406 620h1v3h-1zM1407 620h1v3h-1zM1408 620h1v4h-1zM1409 620h1v4h-1zM1410 621h1v3h-1zM1411 621h1v3h-1zM1412 621h1v3h-1zM1413 621h1v3h-1zM1414 621h1v4h-1zM1415 621h1v4h-1zM1416 622h1v3h-1zM1417 622h1v3h-1zM1418 622h1v3h-1zM1419 622h1v4h-1zM1420 622h1v4h-1zM1421 623h1v3h-1zM1422 623h1v3h-1zM1423 623h1v3h-1zM1424 623h1v3h-1zM1425 623h1v3h-1zM1426 622h1v4h-1zM1427 622h1v4h-1zM1428 622h1v3h-1zM1429 622h1v3h-1zM1430 622h1v3h-1zM1431 622h1v3h-1zM1432 622h1v3h-1zM1433 622h1v3h-1zM1434 621h1v4h-1zM1435 621h1v4h-1zM1436 621h1v3h-1zM1437 621h1v3h-1zM1438 621h1v3h-1zM1439 621h1v3h-1zM1440 621h1v4h-1zM1441 621h1v4h-1zM1442 622h1v3h-1zM1443 622h1v3h-1zM1444 622h1v3h-1zM1445 622h1v3h-1zM1446 622h1v4h-1zM1447 622h1v4h-1zM1448 623h1v3h-1zM1449 623h1v3h-1zM1450 623h1v3h-1zM1451 623h1v4h-1zM1452 623h1v4h-1zM1453 624h1v3h-1zM1454 624h1v3h-1zM1455 624h1v3h-1zM1456 624h1v4h-1zM1457 624h1v4h-1zM1458 625h1v3h-1zM1459 625h1v3h-1zM1460 625h1v4h-1zM1461 625h1v4h-1zM1462 626h1v3h-1zM1463 626h1v3h-1zM1464 626h1v4h-1zM1465 626h1v4h-1zM1466 627h1v3h-1zM1467 627h1v3h-1zM1468 627h1v4h-1zM1469 627h1v4h-1zM1470 628h1v3h-1zM1471 628h1v3h-1zM1472 628h1v3h-1zM1473 628h1v3h-1zM1474 628h1v3h-1zM1475 628h1v3h-1zM1476 628h1v3h-1zM1477 628h1v3h-1zM1478 627h1v4h-1zM1479 627h1v4h-1zM1480 627h1v3h-1zM1481 627h1v3h-1zM1482 627h1v3h-1zM1483 627h1v3h-1zM1484 627h1v3h-1zM1485 627h1v3h-1zM1486 627h1v3h-1zM1487 627h1v3h-1zM1488 627h1v3h-1zM1489 627h1v3h-1zM1490 627h1v3h-1zM1491 627h1v3h-1zM1492 627h1v3h-1zM1493 627h1v3h-1zM1494 626h1v4h-1zM1495 626h1v4h-1zM1496 626h1v3h-1zM1497 626h1v3h-1zM1498 626h1v3h-1zM1499 626h1v3h-1zM1500 626h1v3h-1zM1501 626h1v3h-1zM1502 626h1v3h-1zM1503 626h1v3h-1zM1504 626h1v3h-1zM1505 626h1v3h-1zM1506 626h1v3h-1zM1507 626h1v3h-1zM1508 626h1v3h-1zM1509 626h1v3h-1zM1510 625h1v4h-1zM1511 625h1v4h-1zM1512 625h1v3h-1zM1513 625h1v3h-1zM1514 625h1v3h-1zM1515 625h1v3h-1zM1516 625h1v3h-1zM1517 625h1v3h-1zM1518 625h1v3h-1zM1519 625h1v3h-1zM1520 625h1v3h-1zM1521 625h1v3h-1zM1522 625h1v3h-1zM1523 625h1v3h-1zM1524 625h1v3h-1zM1525 625h1v3h-1zM1526 625h1v4h-1zM1527 625h1v4h-1zM1528 626h1v3h-1zM1529 626h1v3h-1zM1530 626h1v3h-1zM1531 626h1v3h-1zM1532 626h1v3h-1zM1533 626h1v3h-1zM1534 626h1v3h-1zM1535 625h1v4h-1zM1536 625h1v4h-1zM1537 625h1v3h-1zM1538 624h1v4h-1zM1539 624h1v4h-1zM1540 624h1v3h-1zM1541 624h1v3h-1zM1542 623h1v4h-1zM1543 623h1v4h-1zM1544 623h1v3h-1zM1545 622h1v4h-1zM1546 622h1v4h-1zM1547 622h1v3h-1zM1548 621h1v4h-1zM1549 621h1v4h-1zM1550 621h1v3h-1zM1551 621h1v3h-1zM1552 621h1v3h-1zM1553 621h1v3h-1zM1554 621h1v3h-1zM1555 621h1v3h-1zM1556 621h1v3h-1zM1557 621h1v3h-1zM1558 621h1v3h-1zM1559 621h1v3h-1zM1560 621h1v3h-1zM1561 621h1v3h-1zM1562 621h1v3h-1zM1563 621h1v3h-1zM1564 621h1v3h-1zM1565 621h1v3h-1zM1566 621h1v3h-1zM1567 621h1v3h-1zM1568 621h1v4h-1zM1569 621h1v4h-1zM1570 622h1v3h-1zM1571 622h1v3h-1zM1572 622h1v4h-1zM1573 622h1v4h-1zM1574 623h1v3h-1zM1575 623h1v3h-1zM1576 623h1v4h-1zM1577 623h1v4h-1zM1578 624h1v3h-1zM1579 624h1v3h-1zM1580 624h1v4h-1zM1581 624h1v4h-1zM1582 625h1v3h-1zM1583 625h1v3h-1zM1584 625h1v3h-1zM1585 625h1v3h-1zM1586 625h1v4h-1zM1587 625h1v4h-1zM1588 626h1v3h-1zM1589 626h1v3h-1zM1590 626h1v3h-1zM1591 626h1v3h-1zM1592 626h1v3h-1zM1593 626h1v3h-1zM1594 626h1v4h-1zM1595 626h1v4h-1zM1596 627h1v3h-1zM1597 627h1v3h-1zM1598 627h1v3h-1zM1599 627h1v4h-1zM1600 627h1v4h-1zM1601 628h1v3h-1zM1602 628h1v4h-1zM1603 628h1v4h-1zM1604 629h1v3h-1zM1605 629h1v3h-1zM1606 629h1v4h-1zM1607 629h1v4h-1zM1608 630h1v3h-1zM1609 630h1v4h-1zM1610 630h1v4h-1zM1611 631h1v3h-1zM1612 631h1v4h-1zM1613 631h1v4h-1zM1614 632h1v3h-1zM1615 632h1v4h-1zM1616 632h1v4h-1zM1617 633h1v4h-1zM1618 633h1v4h-1zM1619 634h1v4h-1zM1620 634h1v4h-1zM1621 635h1v3h-1zM1622 635h1v4h-1zM1623 635h1v4h-1zM1624 636h1v4h-1zM1625 636h1v4h-1zM1626 637h1v4h-1zM1627 637h1v4h-1zM1628 638h1v4h-1zM1629 638h1v4h-1zM1630 639h1v3h-1zM1631 639h1v3h-1zM1632 639h1v4h-1zM1633 639h1v4h-1zM1634 640h1v3h-1zM1635 640h1v3h-1zM1636 640h1v3h-1zM1637 640h1v3h-1zM1638 640h1v4h-1zM1639 640h1v4h-1zM1640 641h1v3h-1zM1641 641h1v3h-1zM1642 641h1v3h-1zM1643 641h1v4h-1zM1644 641h1v4h-1zM1645 642h1v3h-1zM1646 642h1v3h-1zM1647 642h1v3h-1zM1648 642h1v4h-1zM1649 642h1v4h-1zM1650 643h1v3h-1zM1651 643h1v3h-1zM1652 643h1v3h-1zM1653 643h1v3h-1zM1654 643h1v4h-1zM1655 643h1v4h-1zM1656 644h1v3h-1zM1657 644h1v3h-1zM1658 644h1v3h-1zM1659 644h1v4h-1zM1660 644h1v4h-1zM1661 645h1v3h-1zM1662 645h1v3h-1zM1663 645h1v3h-1zM1664 645h1v4h-1zM1665 645h1v4h-1zM1666 646h1v3h-1zM1667 646h1v3h-1zM1668 646h1v3h-1zM1669 646h1v3h-1zM1670 646h1v4h-1zM1671 646h1v4h-1zM1672 647h1v3h-1zM1673 647h1v3h-1zM1674 647h1v3h-1zM1675 647h1v4h-1zM1676 647h1v4h-1zM1677 648h1v3h-1zM1678 648h1v3h-1zM1679 648h1v4h-1zM1680 648h1v4h-1zM1681 649h1v4h-1zM1682 649h1v4h-1zM1683 650h1v4h-1zM1684 650h1v4h-1zM1685 651h1v3h-1zM1686 651h1v4h-1zM1687 651h1v4h-1zM1688 652h1v4h-1zM1689 652h1v4h-1zM1690 653h1v4h-1zM1691 653h1v4h-1zM1692 654h1v4h-1zM1693 654h1v4h-1zM1694 655h1v3h-1zM1695 655h1v3h-1zM1696 655h1v4h-1zM1697 655h1v4h-1zM1698 656h1v3h-1zM1699 656h1v3h-1zM1700 656h1v4h-1zM1701 656h1v4h-1zM1702 657h1v3h-1zM1703 657h1v3h-1zM1704 657h1v4h-1zM1705 657h1v4h-1zM1706 658h1v3h-1zM1707 658h1v3h-1zM1708 658h1v4h-1zM1709 658h1v4h-1zM1710 659h1v3h-1zM1711 659h1v3h-1zM1712 659h1v3h-1zM1713 659h1v3h-1zM1714 659h1v4h-1zM1715 659h1v4h-1zM1716 660h1v3h-1zM1717 660h1v3h-1zM1718 660h1v3h-1zM1719 660h1v3h-1zM1720 660h1v3h-1zM1721 660h1v3h-1zM1722 660h1v4h-1zM1723 660h1v4h-1zM1724 661h1v3h-1zM1725 661h1v3h-1zM1726 661h1v3h-1zM1727 660h1v4h-1zM1728 660h1v4h-1zM1729 660h1v3h-1zM1730 659h1v4h-1zM1731 659h1v4h-1zM1732 659h1v3h-1zM1733 659h1v3h-1zM1734 658h1v4h-1zM1735 658h1v4h-1zM1736 658h1v3h-1zM1737 657h1v4h-1zM1738 657h1v4h-1zM1739 657h1v3h-1zM1740 656h1v4h-1zM1741 656h1v4h-1zM1742 655h1v4h-1zM1743 655h1v4h-1zM1744 654h1v4h-1zM1745 653h1v5h-1zM1746 653h1v4h-1zM1747 652h1v4h-1zM1748 651h1v5h-1zM1749 651h1v4h-1zM1750 650h1v4h-1zM1751 649h1v5h-1zM1752 648h1v5h-1zM1753 648h1v4h-1zM1754 647h1v4h-1zM1755 646h1v5h-1zM1756 646h1v4h-1zM1757 645h1v4h-1zM1758 645h1v4h-1zM1759 644h1v4h-1zM1760 644h1v4h-1zM1761 644h1v3h-1zM1762 643h1v4h-1zM1763 643h1v4h-1zM1764 642h1v4h-1zM1765 642h1v4h-1zM1766 642h1v3h-1zM1767 641h1v4h-1zM1768 641h1v4h-1zM1769 641h1v3h-1zM1770 640h1v4h-1zM1771 640h1v4h-1zM1772 639h1v4h-1zM1773 639h1v4h-1zM1774 639h1v3h-1zM1775 639h1v3h-1zM1776 638h1v4h-1zM1777 638h1v4h-1zM1778 638h1v3h-1zM1779 638h1v3h-1zM1780 637h1v4h-1zM1781 637h1v4h-1zM1782 637h1v3h-1zM1783 637h1v3h-1zM1784 636h1v4h-1zM1785 636h1v4h-1zM1786 636h1v3h-1zM1787 636h1v3h-1zM1788 635h1v4h-1zM1789 635h1v4h-1zM1790 635h1v3h-1zM1791 634h1v4h-1zM1792 634h1v4h-1zM1793 634h1v3h-1zM1794 633h1v4h-1zM1795 633h1v4h-1zM1796 633h1v3h-1zM1797 633h1v3h-1zM1798 632h1v4h-1zM1799 632h1v4h-1zM1800 632h1v3h-1zM1801 631h1v4h-1zM1802 631h1v4h-1zM1803 631h1v3h-1zM1804 630h1v4h-1zM1805 630h1v4h-1zM1806 630h1v3h-1zM1807 630h1v3h-1zM1808 629h1v4h-1zM1809 629h1v4h-1zM1810 629h1v3h-1zM1811 629h1v3h-1zM1812 628h1v4h-1zM1813 628h1v4h-1zM1814 628h1v3h-1zM1815 628h1v3h-1zM1816 627h1v4h-1zM1817 627h1v4h-1zM1818 627h1v3h-1zM1819 627h1v3h-1zM1820 626h1v4h-1zM1821 626h1v4h-1zM1822 626h1v3h-1zM1823 625h1v4h-1zM1824 625h1v4h-1zM1825 625h1v3h-1zM1826 624h1v4h-1zM1827 624h1v4h-1zM1828 623h1v4h-1zM1829 623h1v4h-1zM1830 623h1v3h-1zM1831 622h1v4h-1zM1832 622h1v4h-1zM1833 622h1v3h-1zM1834 621h1v4h-1zM1835 621h1v4h-1zM1836 620h1v4h-1zM1837 620h1v4h-1zM1838 620h1v3h-1zM1839 620h1v3h-1z" fill="#20B2AA"/><path d="M-3 635h1v3h-1zM-2 635h1v3h-1zM-1 635h1v4h-1zM0 635h1v4h-1zM1 636h1v3h-1zM2 636h1v4h-1zM3 636h1v4h-1zM4 637h1v4h-1zM5 637h1v4h-1zM6 638h1v3h-1zM7 638h1v4h-1zM8 638h1v4h-1zM9 639h1v3h-1zM10 639h1v4h-1zM11 639h1v4h-1zM12 640h1v4h-1zM13 640h1v4h-1zM14 641h1v3h-1zM15 641h1v4h-1zM16 641h1v4h-1zM17 642h1v4h-1zM18 642h1v4h-1zM19 643h1v4h-1zM20 643h1v4h-1zM21 644h1v4h-1zM22 644h1v4h-1zM23 645h1v4h-1zM24 645h1v4h-1zM25 646h1v4h-1zM26 646h1v4h-1zM27 647h1v4h-1zM28 647h1v4h-1zM29 648h1v4h-1zM30 648h1v4h-1zM31 649h1v4h-1zM32 649h1v4h-1zM33 650h1v3h-1zM34 650h1v4h-1zM35 650h1v4h-1zM36 651h1v3h-1zM37 651h1v3h-1zM38 651h1v4h-1zM39 651h1v4h-1zM40 652h1v3h-1zM41 652h1v4h-1zM42 652h1v4h-1zM43 653h1v3h-1zM44 653h1v4h-1zM45 653h1v4h-1zM46 654h1v3h-1zM47 654h1v3h-1zM48 654h1v4h-1zM49 654h1v4h-1zM50 655h1v3h-1zM51 655h1v3h-1zM52 655h1v3h-1zM53 655h1v3h-1zM54 655h1v4h-1zM55 655h1v4h-1zM56 656h1v3h-1zM57 656h1v3h-1zM58 656h1v3h-1zM59 656h1v4h-1zM60 656h1v4h-1zM61 657h1v3h-1zM62 657h1v3h-1zM63 657h1v3h-1zM64 657h1v3h-1zM65 657h1v3h-1zM66 657h1v3h-1zM67 657h1v3h-1zM68 657h1v3h-1zM69 657h1v3h-1zM70 657h1v4h-1zM71 657h1v4h-1zM72 658h1v3h-1zM73 658h1v3h-1zM74 658h1v3h-1zM75 658h1v3h-1zM76 658h1v3h-1zM77 658h1v3h-1zM78 658h1v3h-1zM79 658h1v3h-1zM80 658h1v3h-1zM81 658h1v3h-1zM82 658h1v3h-1zM83 658h1v3h-1zM84 658h1v3h-1zM85 658h1v3h-1zM86 658h1v3h-1zM87 658h1v3h-1zM88 658h1v3h-1zM89 658h1v3h-1zM90 658h1v3h-1zM91 658h1v3h-1zM92 658h1v3h-1zM93 658h1v3h-1zM94 658h1v3h-1zM95 658h1v3h-1zM96 658h1v3h-1zM97 658h1v3h-1zM98 658h1v3h-1zM99 658h1v3h-1zM100 658h1v3h-1zM101 658h1v3h-1zM102 657h1v4h-1zM103 657h1v4h-1zM104 657h1v3h-1zM105 657h1v3h-1zM106 657h1v3h-1zM107 657h1v3h-1zM108 657h1v3h-1zM109 657h1v3h-1zM110 657h1v3h-1zM111 656h1v4h-1zM112 656h1v4h-1zM113 656h1v3h-1zM114 655h1v4h-1zM115 655h1v4h-1zM116 655h1v3h-1zM117 655h1v3h-1zM118 654h1v4h-1zM119 654h1v4h-1zM120 654h1v3h-1zM121 653h1v4h-1zM122 653h1v4h-1zM123 653h1v3h-1zM124 652h1v4h-1zM125 652h1v4h-1zM126 652h1v3h-1zM127 651h1v4h-1zM128 651h1v4h-1zM129 651h1v3h-1zM130 650h1v4h-1zM131 650h1v4h-1zM132 650h1v3h-1zM133 650h1v3h-1zM134 649h1v4h-1zM135 649h1v4h-1zM136 649h1v3h-1zM137 648h1v4h-1zM138 648h1v4h-1zM139 648h1v3h-1zM140 647h1v4h-1zM141 647h1v4h-1zM142 646h1v4h-1zM143 646h1v4h-1zM144 645h1v4h-1zM145 645h1v4h-1zM146 644h1v4h-1zM147 644h1v4h-1zM148 643h1v4h-1zM149 643h1v4h-1zM150 642h1v4h-1zM151 641h1v5h-1zM152 641h1v4h-1zM153 640h1v4h-1zM154 640h1v4h-1zM155 639h1v4h-1zM156 639h1v4h-1zM157 638h1v4h-1zM158 638h1v4h-1zM159 637h1v4h-1zM160 637h1v4h-1zM161 636h1v4h-1zM162 636h1v4h-1zM163 635h1v4h-1zM164 635h1v4h-1zM165 634h1v4h-1zM166 634h1v4h-1zM167 633h1v4h-1zM168 633h1v4h-1zM169 632h1v4h-1zM170 632h1v4h-1zM171 631h1v4h-1zM172 631h1v4h-1zM173 630h1v4h-1zM174 630h1v4h-1zM175 629h1v4h-1zM176 629h1v4h-1zM177 629h1v3h-1zM178 628h1v4h-1zM179 628h1v4h-1zM180 628h1v3h-1zM181 628h1v3h-1zM182 627h1v4h-1zM183 627h1v4h-1zM184 627h1v3h-1zM185 626h1v4h-1zM186 626h1v4h-1zM187 626h1v3h-1zM188 625h1v4h-1zM189 625h1v4h-1zM190 625h1v3h-1zM191 625h1v3h-1zM192 624h1v4h-1zM193 624h1v4h-1zM194 624h1v3h-1zM195 624h1v3h-1zM196 624h1v3h-1zM197 624h1v3h-1zM198 623h1v4h-1zM199 623h1v4h-1zM200 623h1v3h-1zM201 623h1v3h-1zM202 623h1v3h-1zM203 622h1v4h-1zM204 622h1v4h-1zM205 622h1v3h-1zM206 622h1v3h-1zM207 622h1v3h-1zM208 622h1v3h-1zM209 622h1v3h-1zM210 621h1v4h-1zM211 621h1v4h-1zM212 621h1v3h-1zM213 621h1v3h-1zM214 621h1v3h-1zM215 621h1v3h-1zM216 621h1v3h-1zM217 621h1v3h-1zM218 620h1v4h-1zM219 620h1v4h-1zM220 620h1v3h-1zM221 620h1v3h-1zM222 620h1v3h-1zM223 620h1v3h-1zM224 620h1v3h-1zM225 620h1v3h-1zM226 619h1v4h-1zM227 619h1v4h-1zM228 619h1v3h-1zM229 619h1v3h-1zM230 619h1v3h-1zM231 619h1v3h-1zM232 619h1v3h-1zM233 619h1v3h-1zM234 618h1v4h-1zM235 618h1v4h-1zM236 618h1v3h-1zM237 618h1v3h-1zM238 618h1v3h-1zM239 618h1v3h-1zM240 618h1v3h-1zM241 618h1v3h-1zM242 617h1v4h-1zM243 617h1v4h-1zM244 617h1v3h-1zM245 617h1v3h-1zM246 617h1v3h-1zM247 617h1v3h-1zM248 617h1v3h-1zM249 617h1v3h-1zM250 616h1v4h-1zM251 616h1v4h-1zM252 616h1v3h-1zM253 616h1v3h-1zM254 616h1v3h-1zM255 616h1v3h-1zM256 616h1v3h-1zM257 616h1v3h-1zM258 616h1v4h-1zM259 616h1v4h-1zM260 617h1v3h-1zM261 617h1v3h-1zM262 617h1v3h-1zM263 617h1v3h-1zM264 617h1v3h-1zM265 617h1v3h-1zM266 617h1v4h-1zM267 617h1v4h-1zM268 618h1v3h-1zM269 618h1v3h-1zM270 618h1v3h-1zM271 618h1v3h-1zM272 618h1v3h-1zM273 618h1v3h-1zM274 618h1v4h-1zM275 618h1v4h-1zM276 619h1v3h-1zM277 619h1v3h-1zM278 619h1v3h-1zM279 619h1v3h-1zM280 619h1v3h-1zM281 619h1v3h-1zM282 619h1v4h-1zM283 619h1v4h-1zM284 620h1v3h-1zM285 620h1v3h-1zM286 620h1v3h-1zM287 620h1v4h-1zM288 620h1v4h-1zM289 621h1v3h-1zM290 621h1v4h-1zM291 621h1v4h-1zM292 622h1v3h-1zM293 622h1v3h-1zM294 622h1v4h-1zM295 622h1v4h-1zM296 623h1v3h-1zM297 623h1v4h-1zM298 623h1v4h-1zM299 624h1v3h-1zM300 624h1v4h-1zM301 624h1v4h-1zM302 625h1v3h-1zM303 625h1v3h-1zM304 625h1v4h-1zM305 625h1v4h-1zM306 626h1v3h-1zM307 626h1v3h-1zM308 626h1v4h-1zM309 626h1v4h-1zM310 627h1v3h-1zM311 627h1v3h-1zM312 627h1v4h-1zM313 627h1v4h-1zM314 628h1v3h-1zM315 628h1v3h-1zM316 628h1v4h-1zM317 628h1v4h-1zM318 629h1v3h-1zM319 629h1v4h-1zM320 629h1v4h-1zM321 630h1v4h-1zM322 630h1v4h-1zM323 631h1v4h-1zM324 631h1v4h-1zM325 632h1v4h-1zM326 632h1v4h-1zM327 633h1v4h-1zM328 633h1v4h-1zM329 634h1v4h-1zM330 634h1v4h-1zM331 635h1v4h-1zM332 635h1v4h-1zM333 636h1v4h-1zM334 636h1v5h-1zM335 637h1v4h-1zM336 638h1v4h-1zM337 638h1v4h-1zM338 639h1v4h-1zM339 639h1v4h-1zM340 640h1v4h-1zM341 640h1v4h-1zM342 641h1v4h-1zM343 641h1v5h-1zM344 642h1v4h-1zM345 643h1v4h-1zM346 643h1v4h-1zM347 644h1v4h-1zM348 644h1v4h-1zM349 645h1v4h-1zM350 645h1v5h-1zM351 646h1v4h-1zM352 647h1v4h-1zM353 647h1v5h-1zM354 648h1v5h-1zM355 649h1v4h-1zM356 650h1v4h-1zM357 650h1v5h-1zM358 651h1v5h-1zM359 652h1v4h-1zM360 653h1v4h-1zM361 653h1v5h-1zM362 654h1v5h-1zM363 655h1v4h-1zM364 656h1v4h-1zM365 656h1v5h-1zM366 657h1v5h-1zM367 658h1v5h-1zM368 659h1v5h-1zM369 660h1v5h-1zM370 661h1v5h-1zM371 662h1v5h-1zM372 663h1v5h-1zM373 664h1v4h-1zM374 665h1v4h-1zM375 665h1v5h-1zM376 666h1v5h-1zM377 667h1v5h-1zM378 668h1v5h-1zM379 669h1v5h-1zM380 670h1v5h-1zM381 671h1v5h-1zM382 672h1v6h-1zM383 673h1v6h-1zM384 674h1v6h-1zM385 676h1v6h-1zM386 677h1v6h-1zM387 678h1v6h-1zM388 680h1v6h-1zM389 681h1v6h-1zM390 682h1v7h-1zM391 684h1v6h-1zM392 685h1v6h-1zM393 687h1v6h-1zM394 688h1v6h-1zM395 689h1v6h-1zM396 691h1v6h-1zM397 692h1v6h-1zM398 693h1v7h-1zM399 695h1v6h-1zM400 696h1v7h-1zM401 698h1v7h-1zM402 699h1v7h-1zM403 701h1v7h-1zM404 703h1v6h-1zM405 704h1v7h-1zM406 706h1v6h-1zM407 707h1v7h-1zM408 709h1v6h-1zM409 710h1v7h-1zM410 712h1v7h-1zM411 713h1v7h-1zM412 715h1v7h-1zM413 717h1v6h-1zM414 718h1v7h-1zM415 720h1v7h-1zM416 721h1v8h-1zM417 723h1v7h-1zM418 725h1v7h-1zM419 727h1v7h-1zM420 728h1v8h-1zM421 730h1v7h-1zM422 732h1v7h-1zM423 734h1v7h-1zM424 735h1v8h-1zM425 737h1v7h-1zM426 739h1v7h-1zM427 741h1v7h-1zM428 742h1v8h-1zM429 744h1v7h-1zM430 746h1v7h-1zM431 748h1v7h-1zM432 749h1v7h-1zM433 751h1v7h-1zM434 753h1v7h-1zM435 754h1v7h-1zM436 756h1v7h-1zM437 758h1v7h-1zM438 759h1v8h-1zM439 761h1v7h-1zM440 763h1v7h-1zM441 765h1v7h-1zM442 766h1v7h-1zM443 768h1v7h-1zM444 770h1v7h-1zM445 771h1v7h-1zM446 773h1v7h-1zM447 775h1v6h-1zM448 776h1v7h-1zM449 778h1v6h-1zM450 779h1v7h-1zM451 781h1v6h-1zM452 782h1v7h-1zM453 784h1v6h-1zM454 785h1v7h-1zM455 787h1v6h-1zM456 788h1v7h-1zM457 790h1v6h-1zM458 791h1v7h-1zM459 793h1v6h-1zM460 794h1v7h-1zM461 796h1v6h-1zM462 797h1v6h-1zM463 799h1v5h-1zM464 800h1v5h-1zM465 801h1v5h-1zM466 802h1v5h-1zM467 803h1v5h-1zM468 804h1v5h-1zM469 805h1v5h-1zM470 806h1v5h-1zM471 807h1v5h-1zM472 808h1v5h-1zM473 809h1v5h-1zM474 810h1v5h-1zM475 811h1v5h-1zM476 812h1v5h-1zM477 813h1v5h-1zM478 814h1v5h-1zM479 815h1v4h-1zM480 816h1v4h-1zM481 816h1v4h-1zM482 817h1v4h-1zM483 817h1v4h-1zM484 818h1v4h-1zM485 818h1v4h-1zM486 819h1v4h-1zM487 819h1v5h-1zM488 820h1v4h-1zM489 821h1v4h-1zM490 821h1v4h-1zM491 822h1v4h-1zM492 822h1v4h-1zM493 823h1v4h-1zM494 823h1v4h-1zM495 824h1v3h-1zM496 824h1v3h-1zM497 824h1v3h-1zM498 824h1v4h-1zM499 824h1v4h-1zM500 825h1v3h-1zM501 825h1v3h-1zM502 825h1v3h-1zM503 825h1v3h-1zM504 825h1v3h-1zM505 825h1v3h-1zM506 825h1v4h-1zM507 825h1v4h-1zM508 826h1v3h-1zM509 826h1v3h-1zM510 826h1v3h-1zM511 826h1v3h-1zM512 825h1v4h-1zM513 825h1v4h-1zM514 825h1v3h-1zM515 825h1v3h-1zM516 825h1v3h-1zM517 825h1v3h-1zM518 824h1v4h-1zM519 824h1v4h-1zM520 824h1v3h-1zM521 824h1v3h-1zM522 824h1v3h-1zM523 823h1v4h-1zM524 823h1v4h-1zM525 823h1v3h-1zM526 822h1v4h-1zM527 822h1v4h-1zM528 821h1v4h-1zM529 821h1v4h-1zM530 820h1v4h-1zM531 819h1v5h-1zM532 819h1v4h-1zM533 818h1v4h-1zM534 817h1v5h-1zM535 817h1v4h-1zM536 816h1v4h-1zM537 816h1v4h-1zM538 815h1v4h-1zM539 814h1v5h-1zM540 814h1v4h-1zM541 813h1v4h-1zM542 812h1v5h-1zM543 812h1v4h-1zM544 811h1v4h-1zM545 810h1v5h-1zM546 810h1v4h-1zM547 809h1v4h-1zM548 808h1v5h-1zM549 808h1v4h-1zM550 807h1v4h-1zM551 806h1v5h-1zM552 805h1v5h-1zM553 805h1v4h-1zM554 804h1v4h-1zM555 803h1v5h-1zM556 803h1v4h-1zM557 802h1v4h-1zM558 801h1v5h-1zM559 801h1v4h-1zM560 800h1v4h-1zM561 800h1v4h-1zM562 799h1v4h-1zM563 798h1v5h-1zM564 798h1v4h-1zM565 797h1v4h-1zM566 796h1v5h-1zM567 796h1v4h-1zM568 795h1v4h-1zM569 795h1v4h-1zM570 794h1v4h-1zM571 793h1v5h-1zM572 793h1v4h-1zM573 792h1v4h-1zM574 791h1v5h-1zM575 791h1v4h-1zM576 790h1v4h-1zM577 790h1v4h-1zM578 789h1v4h-1zM579 788h1v5h-1zM580 788h1v4h-1zM581 787h1v4h-1zM582 786h1v5h-1zM583 786h1v4h-1zM584 785h1v4h-1zM585 785h1v4h-1zM586 784h1v4h-1zM587 783h1v5h-1zM588 783h1v4h-1zM589 782h1v4h-1zM590 782h1v4h-1zM591 781h1v4h-1zM592 781h1v4h-1zM593 780h1v4h-1zM594 780h1v4h-1zM595 779h1v4h-1zM596 779h1v4h-1zM597 779h1v3h-1zM598 778h1v4h-1zM599 778h1v4h-1zM600 777h1v4h-1zM601 777h1v4h-1zM602 776h1v4h-1zM603 776h1v4h-1zM604 775h1v4h-1zM605 775h1v4h-1zM606 775h1v3h-1zM607 774h1v4h-1zM608 774h1v4h-1zM609 774h1v3h-1zM610 773h1v4h-1zM611 773h1v4h-1zM612 772h1v4h-1zM613 772h1v4h-1zM614 772h1v3h-1zM615 771h1v4h-1zM616 771h1v4h-1zM617 771h1v3h-1zM618 770h1v4h-1zM619 770h1v4h-1zM620 769h1v4h-1zM621 769h1v4h-1zM622 769h1v3h-1zM623 769h1v3h-1zM624 769h1v3h-1zM625 769h1v3h-1zM626 768h1v4h-1zM627 768h1v4h-1zM628 768h1v3h-1zM629 768h1v3h-1zM630 768h1v3h-1zM631 768h1v3h-1zM632 768h1v3h-1zM633 768h1v3h-1zM634 767h1v4h-1zM635 767h1v4h-1zM636 767h1v3h-1zM637 767h1v3h-1zM638 767h1v3h-1zM639 767h1v3h-1zM640 767h1v3h-1zM641 767h1v3h-1zM642 767h1v3h-1zM643 767h1v3h-1zM644 767h1v3h-1zM645 767h1v3h-1zM646 767h1v4h-1zM647 767h1v4h-1zM648 768h1v3h-1zM649 768h1v3h-1zM650 768h1v3h-1zM651 768h1v3h-1zM652 768h1v3h-1zM653 768h1v3h-1zM654 768h1v3h-1zM655 768h1v4h-1zM656 768h1v4h-1zM657 769h1v3h-1zM658 769h1v4h-1zM659 769h1v4h-1zM660 770h1v3h-1zM661 770h1v3h-1zM662 770h1v4h-1zM663 770h1v4h-1zM664 771h1v3h-1zM665 771h1v4h-1zM666 771h1v4h-1zM667 772h1v3h-1zM668 772h1v4h-1zM669 772h1v4h-1zM670 773h1v3h-1zM671 773h1v3h-1zM672 773h1v4h-1zM673 773h1v4h-1zM674 774h1v3h-1zM675 774h1v3h-1zM676 774h1v4h-1zM677 774h1v4h-1zM678 775h1v3h-1zM679 775h1v3h-1zM680 775h1v4h-1zM681 775h1v4h-1zM682 776h1v3h-1zM683 776h1v3h-1zM684 776h1v4h-1zM685 776h1v4h-1zM686 777h1v3h-1zM687 777h1v3h-1zM688 777h1v3h-1zM689 777h1v3h-1zM690 777h1v4h-1zM691 777h1v4h-1zM692 778h1v3h-1zM693 778h1v3h-1zM694 778h1v3h-1zM695 778h1v3h-1zM696 778h1v3h-1zM697 778h1v3h-1zM698 778h1v4h-1zM699 778h1v4h-1zM700 779h1v3h-1zM701 779h1v3h-1zM702 779h1v3h-1zM703 779h1v3h-1zM704 778h1v4h-1zM705 778h1v4h-1zM706 778h1v3h-1zM707 778h1v3h-1zM708 777h1v4h-1zM709 777h1v4h-1zM710 777h1v3h-1zM711 777h1v3h-1zM712 776h1v4h-1zM713 776h1v4h-1zM714 776h1v3h-1zM715 776h1v3h-1zM716 775h1v4h-1zM717 775h1v4h-1zM718 775h1v3h-1zM719 774h1v4h-1zM720 774h1v4h-1zM721 773h1v4h-1zM722 773h1v4h-1zM723 772h1v4h-1zM724 772h1v4h-1zM725 772h1v3h-1zM726 771h1v4h-1zM727 771h1v4h-1zM728 770h1v4h-1zM729 770h1v4h-1zM730 769h1v4h-1zM731 769h1v4h-1zM732 768h1v4h-1zM733 768h1v4h-1zM734 768h1v3h-1zM735 767h1v4h-1zM736 767h1v4h-1zM737 766h1v4h-1zM738 766h1v4h-1zM739 765h1v4h-1zM740 765h1v4h-1zM741 764h1v4h-1zM742 764h1v4h-1zM743 763h1v4h-1zM744 763h1v4h-1zM745 762h1v4h-1zM746 762h1v4h-1zM747 761h1v4h-1zM748 761h1v4h-1zM749 760h1v4h-1zM750 760h1v4h-1zM751 759h1v4h-1zM752 759h1v4h-1zM753 759h1v3h-1zM754 758h1v4h-1zM755 758h1v4h-1zM756 758h1v3h-1zM757 758h1v3h-1zM758 757h1v4h-1zM759 757h1v4h-1zM760 757h1v3h-1zM761 756h1v4h-1zM762 756h1v4h-1zM763 756h1v3h-1zM764 755h1v4h-1zM765 755h1v4h-1zM766 755h1v3h-1zM767 755h1v3h-1zM768 755h1v3h-1zM769 755h1v3h-1zM770 754h1v4h-1zM771 754h1v4h-1zM772 754h1v3h-1zM773 754h1v3h-1zM774 754h1v3h-1zM775 754h1v3h-1zM776 754h1v3h-1zM777 754h1v3h-1zM778 753h1v4h-1zM779 753h1v4h-1zM780 753h1v3h-1zM781 753h1v3h-1zM782 753h1v3h-1zM783 753h1v3h-1zM784 753h1v3h-1zM785 753h1v3h-1zM786 753h1v3h-1zM787 753h1v3h-1zM788 753h1v3h-1zM789 753h1v3h-1zM790 753h1v3h-1zM791 753h1v3h-1zM792 753h1v3h-1zM793 753h1v3h-1zM794 753h1v3h-1zM795 753h1v3h-1zM796 753h1v3h-1zM797 753h1v3h-1zM798 753h1v3h-1zM799 753h1v3h-1zM800 753h1v3h-1zM801 753h1v3h-1zM802 753h1v3h-1zM803 753h1v3h-1zM804 753h1v3h-1zM805 753h1v3h-1zM806 753h1v4h-1zM807 753h1v4h-1zM808 754h1v3h-1zM809 754h1v3h-1zM810 754h1v3h-1zM811 754h1v3h-1zM812 754h1v3h-1zM813 754h1v3h-1zM814 754h1v3h-1zM815 754h1v4h-1zM816 754h1v4h-1zM817 755h1v3h-1zM818 755h1v4h-1zM819 755h1v4h-1zM820 756h1v3h-1zM821 756h1v3h-1zM822 756h1v4h-1zM823 756h1v4h-1zM824 757h1v3h-1zM825 757h1v4h-1zM826 757h1v4h-1zM827 758h1v3h-1zM828 758h1v4h-1zM829 758h1v4h-1zM830 759h1v3h-1zM831 759h1v4h-1zM832 759h1v4h-1zM833 760h1v3h-1zM834 760h1v4h-1zM835 760h1v4h-1zM836 761h1v4h-1zM837 761h1v4h-1zM838 762h1v3h-1zM839 762h1v4h-1zM840 762h1v4h-1zM841 763h1v3h-1zM842 763h1v4h-1zM843 763h1v4h-1zM844 764h1v4h-1zM845 764h1v4h-1zM846 765h1v3h-1zM847 765h1v4h-1zM848 765h1v4h-1zM849 766h1v3h-1zM850 766h1v4h-1zM851 766h1v4h-1zM852 767h1v3h-1zM853 767h1v3h-1zM854 767h1v4h-1zM855 767h1v4h-1zM856 768h1v3h-1zM857 768h1v4h-1zM858 768h1v4h-1zM859 769h1v3h-1zM860 769h1v4h-1zM861 769h1v4h-1zM862 770h1v4h-1zM863 770h1v4h-1zM864 771h1v4h-1zM865 771h1v4h-1zM866 772h1v4h-1zM867 772h1v4h-1zM868 773h1v4h-1zM869 773h1v4h-1zM870 774h1v4h-1zM871 774h1v5h-1zM872 775h1v4h-1zM873 776h1v4h-1zM874 776h1v4h-1zM875 777h1v4h-1zM876 777h1v4h-1zM877 778h1v4h-1zM878 778h1v4h-1zM879 779h1v4h-1zM880 779h1v4h-1zM881 780h1v4h-1zM882 780h1v4h-1zM883 781h1v4h-1zM884 781h1v4h-1zM885 782h1v4h-1zM886 782h1v4h-1zM887 783h1v4h-1zM888 783h1v4h-1zM889 784h1v4h-1zM890 784h1v4h-1zM891 785h1v4h-1zM892 785h1v4h-1zM893 786h1v4h-1zM894 786h1v4h-1zM895 787h1v4h-1zM896 787h1v4h-1zM897 788h1v3h-1zM898 788h1v4h-1zM899 788h1v4h-1zM900 789h1v4h-1zM901 789h1v4h-1zM902 790h1v3h-1zM903 790h1v4h-1zM904 790h1v4h-1zM905 791h1v3h-1zM906 791h1v4h-1zM907 791h1v4h-1zM908 792h1v4h-1zM909 792h1v4h-1zM910 793h1v3h-1zM911 793h1v3h-1zM912 793h1v4h-1zM913 793h1v4h-1zM914 794h1v3h-1zM915 794h1v3h-1zM916 794h1v3h-1zM917 794h1v3h-1zM918 794h1v4h-1zM919 794h1v4h-1zM920 795h1v3h-1zM921 795h1v3h-1zM922 795h1v3h-1zM923 795h1v4h-1zM924 795h1v4h-1zM925 796h1v3h-1zM926 796h1v3h-1zM927 796h1v3h-1zM928 796h1v3h-1zM929 796h1v3h-1zM930 796h1v4h-1zM931 796h1v4h-1zM932 797h1v3h-1zM933 797h1v3h-1zM934 797h1v3h-1zM935 797h1v3h-1zM936 797h1v3h-1zM937 797h1v3h-1zM938 797h1v4h-1zM939 797h1v4h-1zM940 798h1v3h-1zM941 798h1v3h-1zM942 798h1v3h-1zM943 798h1v3h-1zM944 797h1v4h-1zM945 797h1v4h-1zM946 797h1v3h-1zM947 797h1v3h-1zM948 797h1v3h-1zM949 797h1v3h-1zM950 796h1v4h-1zM951 796h1v4h-1zM952 796h1v3h-1zM953 796h1v3h-1zM954 796h1v3h-1zM955 795h1v4h-1zM956 795h1v4h-1zM957 795h1v3h-1zM958 794h1v4h-1zM959 794h1v4h-1zM960 793h1v4h-1zM961 793h1v4h-1zM962 792h1v4h-1zM963 791h1v5h-1zM964 791h1v4h-1zM965 790h1v4h-1zM966 789h1v5h-1zM967 789h1v4h-1zM968 788h1v4h-1zM969 788h1v4h-1zM970 787h1v4h-1zM971 786h1v5h-1zM972 786h1v4h-1zM973 785h1v4h-1zM974 784h1v5h-1zM975 784h1v4h-1zM976 783h1v4h-1zM977 783h1v4h-1zM978 782h1v4h-1zM979 781h1v5h-1zM980 781h1v4h-1zM981 780h1v4h-1zM982 779h1v5h-1zM983 779h1v4h-1zM984 778h1v4h-1zM985 778h1v4h-1zM986 777h1v4h-1zM987 776h1v5h-1zM988 776h1v4h-1zM989 775h1v4h-1zM990 774h1v5h-1zM991 774h1v4h-1zM992 773h1v4h-1zM993 773h1v4h-1zM994 772h1v4h-1zM995 772h1v4h-1zM996 771h1v4h-1zM997 771h1v4h-1zM998 770h1v4h-1zM999 769h1v5h-1zM1000 769h1v4h-1zM1001 768h1v4h-1zM1002 768h1v4h-1zM1003 767h1v4h-1zM1004 767h1v4h-1zM1005 766h1v4h-1zM1006 766h1v4h-1zM1007 765h1v4h-1zM1008 765h1v4h-1zM1009 764h1v4h-1zM1010 764h1v4h-1zM1011 763h1v4h-1zM1012 763h1v4h-1zM1013 762h1v4h-1zM1014 762h1v4h-1zM1015 761h1v4h-1zM1016 761h1v4h-1zM1017 760h1v4h-1zM1018 760h1v4h-1zM1019 759h1v4h-1zM1020 759h1v4h-1zM1021 758h1v4h-1zM1022 758h1v4h-1zM1023 757h1v4h-1zM1024 757h1v4h-1zM1025 756h1v4h-1zM1026 756h1v4h-1zM1027 755h1v4h-1zM1028 755h1v4h-1zM1029 754h1v4h-1zM1030 754h1v4h-1zM1031 753h1v4h-1zM1032 753h1v4h-1zM1033 752h1v4h-1zM1034 752h1v4h-1zM1035 751h1v4h-1zM1036 751h1v4h-1zM1037 750h1v4h-1zM1038 749h1v5h-1zM1039 749h1v4h-1zM1040 748h1v4h-1zM1041 748h1v4h-1zM1042 747h1v4h-1zM1043 747h1v4h-1zM1044 746h1v4h-1zM1045 746h1v4h-1zM1046 745h1v4h-1zM1047 744h1v5h-1zM1048 744h1v4h-1zM1049 743h1v4h-1zM1050 743h1v4h-1zM1051 742h1v4h-1zM1052 742h1v4h-1zM1053 741h1v4h-1zM1054 741h1v4h-1zM1055 740h1v4h-1zM1056 740h1v4h-1zM1057 739h1v4h-1zM1058 739h1v4h-1zM1059 738h1v4h-1zM1060 738h1v4h-1zM1061 737h1v4h-1zM1062 737h1v4h-1zM1063 736h1v4h-1zM1064 736h1v4h-1zM1065 735h1v4h-1zM1066 735h1v4h-1zM1067 734h1v4h-1zM1068 734h1v4h-1zM1069 733h1v4h-1zM1070 733h1v4h-1zM1071 732h1v4h-1zM1072 732h1v4h-1zM1073 731h1v4h-1zM1074 731h1v4h-1zM1075 730h1v4h-1zM1076 730h1v4h-1zM1077 729h1v4h-1zM1078 729h1v4h-1zM1079 728h1v4h-1zM1080 728h1v4h-1zM1081 727h1v4h-1zM1082 727h1v4h-1zM1083 726h1v4h-1zM1084 726h1v4h-1zM1085 725h1v4h-1zM1086 725h1v4h-1zM1087 724h1v4h-1zM1088 724h1v4h-1zM1089 724h1v3h-1zM1090 723h1v4h-1zM1091 723h1v4h-1zM1092 723h1v3h-1zM1093 723h1v3h-1zM1094 722h1v4h-1zM1095 722h1v4h-1zM1096 722h1v3h-1zM1097 721h1v4h-1zM1098 721h1v4h-1zM1099 721h1v3h-1zM1100 720h1v4h-1zM1101 720h1v4h-1zM1102 720h1v3h-1zM1103 719h1v4h-1zM1104 719h1v4h-1zM1105 718h1v4h-1zM1106 718h1v4h-1zM1107 717h1v4h-1zM1108 717h1v4h-1zM1109 716h1v4h-1zM1110 716h1v4h-1zM1111 715h1v4h-1zM1112 715h1v4h-1zM1113 714h1v4h-1zM1114 714h1v4h-1zM1115 713h1v4h-1zM1116 713h1v4h-1zM1117 712h1v4h-1zM1118 711h1v5h-1zM1119 711h1v4h-1zM1120 710h1v4h-1zM1121 710h1v4h-1zM1122 709h1v4h-1zM1123 709h1v4h-1zM1124 708h1v4h-1zM1125 708h1v4h-1zM1126 707h1v4h-1zM1127 706h1v5h-1zM1128 706h1v4h-1zM1129 705h1v4h-1zM1130 705h1v4h-1zM1131 704h1v4h-1zM1132 704h1v4h-1zM1133 703h1v4h-1zM1134 702h1v5h-1zM1135 702h1v4h-1zM1136 701h1v4h-1zM1137 700h1v5h-1zM1138 700h1v4h-1zM1139 699h1v4h-1zM1140 698h1v5h-1zM1141 698h1v4h-1zM1142 697h1v4h-1zM1143 696h1v5h-1zM1144 695h1v5h-1zM1145 695h1v4h-1zM1146 694h1v4h-1zM1147 693h1v5h-1zM1148 693h1v4h-1zM1149 692h1v4h-1zM1150 691h1v5h-1zM1151 690h1v5h-1zM1152 690h1v4h-1zM1153 689h1v4h-1zM1154 688h1v5h-1zM1155 687h1v5h-1zM1156 686h1v5h-1zM1157 686h1v4h-1zM1158 685h1v4h-1zM1159 684h1v5h-1zM1160 683h1v5h-1zM1161 682h1v5h-1zM1162 681h1v5h-1zM1163 681h1v4h-1zM1164 680h1v4h-1zM1165 679h1v5h-1zM1166 678h1v5h-1zM1167 678h1v4h-1zM1168 677h1v4h-1zM1169 676h1v5h-1zM1170 676h1v4h-1zM1171 675h1v4h-1zM1172 674h1v5h-1zM1173 674h1v4h-1zM1174 673h1v4h-1zM1175 672h1v5h-1zM1176 671h1v5h-1zM1177 671h1v4h-1zM1178 670h1v4h-1zM1179 669h1v5h-1zM1180 669h1v4h-1zM1181 668h1v4h-1zM1182 667h1v5h-1zM1183 667h1v4h-1zM1184 666h1v4h-1zM1185 665h1v5h-1zM1186 665h1v4h-1zM1187 664h1v4h-1zM1188 663h1v5h-1zM1189 663h1v4h-1zM1190 662h1v4h-1zM1191 661h1v5h-1zM1192 660h1v5h-1zM1193 660h1v4h-1zM1194 659h1v4h-1zM1195 658h1v5h-1zM1196 658h1v4h-1zM1197 657h1v4h-1zM1198 656h1v5h-1zM1199 656h1v4h-1zM1200 655h1v4h-1zM1201 654h1v5h-1zM1202 653h1v5h-1zM1203 653h1v4h-1zM1204 652h1v4h-1zM1205 651h1v5h-1zM1206 650h1v5h-1zM1207 650h1v4h-1zM1208 649h1v4h-1zM1209 648h1v5h-1zM1210 647h1v5h-1zM1211 647h1v4h-1zM1212 646h1v4h-1zM1213 645h1v5h-1zM1214 645h1v4h-1zM1215 644h1v4h-1zM1216 644h1v4h-1zM1217 643h1v4h-1zM1218 643h1v4h-1zM1219 642h1v4h-1zM1220 642h1v4h-1zM1221 642h1v3h-1zM1222 641h1v4h-1zM1223 641h1v4h-1zM1224 640h1v4h-1zM1225 640h1v4h-1zM1226 639h1v4h-1zM1227 639h1v4h-1zM1228 638h1v4h-1zM1229 638h1v4h-1zM1230 638h1v3h-1zM1231 637h1v4h-1zM1232 637h1v4h-1zM1233 637h1v3h-1zM1234 636h1v4h-1zM1235 636h1v4h-1zM1236 636h1v3h-1zM1237 636h1v3h-1zM1238 635h1v4h-1zM1239 635h1v4h-1zM1240 635h1v3h-1zM1241 634h1v4h-1zM1242 634h1v4h-1zM1243 634h1v3h-1zM1244 633h1v4h-1zM1245 633h1v4h-1zM1246 633h1v3h-1zM1247 633h1v3h-1zM1248 633h1v3h-1zM1249 633h1v3h-1zM1250 633h1v3h-1zM1251 633h1v3h-1zM1252 633h1v3h-1zM1253 633h1v3h-1zM1254 632h1v4h-1zM1255 632h1v4h-1zM1256 632h1v3h-1zM1257 632h1v3h-1zM1258 632h1v3h-1zM1259 632h1v3h-1zM1260 632h1v3h-1zM1261 632h1v3h-1zM1262 632h1v3h-1zM1263 632h1v3h-1zM1264 632h1v3h-1zM1265 632h1v3h-1zM1266 631h1v4h-1zM1267 631h1v4h-1zM1268 631h1v3h-1zM1269 631h1v3h-1zM1270 631h1v3h-1zM1271 631h1v3h-1zM1272 631h1v3h-1zM1273 631h1v3h-1zM1274 630h1v4h-1zM1275 630h1v4h-1zM1276 630h1v3h-1zM1277 630h1v3h-1zM1278 630h1v3h-1zM1279 630h1v3h-1zM1280 630h1v3h-1zM1281 630h1v3h-1zM1282 629h1v4h-1zM1283 629h1v4h-1zM1284 629h1v3h-1zM1285 629h1v3h-1zM1286 629h1v3h-1zM1287 629h1v3h-1zM1288 629h1v3h-1zM1289 629h1v3h-1zM1290 628h1v4h-1zM1291 628h1v4h-1zM1292 628h1v3h-1zM1293 628h1v3h-1zM1294 628h1v3h-1zM1295 628h1v3h-1zM1296 628h1v3h-1zM1297 628h1v3h-1zM1298 628h1v3h-1zM1299 628h1v3h-1zM1300 628h1v3h-1zM1301 628h1v3h-1zM1302 627h1v4h-1zM1303 627h1v4h-1zM1304 627h1v3h-1zM1305 627h1v3h-1zM1306 627h1v3h-1zM1307 627h1v3h-1zM1308 627h1v3h-1zM1309 627h1v3h-1zM1310 627h1v3h-1zM1311 627h1v3h-1zM1312 627h1v3h-1zM1313 627h1v3h-1zM1314 627h1v3h-1zM1315 627h1v3h-1zM1316 627h1v3h-1zM1317 627h1v3h-1zM1318 626h1v4h-1zM1319 626h1v4h-1zM1320 626h1v3h-1zM1321 626h1v3h-1zM1322 626h1v3h-1zM1323 626h1v3h-1zM1324 626h1v3h-1zM1325 626h1v3h-1zM1326 626h1v3h-1zM1327 626h1v3h-1zM1328 626h1v3h-1zM1329 626h1v3h-1zM1330 626h1v3h-1zM1331 626h1v3h-1zM1332 626h1v3h-1zM1333 626h1v3h-1zM1334 626h1v3h-1zM1335 626h1v3h-1zM1336 626h1v3h-1zM1337 626h1v3h-1zM1338 626h1v3h-1zM1339 626h1v3h-1zM1340 626h1v3h-1zM1341 626h1v3h-1zM1342 626h1v3h-1zM1343 626h1v3h-1zM1344 626h1v3h-1zM1345 626h1v3h-1zM1346 626h1v3h-1zM1347 626h1v3h-1zM1348 626h1v3h-1zM1349 626h1v3h-1zM1350 626h1v3h-1zM1351 626h1v3h-1zM1352 626h1v3h-1zM1353 626h1v3h-1zM1354 626h1v3h-1zM1355 626h1v3h-1zM1356 626h1v3h-1zM1357 626h1v3h-1zM1358 626h1v3h-1zM1359 626h1v3h-1zM1360 626h1v3h-1zM1361 626h1v3h-1zM1362 625h1v4h-1zM1363 625h1v4h-1zM1364 625h1v3h-1zM1365 625h1v3h-1zM1366 625h1v3h-1zM1367 625h1v3h-1zM1368 625h1v3h-1zM1369 625h1v3h-1zM1370 624h1v4h-1zM1371 624h1v4h-1zM1372 624h1v3h-1zM1373 624h1v3h-1zM1374 624h1v3h-1zM1375 624h1v3h-1zM1376 623h1v4h-1zM1377 623h1v4h-1zM1378 623h1v3h-1zM1379 623h1v3h-1zM1380 623h1v3h-1zM1381 623h1v3h-1zM1382 622h1v4h-1zM1383 622h1v4h-1zM1384 622h1v3h-1zM1385 622h1v3h-1zM1386 622h1v3h-1zM1387 621h1v4h-1zM1388 621h1v4h-1zM1389 621h1v3h-1zM1390 621h1v3h-1zM1391 621h1v3h-1zM1392 621h1v3h-1zM1393 621h1v3h-1zM1394 621h1v3h-1zM1395 621h1v3h-1zM1396 621h1v3h-1zM1397 621h1v3h-1zM1398 620h1v4h-1zM1399 620h1v4h-1zM1400 620h1v3h-1zM1401 620h1v3h-1zM1402 620h1v3h-1zM1403 620h1v3h-1zM1404 620h1v3h-1zM1405 620h1v3h-1zM1406 620h1v3h-1zM1407 620h1v3h-1zM1408 620h1v3h-1zM1409 620h1v3h-1zM1410 620h1v3h-1zM1411 620h1v3h-1zM1412 620h1v3h-1zM1413 620h1v3h-1zM1414 620h1v3h-1zM1415 620h1v3h-1zM1416 620h1v3h-1zM1417 620h1v3h-1zM1418 620h1v3h-1zM1419 620h1v3h-1zM1420 620h1v3h-1zM1421 620h1v3h-1zM1422 620h1v3h-1zM1423 620h1v3h-1zM1424 620h1v3h-1zM1425 620h1v3h-1zM1426 620h1v3h-1zM1427 620h1v3h-1zM1428 620h1v3h-1zM1429 620h1v3h-1zM1430 620h1v4h-1zM1431 620h1v4h-1zM1432 621h1v3h-1zM1433 621h1v3h-1zM1434 621h1v3h-1zM1435 621h1v3h-1zM1436 621h1v3h-1zM1437 621h1v3h-1zM1438 621h1v3h-1zM1439 621h1v3h-1zM1440 621h1v3h-1zM1441 621h1v3h-1zM1442 621h1v4h-1zM1443 621h1v4h-1zM1444 622h1v3h-1zM1445 622h1v3h-1zM1446 622h1v3h-1zM1447 622h1v3h-1zM1448 622h1v3h-1zM1449 622h1v3h-1zM1450 622h1v4h-1zM1451 622h1v4h-1zM1452 623h1v3h-1zM1453 623h1v3h-1zM1454 623h1v3h-1zM1455 623h1v3h-1zM1456 623h1v4h-1zM1457 623h1v4h-1zM1458 624h1v3h-1zM1459 624h1v3h-1zM1460 624h1v3h-1zM1461 624h1v3h-1zM1462 624h1v4h-1zM1463 624h1v4h-1zM1464 625h1v3h-1zM1465 625h1v3h-1zM1466 625h1v3h-1zM1467 625h1v4h-1zM1468 625h1v4h-1zM1469 626h1v3h-1zM1470 626h1v3h-1zM1471 626h1v3h-1zM1472 626h1v3h-1zM1473 626h1v3h-1zM1474 626h1v3h-1zM1475 626h1v3h-1zM1476 626h1v3h-1zM1477 626h1v3h-1zM1478 626h1v4h-1zM1479 626h1v4h-1zM1480 627h1v3h-1zM1481 627h1v3h-1zM1482 627h1v3h-1zM1483 627h1v3h-1zM1484 627h1v3h-1zM1485 627h1v3h-1zM1486 627h1v3h-1zM1487 627h1v3h-1zM1488 627h1v3h-1zM1489 627h1v3h-1zM1490 627h1v3h-1zM1491 627h1v3h-1zM1492 627h1v3h-1zM1493 627h1v3h-1zM1494 627h1v3h-1zM1495 627h1v3h-1zM1496 627h1v3h-1zM1497 627h1v3h-1zM1498 627h1v3h-1zM1499 627h1v3h-1zM1500 627h1v3h-1zM1501 627h1v3h-1zM1502 627h1v3h-1zM1503 627h1v3h-1zM1504 627h1v3h-1zM1505 627h1v3h-1zM1506 627h1v3h-1zM1507 627h1v3h-1zM1508 627h1v3h-1zM1509 627h1v3h-1zM1510 626h1v4h-1zM1511 626h1v4h-1zM1512 626h1v3h-1zM1513 626h1v3h-1zM1514 626h1v3h-1zM1515 626h1v3h-1zM1516 626h1v3h-1zM1517 626h1v3h-1zM1518 626h1v3h-1zM1519 626h1v3h-1zM1520 626h1v3h-1zM1521 626h1v3h-1zM1522 626h1v3h-1zM1523 626h1v3h-1zM1524 626h1v3h-1zM1525 626h1v3h-1zM1526 625h1v4h-1zM1527 625h1v4h-1zM1528 625h1v3h-1zM1529 625h1v3h-1zM1530 625h1v3h-1zM1531 625h1v3h-1zM1532 625h1v3h-1zM1533 625h1v3h-1zM1534 625h1v3h-1zM1535 625h1v3h-1zM1536 625h1v3h-1zM1537 625h1v3h-1zM1538 624h1v4h-1zM1539 624h1v4h-1zM1540 624h1v3h-1zM1541 624h1v3h-1zM1542 624h1v3h-1zM1543 624h1v3h-1zM1544 624h1v3h-1zM1545 624h1v3h-1zM1546 623h1v4h-1zM1547 623h1v4h-1zM1548 623h1v3h-1zM1549 623h1v3h-1zM1550 623h1v3h-1zM1551 623h1v3h-1zM1552 623h1v3h-1zM1553 623h1v3h-1zM1554 623h1v3h-1zM1555 623h1v3h-1zM1556 623h1v3h-1zM1557 623h1v3h-1zM1558 623h1v3h-1zM1559 623h1v3h-1zM1560 623h1v3h-1zM1561 623h1v3h-1zM1562 623h1v3h-1zM1563 623h1v3h-1zM1564 623h1v3h-1zM1565 623h1v3h-1zM1566 623h1v3h-1zM1567 623h1v3h-1zM1568 623h1v3h-1zM1569 623h1v3h-1zM1570 623h1v3h-1zM1571 623h1v3h-1zM1572 623h1v3h-1zM1573 623h1v3h-1zM1574 623h1v3h-1zM1575 623h1v3h-1zM1576 623h1v3h-1zM1577 623h1v3h-1zM1578 623h1v3h-1zM1579 623h1v3h-1zM1580 623h1v3h-1zM1581 623h1v3h-1zM1582 623h1v3h-1zM1583 623h1v3h-1zM1584 623h1v3h-1zM1585 623h1v3h-1zM1586 623h1v4h-1zM1587 623h1v4h-1zM1588 624h1v3h-1zM1589 624h1v3h-1zM1590 624h1v3h-1zM1591 624h1v3h-1zM1592 624h1v3h-1zM1593 624h1v3h-1zM1594 624h1v4h-1zM1595 624h1v4h-1zM1596 625h1v3h-1zM1597 625h1v3h-1zM1598 625h1v3h-1zM1599 625h1v3h-1zM1600 625h1v4h-1zM1601 625h1v4h-1zM1602 626h1v3h-1zM1603 626h1v3h-1zM1604 626h1v4h-1zM1605 626h1v4h-1zM1606 627h1v3h-1zM1607 627h1v3h-1zM1608 627h1v4h-1zM1609 627h1v4h-1zM1610 628h1v3h-1zM1611 628h1v3h-1zM1612 628h1v4h-1zM1613 628h1v4h-1zM1614 629h1v3h-1zM1615 629h1v4h-1zM1616 629h1v4h-1zM1617 630h1v3h-1zM1618 630h1v4h-1zM1619 630h1v4h-1zM1620 631h1v3h-1zM1621 631h1v3h-1zM1622 631h1v4h-1zM1623 631h1v4h-1zM1624 632h1v3h-1zM1625 632h1v4h-1zM1626 632h1v4h-1zM1627 633h1v3h-1zM1628 633h1v4h-1zM1629 633h1v4h-1zM1630 634h1v3h-1zM1631 634h1v3h-1zM1632 634h1v4h-1zM1633 634h1v4h-1zM1634 635h1v3h-1zM1635 635h1v3h-1zM1636 635h1v4h-1zM1637 635h1v4h-1zM1638 636h1v3h-1zM1639 636h1v3h-1zM1640 636h1v4h-1zM1641 636h1v4h-1zM1642 637h1v3h-1zM1643 637h1v3h-1zM1644 637h1v4h-1zM1645 637h1v4h-1zM1646 638h1v3h-1zM1647 638h1v3h-1zM1648 638h1v4h-1zM1649 638h1v4h-1zM1650 639h1v3h-1zM1651 639h1v3h-1zM1652 639h1v4h-1zM1653 639h1v4h-1zM1654 640h1v3h-1zM1655 640h1v3h-1zM1656 640h1v4h-1zM1657 640h1v4h-1zM1658 641h1v3h-1zM1659 641h1v3h-1zM1660 641h1v4h-1zM1661 641h1v4h-1zM1662 642h1v3h-1zM1663 642h1v3h-1zM1664 642h1v4h-1zM1665 642h1v4h-1zM1666 643h1v3h-1zM1667 643h1v3h-1zM1668 643h1v4h-1zM1669 643h1v4h-1zM1670 644h1v3h-1zM1671 644h1v3h-1zM1672 644h1v4h-1zM1673 644h1v4h-1zM1674 645h1v3h-1zM1675 645h1v3h-1zM1676 645h1v4h-1zM1677 645h1v4h-1zM1678 646h1v3h-1zM1679 646h1v4h-1zM1680 646h1v4h-1zM1681 647h1v3h-1zM1682 647h1v4h-1zM1683 647h1v4h-1zM1684 648h1v3h-1zM1685 648h1v3h-1zM1686 648h1v4h-1zM1687 648h1v4h-1zM1688 649h1v3h-1zM1689 649h1v4h-1zM1690 649h1v4h-1zM1691 650h1v3h-1zM1692 650h1v4h-1zM1693 650h1v4h-1zM1694 651h1v3h-1zM1695 651h1v4h-1zM1696 651h1v4h-1zM1697 652h1v3h-1zM1698 652h1v4h-1zM1699 652h1v4h-1zM1700 653h1v3h-1zM1701 653h1v3h-1zM1702 653h1v4h-1zM1703 653h1v4h-1zM1704 654h1v3h-1zM1705 654h1v4h-1zM1706 654h1v4h-1zM1707 655h1v3h-1zM1708 655h1v4h-1zM1709 655h1v4h-1zM1710 656h1v3h-1zM1711 656h1v3h-1zM1712 656h1v3h-1zM1713 656h1v3h-1zM1714 656h1v4h-1zM1715 656h1v4h-1zM1716 657h1v3h-1zM1717 657h1v3h-1zM1718 657h1v3h-1zM1719 657h1v3h-1zM1720 657h1v3h-1zM1721 657h1v3h-1zM1722 657h1v4h-1zM1723 657h1v4h-1zM1724 658h1v3h-1zM1725 658h1v3h-1zM1726 658h1v3h-1zM1727 658h1v3h-1zM1728 658h1v3h-1zM1729 658h1v3h-1zM1730 658h1v3h-1zM1731 658h1v3h-1zM1732 658h1v3h-1zM1733 658h1v3h-1zM1734 658h1v4h-1zM1735 658h1v4h-1zM1736 659h1v3h-1zM1737 659h1v3h-1zM1738 659h1v3h-1zM1739 659h1v3h-1zM1740 659h1v3h-1zM1741 659h1v3h-1zM1742 659h1v3h-1zM1743 658h1v4h-1zM1744 658h1v4h-1zM1745 658h1v3h-1zM1746 657h1v4h-1zM1747 657h1v4h-1zM1748 656h1v4h-1zM1749 656h1v4h-1zM1750 656h1v3h-1zM1751 655h1v4h-1zM1752 655h1v4h-1zM1753 655h1v3h-1zM1754 654h1v4h-1zM1755 654h1v4h-1zM1756 653h1v4h-1zM1757 653h1v4h-1zM1758 653h1v3h-1zM1759 652h1v4h-1zM1760 652h1v4h-1zM1761 651h1v4h-1zM1762 651h1v4h-1zM1763 650h1v4h-1zM1764 650h1v4h-1zM1765 650h1v3h-1zM1766 649h1v4h-1zM1767 649h1v4h-1zM1768 648h1v4h-1zM1769 648h1v4h-1zM1770 647h1v4h-1zM1771 647h1v4h-1zM1772 646h1v4h-1zM1773 646h1v4h-1zM1774 646h1v3h-1zM1775 645h1v4h-1zM1776 645h1v4h-1zM1777 645h1v3h-1zM1778 644h1v4h-1zM1779 644h1v4h-1zM1780 643h1v4h-1zM1781 643h1v4h-1zM1782 643h1v3h-1zM1783 642h1v4h-1zM1784 642h1v4h-1zM1785 642h1v3h-1zM1786 641h1v4h-1zM1787 641h1v4h-1zM1788 640h1v4h-1zM1789 640h1v4h-1zM1790 640h1v3h-1zM1791 639h1v4h-1zM1792 639h1v4h-1zM1793 639h1v3h-1zM1794 638h1v4h-1zM1795 638h1v4h-1zM1796 637h1v4h-1zM1797 637h1v4h-1zM1798 637h1v3h-1zM1799 636h1v4h-1zM1800 636h1v4h-1zM1801 636h1v3h-1zM1802 635h1v4h-1zM1803 635h1v4h-1zM1804 634h1v4h-1zM1805 634h1v4h-1zM1806 634h1v3h-1zM1807 634h1v3h-1zM1808 633h1v4h-1zM1809 633h1v4h-1zM1810 633h1v3h-1zM1811 633h1v3h-1zM1812 632h1v4h-1zM1813 632h1v4h-1zM1814 632h1v3h-1zM1815 632h1v3h-1zM1816 631h1v4h-1zM1817 631h1v4h-1zM1818 631h1v3h-1zM1819 631h1v3h-1zM1820 630h1v4h-1zM1821 630h1v4h-1zM1822 630h1v3h-1zM1823 630h1v3h-1zM1824 629h1v4h-1zM1825 629h1v4h-1zM1826 629h1v3h-1zM1827 629h1v3h-1zM1828 628h1v4h-1zM1829 628h1v4h-1zM1830 628h1v3h-1zM1831 628h1v3h-1zM1832 627h1v4h-1zM1833 627h1v4h-1zM1834 627h1v3h-1zM1835 627h1v3h-1zM1836 626h1v4h-1zM1837 626h1v4h-1zM1838 626h1v3h-1zM1839 626h1v3h-1z" fill="#FF0000"/></g>
<g fill="#FFF" shape-rendering="crispEdges"><rect x="0" y="600" width="1860" height="1"/><rect x="1859" y="0" width="1" height="601"/><rect x="0" y="602" width="1860" height="1"/><rect x="0" y="903" width="1860" height="1"/><rect x="1859" y="602" width="1" height="302"/><rect x="1859" y="24" width="5" height="1"/><rect x="1859" y="56" width="5" height="1"/><rect x="1859" y="88" width="5" height="1"/><rect x="1859" y="120" width="5" height="1"/><rect x="1859" y="152" width="5" height="1"/><rect x="1859" y="184" width="5" height="1"/><rect x="1859" y="216" width="5" height="1"/><rect x="1859" y="248" width="5" height="1"/><rect x="1859" y="280" width="5" height="1"/><rect x="1859" y="312" width="5" height="1"/><rect x="1859" y="344" width="5" height="1"/><rect x="1859" y="376" width="5" height="1"/><rect x="1859" y="408" width="5" height="1"/><rect x="1859" y="440" width="5" height="1"/><rect x="1859" y="472" width="5" height="1"/><rect x="1859" y="504" width="5" height="1"/><rect x="1859" y="536" width="5" height="1"/><rect x="1859" y="568" width="5" height="1"/><rect x="1859" y="603" width="5" height="1"/><rect x="1859" y="662" width="5" height="1"/><rect x="1859" y="843" width="5" height="1"/><rect x="1859" y="902" width="5" height="1"/><rect x="-2" y="903" width="1" height="5"/><rect x="62" y="903" width="1" height="5"/><rect x="126" y="903" width="1" height="5"/><rect x="190" y="903" width="1" height="5"/><rect x="254" y="903" width="1" height="5"/><rect x="318" y="903" width="1" height="5"/><rect x="382" y="903" width="1" height="5"/><rect x="446" y="903" width="1" height="5"/><rect x="510" y="903" width="1" height="5"/><rect x="574" y="903" width="1" height="5"/><rect x="638" y="903" width="1" height="5"/><rect x="702" y="903" width="1" height="5"/><rect x="766" y="903" width="1" height="5"/><rect x="830" y="903" width="1" height="5"/><rect x="894" y="903" width="1" height="5"/><rect x="958" y="903" width="1" height="5"/><rect x="1022" y="903" width="1" height="5"/><rect x="1086" y="903" width="1" height="5"/><rect x="1150" y="903" width="1" height="5"/><rect x="1214" y="903" width="1" height="5"/><rect x="1278" y="903" width="1" height="5"/><rect x="1342" y="903" width="1" height="5"/><rect x="1406" y="903" width="1" height="5"/><rect x="1470" y="903" width="1" height="5"/><rect x="1534" y="903" width="1" height="5"/><rect x="1598" y="903" width="1" height="5"/><rect x="1662" y="903" width="1" height="5"/><rect x="1726" y="903" width="1" height="5"/><rect x="1790" y="903" width="1" height="5"/></g>
<rect x="1862" y="8" width="39" height="11" fill="#778899"/>
<rect x="0" y="606" width="109" height="11" fill="#000"/>
<g filter="url(#tb)" font-size="9.6px"><text transform="translate(1864.91 28) scale(0.86 1.02)">3</text><text transform="translate(1869.91 28) scale(0.86 1.02)">0</text><text transform="translate(1874.91 28) scale(0.86 1.02)">4</text><text transform="translate(1879.91 28) scale(0.86 1.02)">0</text><text transform="translate(1884.50 28) scale(0.9 1.02)">.</text><text transform="translate(1886.91 28) scale(0.86 1.02)">0</text><text transform="translate(1891.91 28) scale(0.86 1.02)">0</text><text transform="translate(1864.91 60) scale(0.86 1.02)">3</text><text transform="translate(1869.91 60) scale(0.86 1.02)">0</text><text transform="translate(1874.91 60) scale(0.86 1.02)">1</text><text transform="translate(1879.91 60) scale(0.86 1.02)">1</text><text transform="translate(1884.50 60) scale(0.9 1.02)">.</text><text transform="translate(1886.91 60) scale(0.86 1.02)">7</text><text transform="translate(1891.91 60) scale(0.86 1.02)">5</text><text transform="translate(1864.91 92) scale(0.86 1.02)">2</text><text transform="translate(1869.91 92) scale(0.86 1.02)">9</text><text transform="translate(1874.91 92) scale(0.86 1.02)">8</text><text transform="translate(1879.91 92) scale(0.86 1.02)">3</text><text transform="translate(1884.50 92) scale(0.9 1.02)">.</text><text transform="translate(1886.91 92) scale(0.86 1.02)">5</text><text transform="translate(1891.91 92) scale(0.86 1.02)">0</text><text transform="translate(1864.91 124) scale(0.86 1.02)">2</text><text transform="translate(1869.91 124) scale(0.86 1.02)">9</text><text transform="translate(1874.91 124) scale(0.86 1.02)">5</text><text transform="translate(1879.91 124) scale(0.86 1.02)">5</text><text transform="translate(1884.50 124) scale(0.9 1.02)">.</text><text transform="translate(1886.91 124) scale(0.86 1.02)">2</text><text transform="translate(1891.91 124) scale(0.86 1.02)">5</text><text transform="translate(1864.91 156) scale(0.86 1.02)">2</text><text transform="translate(1869.91 156) scale(0.86 1.02)">9</text><text transform="translate(1874.91 156) scale(0.86 1.02)">2</text><text transform="translate(1879.91 156) scale(0.86 1.02)">7</text><text transform="translate(1884.50 156) scale(0.9 1.02)">.</text><text transform="translate(1886.91 156) scale(0.86 1.02)">0</text><text transform="translate(1891.91 156) scale(0.86 1.02)">0</text><text transform="translate(1864.91 188) scale(0.86 1.02)">2</text><text transform="translate(1869.91 188) scale(0.86 1.02)">8</text><text transform="translate(1874.91 188) scale(0.86 1.02)">9</text><text transform="translate(1879.91 188) scale(0.86 1.02)">8</text><text transform="translate(1884.50 188) scale(0.9 1.02)">.</text><text transform="translate(1886.91 188) scale(0.86 1.02)">7</text><text transform="translate(1891.91 188) scale(0.86 1.02)">5</text><text transform="translate(1864.91 220) scale(0.86 1.02)">2</text><text transform="translate(1869.91 220) scale(0.86 1.02)">8</text><text transform="translate(1874.91 220) scale(0.86 1.02)">7</text><text transform="translate(1879.91 220) scale(0.86 1.02)">0</text><text transform="translate(1884.50 220) scale(0.9 1.02)">.</text><text transform="translate(1886.91 220) scale(0.86 1.02)">5</text><text transform="translate(1891.91 220) scale(0.86 1.02)">0</text><text transform="translate(1864.91 252) scale(0.86 1.02)">2</text><text transform="translate(1869.91 252) scale(0.86 1.02)">8</text><text transform="translate(1874.91 252) scale(0.86 1.02)">4</text><text transform="translate(1879.91 252) scale(0.86 1.02)">2</text><text transform="translate(1884.50 252) scale(0.9 1.02)">.</text><text transform="translate(1886.91 252) scale(0.86 1.02)">2</text><text transform="translate(1891.91 252) scale(0.86 1.02)">5</text><text transform="translate(1864.91 284) scale(0.86 1.02)">2</text><text transform="translate(1869.91 284) scale(0.86 1.02)">8</text><text transform="translate(1874.91 284) scale(0.86 1.02)">1</text><text transform="translate(1879.91 284) scale(0.86 1.02)">4</text><text transform="translate(1884.50 284) scale(0.9 1.02)">.</text><text transform="translate(1886.91 284) scale(0.86 1.02)">0</text><text transform="translate(1891.91 284) scale(0.86 1.02)">0</text><text transform="translate(1864.91 316) scale(0.86 1.02)">2</text><text transform="translate(1869.91 316) scale(0.86 1.02)">7</text><text transform="translate(1874.91 316) scale(0.86 1.02)">8</text><text transform="translate(1879.91 316) scale(0.86 1.02)">5</text><text transform="translate(1884.50 316) scale(0.9 1.02)">.</text><text transform="translate(1886.91 316) scale(0.86 1.02)">7</text><text transform="translate(1891.91 316) scale(0.86 1.02)">5</text><text transform="translate(1864.91 348) scale(0.86 1.02)">2</text><text transform="translate(1869.91 348) scale(0.86 1.02)">7</text><text transform="translate(1874.91 348) scale(0.86 1.02)">5</text><text transform="translate(1879.91 348) scale(0.86 1.02)">7</text><text transform="translate(1884.50 348) scale(0.9 1.02)">.</text><text transform="translate(1886.91 348) scale(0.86 1.02)">5</text><text transform="translate(1891.91 348) scale(0.86 1.02)">0</text><text transform="translate(1864.91 380) scale(0.86 1.02)">2</text><text transform="translate(1869.91 380) scale(0.86 1.02)">7</text><text transform="translate(1874.91 380) scale(0.86 1.02)">2</text><text transform="translate(1879.91 380) scale(0.86 1.02)">9</text><text transform="translate(1884.50 380) scale(0.9 1.02)">.</text><text transform="translate(1886.91 380) scale(0.86 1.02)">2</text><text transform="translate(1891.91 380) scale(0.86 1.02)">5</text><text transform="translate(1864.91 412) scale(0.86 1.02)">2</text><text transform="translate(1869.91 412) scale(0.86 1.02)">7</text><text transform="translate(1874.91 412) scale(0.86 1.02)">0</text><text transform="translate(1879.91 412) scale(0.86 1.02)">1</text><text transform="translate(1884.50 412) scale(0.9 1.02)">.</text><text transform="translate(1886.91 412) scale(0.86 1.02)">0</text><text transform="translate(1891.91 412) scale(0.86 1.02)">0</text><text transform="translate(1864.91 444) scale(0.86 1.02)">2</text><text transform="translate(1869.91 444) scale(0.86 1.02)">6</text><text transform="translate(1874.91 444) scale(0.86 1.02)">7</text><text transform="translate(1879.91 444) scale(0.86 1.02)">2</text><text transform="translate(1884.50 444) scale(0.9 1.02)">.</text><text transform="translate(1886.91 444) scale(0.86 1.02)">7</text><text transform="translate(1891.91 444) scale(0.86 1.02)">5</text><text transform="translate(1864.91 476) scale(0.86 1.02)">2</text><text transform="translate(1869.91 476) scale(0.86 1.02)">6</text><text transform="translate(1874.91 476) scale(0.86 1.02)">4</text><text transform="translate(1879.91 476) scale(0.86 1.02)">4</text><text transform="translate(1884.50 476) scale(0.9 1.02)">.</text><text transform="translate(1886.91 476) scale(0.86 1.02)">5</text><text transform="translate(1891.91 476) scale(0.86 1.02)">0</text><text transform="translate(1864.91 508) scale(0.86 1.02)">2</text><text transform="translate(1869.91 508) scale(0.86 1.02)">6</text><text transform="translate(1874.91 508) scale(0.86 1.02)">1</text><text transform="translate(1879.91 508) scale(0.86 1.02)">6</text><text transform="translate(1884.50 508) scale(0.9 1.02)">.</text><text transform="translate(1886.91 508) scale(0.86 1.02)">2</text><text transform="translate(1891.91 508) scale(0.86 1.02)">5</text><text transform="translate(1864.91 540) scale(0.86 1.02)">2</text><text transform="translate(1869.91 540) scale(0.86 1.02)">5</text><text transform="translate(1874.91 540) scale(0.86 1.02)">8</text><text transform="translate(1879.91 540) scale(0.86 1.02)">8</text><text transform="translate(1884.50 540) scale(0.9 1.02)">.</text><text transform="translate(1886.91 540) scale(0.86 1.02)">0</text><text transform="translate(1891.91 540) scale(0.86 1.02)">0</text><text transform="translate(1864.91 572) scale(0.86 1.02)">2</text><text transform="translate(1869.91 572) scale(0.86 1.02)">5</text><text transform="translate(1874.91 572) scale(0.86 1.02)">5</text><text transform="translate(1879.91 572) scale(0.86 1.02)">9</text><text transform="translate(1884.50 572) scale(0.9 1.02)">.</text><text transform="translate(1886.91 572) scale(0.86 1.02)">7</text><text transform="translate(1891.91 572) scale(0.86 1.02)">5</text><text transform="translate(1864.91 17) scale(0.86 1.02)" style="fill:#000">3</text><text transform="translate(1869.91 17) scale(0.86 1.02)" style="fill:#000">0</text><text transform="translate(1874.91 17) scale(0.86 1.02)" style="fill:#000">4</text><text transform="translate(1879.91 17) scale(0.86 1.02)" style="fill:#000">9</text><text transform="translate(1884.50 17) scale(0.9 1.02)" style="fill:#000">.</text><text transform="translate(1886.91 17) scale(0.86 1.02)" style="fill:#000">1</text><text transform="translate(1891.91 17) scale(0.86 1.02)" style="fill:#000">1</text><text transform="translate(1865.91 611) scale(0.86 1.02)">1</text><text transform="translate(1870.91 611) scale(0.86 1.02)">0</text><text transform="translate(1875.91 611) scale(0.86 1.02)">0</text><text transform="translate(1880.50 611) scale(0.9 1.02)">.</text><text transform="translate(1882.91 611) scale(0.86 1.02)">0</text><text transform="translate(1887.91 611) scale(0.86 1.02)">0</text><text transform="translate(1864.91 667) scale(0.86 1.02)">8</text><text transform="translate(1869.91 667) scale(0.86 1.02)">0</text><text transform="translate(1874.50 667) scale(0.9 1.02)">.</text><text transform="translate(1876.91 667) scale(0.86 1.02)">0</text><text transform="translate(1881.91 667) scale(0.86 1.02)">0</text><text transform="translate(1864.91 848) scale(0.86 1.02)">2</text><text transform="translate(1869.91 848) scale(0.86 1.02)">0</text><text transform="translate(1874.50 848) scale(0.9 1.02)">.</text><text transform="translate(1876.91 848) scale(0.86 1.02)">0</text><text transform="translate(1881.91 848) scale(0.86 1.02)">0</text><text transform="translate(1864.91 901) scale(0.86 1.02)">0</text><text transform="translate(1869.50 901) scale(0.9 1.02)">.</text><text transform="translate(1871.91 901) scale(0.86 1.02)">0</text><text transform="translate(1876.91 901) scale(0.86 1.02)">0</text><text transform="translate(-2.09 916) scale(0.86 1.02)">8</text><text transform="translate(5.84 916) scale(0.9 1.02)">O</text><text transform="translate(13.04 916) scale(0.9 1.02)">c</text><text transform="translate(18.00 916) scale(0.9 1.02)">t</text><text transform="translate(23.91 916) scale(0.86 1.02)">2</text><text transform="translate(28.91 916) scale(0.86 1.02)">0</text><text transform="translate(33.91 916) scale(0.86 1.02)">2</text><text transform="translate(38.91 916) scale(0.86 1.02)">4</text><text transform="translate(61.91 916) scale(0.86 1.02)">1</text><text transform="translate(66.91 916) scale(0.86 1.02)">4</text><text transform="translate(74.84 916) scale(0.9 1.02)">O</text><text transform="translate(82.04 916) scale(0.9 1.02)">c</text><text transform="translate(87.00 916) scale(0.9 1.02)">t</text><text transform="translate(92.91 916) scale(0.86 1.02)">2</text><text transform="translate(97.91 916) scale(0.86 1.02)">0</text><text transform="translate(102.91 916) scale(0.86 1.02)">2</text><text transform="translate(107.91 916) scale(0.86 1.02)">4</text><text transform="translate(125.91 916) scale(0.86 1.02)">1</text><text transform="translate(130.91 916) scale(0.86 1.02)">8</text><text transform="translate(138.84 916) scale(0.9 1.02)">O</text><text transform="translate(146.04 916) scale(0.9 1.02)">c</text><text transform="translate(151.00 916) scale(0.9 1.02)">t</text><text transform="translate(156.91 916) scale(0.86 1.02)">2</text><text transform="translate(161.91 916) scale(0.86 1.02)">0</text><text transform="translate(166.91 916) scale(0.86 1.02)">2</text><text transform="translate(171.91 916) scale(0.86 1.02)">4</text><text transform="translate(189.91 916) scale(0.86 1.02)">2</text><text transform="translate(194.91 916) scale(0.86 1.02)">4</text><text transform="translate(202.84 916) scale(0.9 1.02)">O</text><text transform="translate(210.04 916) scale(0.9 1.02)">c</text><text transform="translate(215.00 916) scale(0.9 1.02)">t</text><text transform="translate(220.91 916) scale(0.86 1.02)">2</text><text transform="translate(225.91 916) scale(0.86 1.02)">0</text><text transform="translate(230.91 916) scale(0.86 1.02)">2</text><text transform="translate(235.91 916) scale(0.86 1.02)">4</text><text transform="translate(253.91 916) scale(0.86 1.02)">3</text><text transform="translate(258.91 916) scale(0.86 1.02)">0</text><text transform="translate(266.84 916) scale(0.9 1.02)">O</text><text transform="translate(274.04 916) scale(0.9 1.02)">c</text><text transform="translate(279.00 916) scale(0.9 1.02)">t</text><text transform="translate(284.91 916) scale(0.86 1.02)">2</text><text transform="translate(289.91 916) scale(0.86 1.02)">0</text><text transform="translate(294.91 916) scale(0.86 1.02)">2</text><text transform="translate(299.91 916) scale(0.86 1.02)">4</text><text transform="translate(317.91 916) scale(0.86 1.02)">5</text><text transform="translate(326.08 916) scale(0.9 1.02)">N</text><text transform="translate(332.80 916) scale(0.9 1.02)">o</text><text transform="translate(338.04 916) scale(0.9 1.02)">v</text><text transform="translate(345.91 916) scale(0.86 1.02)">2</text><text transform="translate(350.91 916) scale(0.86 1.02)">0</text><text transform="translate(355.91 916) scale(0.86 1.02)">2</text><text transform="translate(360.91 916) scale(0.86 1.02)">4</text><text transform="translate(381.91 916) scale(0.86 1.02)">1</text><text transform="translate(386.91 916) scale(0.86 1.02)">1</text><text transform="translate(395.08 916) scale(0.9 1.02)">N</text><text transform="translate(401.80 916) scale(0.9 1.02)">o</text><text transform="translate(407.04 916) scale(0.9 1.02)">v</text><text transform="translate(414.91 916) scale(0.86 1.02)">2</text><text transform="translate(419.91 916) scale(0.86 1.02)">0</text><text transform="translate(424.91 916) scale(0.86 1.02)">2</text><text transform="translate(429.91 916) scale(0.86 1.02)">4</text><text transform="translate(445.91 916) scale(0.86 1.02)">1</text><text transform="translate(450.91 916) scale(0.86 1.02)">5</text><text transform="translate(459.08 916) scale(0.9 1.02)">N</text><text transform="translate(465.80 916) scale(0.9 1.02)">o</text><text transform="translate(471.04 916) scale(0.9 1.02)">v</text><text transform="translate(478.91 916) scale(0.86 1.02)">2</text><text transform="translate(483.91 916) scale(0.86 1.02)">0</text><text transform="translate(488.91 916) scale(0.86 1.02)">2</text><text transform="translate(493.91 916) scale(0.86 1.02)">4</text><text transform="translate(509.91 916) scale(0.86 1.02)">2</text><text transform="translate(514.91 916) scale(0.86 1.02)">1</text><text transform="translate(523.08 916) scale(0.9 1.02)">N</text><text transform="translate(529.80 916) scale(0.9 1.02)">o</text><text transform="translate(535.04 916) scale(0.9 1.02)">v</text><text transform="translate(542.91 916) scale(0.86 1.02)">2</text><text transform="translate(547.91 916) scale(0.86 1.02)">0</text><text transform="translate(552.91 916) scale(0.86 1.02)">2</text><text transform="translate(557.91 916) scale(0.86 1.02)">4</text><text transform="translate(573.91 916) scale(0.86 1.02)">2</text><text transform="translate(578.91 916) scale(0.86 1.02)">7</text><text transform="translate(587.08 916) scale(0.9 1.02)">N</text><text transform="translate(593.80 916) scale(0.9 1.02)">o</text><text transform="translate(599.04 916) scale(0.9 1.02)">v</text><text transform="translate(606.91 916) scale(0.86 1.02)">2</text><text transform="translate(611.91 916) scale(0.86 1.02)">0</text><text transform="translate(616.91 916) scale(0.86 1.02)">2</text><text transform="translate(621.91 916) scale(0.86 1.02)">4</text><text transform="translate(637.91 916) scale(0.86 1.02)">3</text><text transform="translate(646.08 916) scale(0.9 1.02)">D</text><text transform="translate(652.80 916) scale(0.9 1.02)">e</text><text transform="translate(658.04 916) scale(0.9 1.02)">c</text><text transform="translate(665.91 916) scale(0.86 1.02)">2</text><text transform="translate(670.91 916) scale(0.86 1.02)">0</text><text transform="translate(675.91 916) scale(0.86 1.02)">2</text><text transform="translate(680.91 916) scale(0.86 1.02)">4</text><text transform="translate(701.91 916) scale(0.86 1.02)">9</text><text transform="translate(710.08 916) scale(0.9 1.02)">D</text><text transform="translate(716.80 916) scale(0.9 1.02)">e</text><text transform="translate(722.04 916) scale(0.9 1.02)">c</text><text transform="translate(729.91 916) scale(0.86 1.02)">2</text><text transform="translate(734.91 916) scale(0.86 1.02)">0</text><text transform="translate(739.91 916) scale(0.86 1.02)">2</text><text transform="translate(744.91 916) scale(0.86 1.02)">4</text><text transform="translate(765.91 916) scale(0.86 1.02)">1</text><text transform="translate(770.91 916) scale(0.86 1.02)">3</text><text transform="translate(779.08 916) scale(0.9 1.02)">D</text><text transform="translate(785.80 916) scale(0.9 1.02)">e</text><text transform="translate(791.04 916) scale(0.9 1.02)">c</text><text transform="translate(798.91 916) scale(0.86 1.02)">2</text><text transform="translate(803.91 916) scale(0.86 1.02)">0</text><text transform="translate(808.91 916) scale(0.86 1.02)">2</text><text transform="translate(813.91 916) scale(0.86 1.02)">4</text><text transform="translate(829.91 916) scale(0.86 1.02)">1</text><text transform="translate(834.91 916) scale(0.86 1.02)">9</text><text transform="translate(843.08 916) scale(0.9 1.02)">D</text><text transform="translate(849.80 916) scale(0.9 1.02)">e</text><text transform="translate(855.04 916) scale(0.9 1.02)">c</text><text transform="translate(862.91 916) scale(0.86 1.02)">2</text><text transform="translate(867.91 916) scale(0.86 1.02)">0</text><text transform="translate(872.91 916) scale(0.86 1.02)">2</text><text transform="translate(877.91 916) scale(0.86 1.02)">4</text><text transform="translate(893.91 916) scale(0.86 1.02)">2</text><text transform="translate(898.91 916) scale(0.86 1.02)">6</text><text transform="translate(907.08 916) scale(0.9 1.02)">D</text><text transform="translate(913.80 916) scale(0.9 1.02)">e</text><text transform="translate(919.04 916) scale(0.9 1.02)">c</text><text transform="translate(926.91 916) scale(0.86 1.02)">2</text><text transform="translate(931.91 916) scale(0.86 1.02)">0</text><text transform="translate(936.91 916) scale(0.86 1.02)">2</text><text transform="translate(941.91 916) scale(0.86 1.02)">4</text><text transform="translate(957.91 916) scale(0.86 1.02)">2</text><text transform="translate(966.04 916) scale(0.9 1.02)">J</text><text transform="translate(970.80 916) scale(0.9 1.02)">a</text><text transform="translate(975.80 916) scale(0.9 1.02)">n</text><text transform="translate(983.91 916) scale(0.86 1.02)">2</text><text transform="translate(988.91 916) scale(0.86 1.02)">0</text><text transform="translate(993.91 916) scale(0.86 1.02)">2</text><text transform="translate(998.91 916) scale(0.86 1.02)">5</text><text transform="translate(1021.91 916) scale(0.86 1.02)">8</text><text transform="translate(1030.04 916) scale(0.9 1.02)">J</text><text transform="translate(1034.80 916) scale(0.9 1.02)">a</text><text transform="translate(1039.80 916) scale(0.9 1.02)">n</text><text transform="translate(1047.91 916) scale(0.86 1.02)">2</text><text transform="translate(1052.91 916) scale(0.86 1.02)">0</text><text transform="translate(1057.91 916) scale(0.86 1.02)">2</text><text transform="translate(1062.91 916) scale(0.86 1.02)">5</text><text transform="translate(1085.91 916) scale(0.86 1.02)">1</text><text transform="translate(1090.91 916) scale(0.86 1.02)">4</text><text transform="translate(1099.04 916) scale(0.9 1.02)">J</text><text transform="translate(1103.80 916) scale(0.9 1.02)">a</text><text transform="translate(1108.80 916) scale(0.9 1.02)">n</text><text transform="translate(1116.91 916) scale(0.86 1.02)">2</text><text transform="translate(1121.91 916) scale(0.86 1.02)">0</text><text transform="translate(1126.91 916) scale(0.86 1.02)">2</text><text transform="translate(1131.91 916) scale(0.86 1.02)">5</text><text transform="translate(1149.91 916) scale(0.86 1.02)">2</text><text transform="translate(1154.91 916) scale(0.86 1.02)">0</text><text transform="translate(1163.04 916) scale(0.9 1.02)">J</text><text transform="translate(1167.80 916) scale(0.9 1.02)">a</text><text transform="translate(1172.80 916) scale(0.9 1.02)">n</text><text transform="translate(1180.91 916) scale(0.86 1.02)">2</text><text transform="translate(1185.91 916) scale(0.86 1.02)">0</text><text transform="translate(1190.91 916) scale(0.86 1.02)">2</text><text transform="translate(1195.91 916) scale(0.86 1.02)">5</text><text transform="translate(1213.91 916) scale(0.86 1.02)">2</text><text transform="translate(1218.91 916) scale(0.86 1.02)">4</text><text transform="translate(1227.04 916) scale(0.9 1.02)">J</text><text transform="translate(1231.80 916) scale(0.9 1.02)">a</text><text transform="translate(1236.80 916) scale(0.9 1.02)">n</text><text transform="translate(1244.91 916) scale(0.86 1.02)">2</text><text transform="translate(1249.91 916) scale(0.86 1.02)">0</text><text transform="translate(1254.91 916) scale(0.86 1.02)">2</text><text transform="translate(1259.91 916) scale(0.86 1.02)">5</text><text transform="translate(1277.91 916) scale(0.86 1.02)">3</text><text transform="translate(1282.91 916) scale(0.86 1.02)">0</text><text transform="translate(1291.04 916) scale(0.9 1.02)">J</text><text transform="translate(1295.80 916) scale(0.9 1.02)">a</text><text transform="translate(1300.80 916) scale(0.9 1.02)">n</text><text transform="translate(1308.91 916) scale(0.86 1.02)">2</text><text transform="translate(1313.91 916) scale(0.86 1.02)">0</text><text transform="translate(1318.91 916) scale(0.86 1.02)">2</text><text transform="translate(1323.91 916) scale(0.86 1.02)">5</text><text transform="translate(1341.91 916) scale(0.86 1.02)">5</text><text transform="translate(1350.06 916) scale(0.9 1.02)">F</text><text transform="translate(1355.80 916) scale(0.9 1.02)">e</text><text transform="translate(1360.80 916) scale(0.9 1.02)">b</text><text transform="translate(1368.91 916) scale(0.86 1.02)">2</text><text transform="translate(1373.91 916) scale(0.86 1.02)">0</text><text transform="translate(1378.91 916) scale(0.86 1.02)">2</text><text transform="translate(1383.91 916) scale(0.86 1.02)">5</text><text transform="translate(1405.91 916) scale(0.86 1.02)">1</text><text transform="translate(1410.91 916) scale(0.86 1.02)">1</text><text transform="translate(1419.06 916) scale(0.9 1.02)">F</text><text transform="translate(1424.80 916) scale(0.9 1.02)">e</text><text transform="translate(1429.80 916) scale(0.9 1.02)">b</text><text transform="translate(1437.91 916) scale(0.86 1.02)">2</text><text transform="translate(1442.91 916) scale(0.86 1.02)">0</text><text transform="translate(1447.91 916) scale(0.86 1.02)">2</text><text transform="translate(1452.91 916) scale(0.86 1.02)">5</text><text transform="translate(1469.91 916) scale(0.86 1.02)">1</text><text transform="translate(1474.91 916) scale(0.86 1.02)">7</text><text transform="translate(1483.06 916) scale(0.9 1.02)">F</text><text transform="translate(1488.80 916) scale(0.9 1.02)">e</text><text transform="translate(1493.80 916) scale(0.9 1.02)">b</text><text transform="translate(1501.91 916) scale(0.86 1.02)">2</text><text transform="translate(1506.91 916) scale(0.86 1.02)">0</text><text transform="translate(1511.91 916) scale(0.86 1.02)">2</text><text transform="translate(1516.91 916) scale(0.86 1.02)">5</text><text transform="translate(1533.91 916) scale(0.86 1.02)">2</text><text transform="translate(1538.91 916) scale(0.86 1.02)">1</text><text transform="translate(1547.06 916) scale(0.9 1.02)">F</text><text transform="translate(1552.80 916) scale(0.9 1.02)">e</text><text transform="translate(1557.80 916) scale(0.9 1.02)">b</text><text transform="translate(1565.91 916) scale(0.86 1.02)">2</text><text transform="translate(1570.91 916) scale(0.86 1.02)">0</text><text transform="translate(1575.91 916) scale(0.86 1.02)">2</text><text transform="translate(1580.91 916) scale(0.86 1.02)">5</text><text transform="translate(1597.91 916) scale(0.86 1.02)">2</text><text transform="translate(1602.91 916) scale(0.86 1.02)">7</text><text transform="translate(1611.06 916) scale(0.9 1.02)">F</text><text transform="translate(1616.80 916) scale(0.9 1.02)">e</text><text transform="translate(1621.80 916) scale(0.9 1.02)">b</text><text transform="translate(1629.91 916) scale(0.86 1.02)">2</text><text transform="translate(1634.91 916) scale(0.86 1.02)">0</text><text transform="translate(1639.91 916) scale(0.86 1.02)">2</text><text transform="translate(1644.91 916) scale(0.86 1.02)">5</text><text transform="translate(1661.91 916) scale(0.86 1.02)">5</text><text transform="translate(1670.10 916) scale(0.9 1.02)">M</text><text transform="translate(1677.80 916) scale(0.9 1.02)">a</text><text transform="translate(1682.76 916) scale(0.9 1.02)">r</text><text transform="translate(1688.91 916) scale(0.86 1.02)">2</text><text transform="translate(1693.91 916) scale(0.86 1.02)">0</text><text transform="translate(1698.91 916) scale(0.86 1.02)">2</text><text transform="translate(1703.91 916) scale(0.86 1.02)">5</text><text transform="translate(1725.91 916) scale(0.86 1.02)">1</text><text transform="translate(1730.91 916) scale(0.86 1.02)">1</text><text transform="translate(1739.10 916) scale(0.9 1.02)">M</text><text transform="translate(1746.80 916) scale(0.9 1.02)">a</text><text transform="translate(1751.76 916) scale(0.9 1.02)">r</text><text transform="translate(1757.91 916) scale(0.86 1.02)">2</text><text transform="translate(1762.91 916) scale(0.86 1.02)">0</text><text transform="translate(1767.91 916) scale(0.86 1.02)">2</text><text transform="translate(1772.91 916) scale(0.86 1.02)">5</text><text transform="translate(1789.91 916) scale(0.86 1.02)">1</text><text transform="translate(1794.91 916) scale(0.86 1.02)">7</text><text transform="translate(1803.10 916) scale(0.9 1.02)">M</text><text transform="translate(1810.80 916) scale(0.9 1.02)">a</text><text transform="translate(1815.76 916) scale(0.9 1.02)">r</text><text transform="translate(1821.91 916) scale(0.86 1.02)">2</text><text transform="translate(1826.91 916) scale(0.86 1.02)">0</text><text transform="translate(1831.91 916) scale(0.86 1.02)">2</text><text transform="translate(1836.91 916) scale(0.86 1.02)">5</text><text transform="translate(44.82 13) scale(0.9 1.02)">X</text><text transform="translate(50.82 13) scale(0.9 1.02)">A</text><text transform="translate(57.08 13) scale(0.9 1.02)">U</text><text transform="translate(64.08 13) scale(0.9 1.02)">U</text><text transform="translate(70.82 13) scale(0.9 1.02)">S</text><text transform="translate(77.08 13) scale(0.9 1.02)">D</text><text transform="translate(84.00 13) scale(0.9 1.02)">,</text><text transform="translate(90.08 13) scale(0.9 1.02)">D</text><text transform="translate(96.80 13) scale(0.9 1.02)">a</text><text transform="translate(101.74 13) scale(0.9 1.02)">i</text><text transform="translate(103.74 13) scale(0.9 1.02)">l</text><text transform="translate(106.04 13) scale(0.9 1.02)">y</text><text transform="translate(111.00 13) scale(0.9 1.02)">:</text><text transform="translate(119.84 13) scale(0.9 1.02)">G</text><text transform="translate(126.80 13) scale(0.9 1.02)">o</text><text transform="translate(131.74 13) scale(0.9 1.02)">l</text><text transform="translate(133.80 13) scale(0.9 1.02)">d</text><text transform="translate(142.04 13) scale(0.9 1.02)">v</text><text transform="translate(147.04 13) scale(0.9 1.02)">s</text><text transform="translate(155.08 13) scale(0.9 1.02)">U</text><text transform="translate(161.82 13) scale(0.9 1.02)">S</text><text transform="translate(171.08 13) scale(0.9 1.02)">D</text><text transform="translate(177.80 13) scale(0.9 1.02)">o</text><text transform="translate(182.74 13) scale(0.9 1.02)">l</text><text transform="translate(184.74 13) scale(0.9 1.02)">l</text><text transform="translate(186.80 13) scale(0.9 1.02)">a</text><text transform="translate(191.76 13) scale(0.9 1.02)">r</text><text transform="translate(1.82 615) scale(0.9 1.02)">S</text><text transform="translate(8.00 615) scale(0.9 1.02)">t</text><text transform="translate(10.80 615) scale(0.9 1.02)">o</text><text transform="translate(16.04 615) scale(0.9 1.02)">c</text><text transform="translate(20.80 615) scale(0.9 1.02)">h</text><text transform="translate(25.76 615) scale(0.9 1.02)">(</text><text transform="translate(28.91 615) scale(0.86 1.02)">3</text><text transform="translate(33.91 615) scale(0.86 1.02)">7</text><text transform="translate(39.00 615) scale(0.9 1.02)">,</text><text transform="translate(41.91 615) scale(0.86 1.02)">3</text><text transform="translate(47.00 615) scale(0.9 1.02)">,</text><text transform="translate(49.91 615) scale(0.86 1.02)">9</text><text transform="translate(54.76 615) scale(0.9 1.02)">)</text><text transform="translate(60.91 615) scale(0.86 1.02)">9</text><text transform="translate(65.91 615) scale(0.86 1.02)">3</text><text transform="translate(70.50 615) scale(0.9 1.02)">.</text><text transform="translate(72.91 615) scale(0.86 1.02)">4</text><text transform="translate(77.91 615) scale(0.86 1.02)">7</text><text transform="translate(85.91 615) scale(0.86 1.02)">9</text><text transform="translate(90.91 615) scale(0.86 1.02)">1</text><text transform="translate(95.50 615) scale(0.9 1.02)">.</text><text transform="translate(97.91 615) scale(0.86 1.02)">7</text><text transform="translate(102.91 615) scale(0.86 1.02)">0</text></g>
<g shape-rendering="crispEdges">
<rect x="3" y="4" width="7" height="11" fill="#FF0000"/><rect x="10" y="4" width="8" height="11" fill="#1060A8"/><rect x="4" y="5" width="13" height="9" fill="#FFFFFF"/>
<rect x="11" y="7" width="5" height="2" fill="#D8D0C8"/><rect x="11" y="10" width="5" height="2" fill="#D8D0C8"/>
<path d="M5 6h5v1h-5zM5 9h5v1h-5zM5 12h5v1h-5z" fill="#FF0000"/><path d="M11 6h5v1h-5zM11 9h5v1h-5zM11 12h5v1h-5z" fill="#1060A8"/>
<rect x="24" y="4" width="4" height="11" fill="#FF0000"/><rect x="24" y="8" width="7" height="7" fill="#FF0000"/><rect x="25" y="5" width="2" height="9" fill="#FFFFFF"/><rect x="25" y="9" width="5" height="5" fill="#FFFFFF"/>
<path d="M26 11h1v1h-1zM27 10h1v1h-1zM28 11h1v1h-1z" fill="#A0A0A0"/>
<rect x="29" y="4" width="5" height="3" fill="#8090A8"/><rect x="30" y="5" width="3" height="1" fill="#E0E8F0"/>
<rect x="35" y="4" width="4" height="11" fill="#1060A8"/><rect x="32" y="8" width="7" height="7" fill="#1060A8"/><rect x="36" y="5" width="2" height="9" fill="#D8D0C8"/><rect x="33" y="9" width="5" height="5" fill="#D8D0C8"/>
<path d="M34 10h2v1h-2zM35 11h2v1h-2zM34 12h2v1h-2z" fill="#FFFFFF"/><rect x="35" y="8" width="1" height="1" fill="#40C0A0"/>
</g>
</svg>
</body></html>
